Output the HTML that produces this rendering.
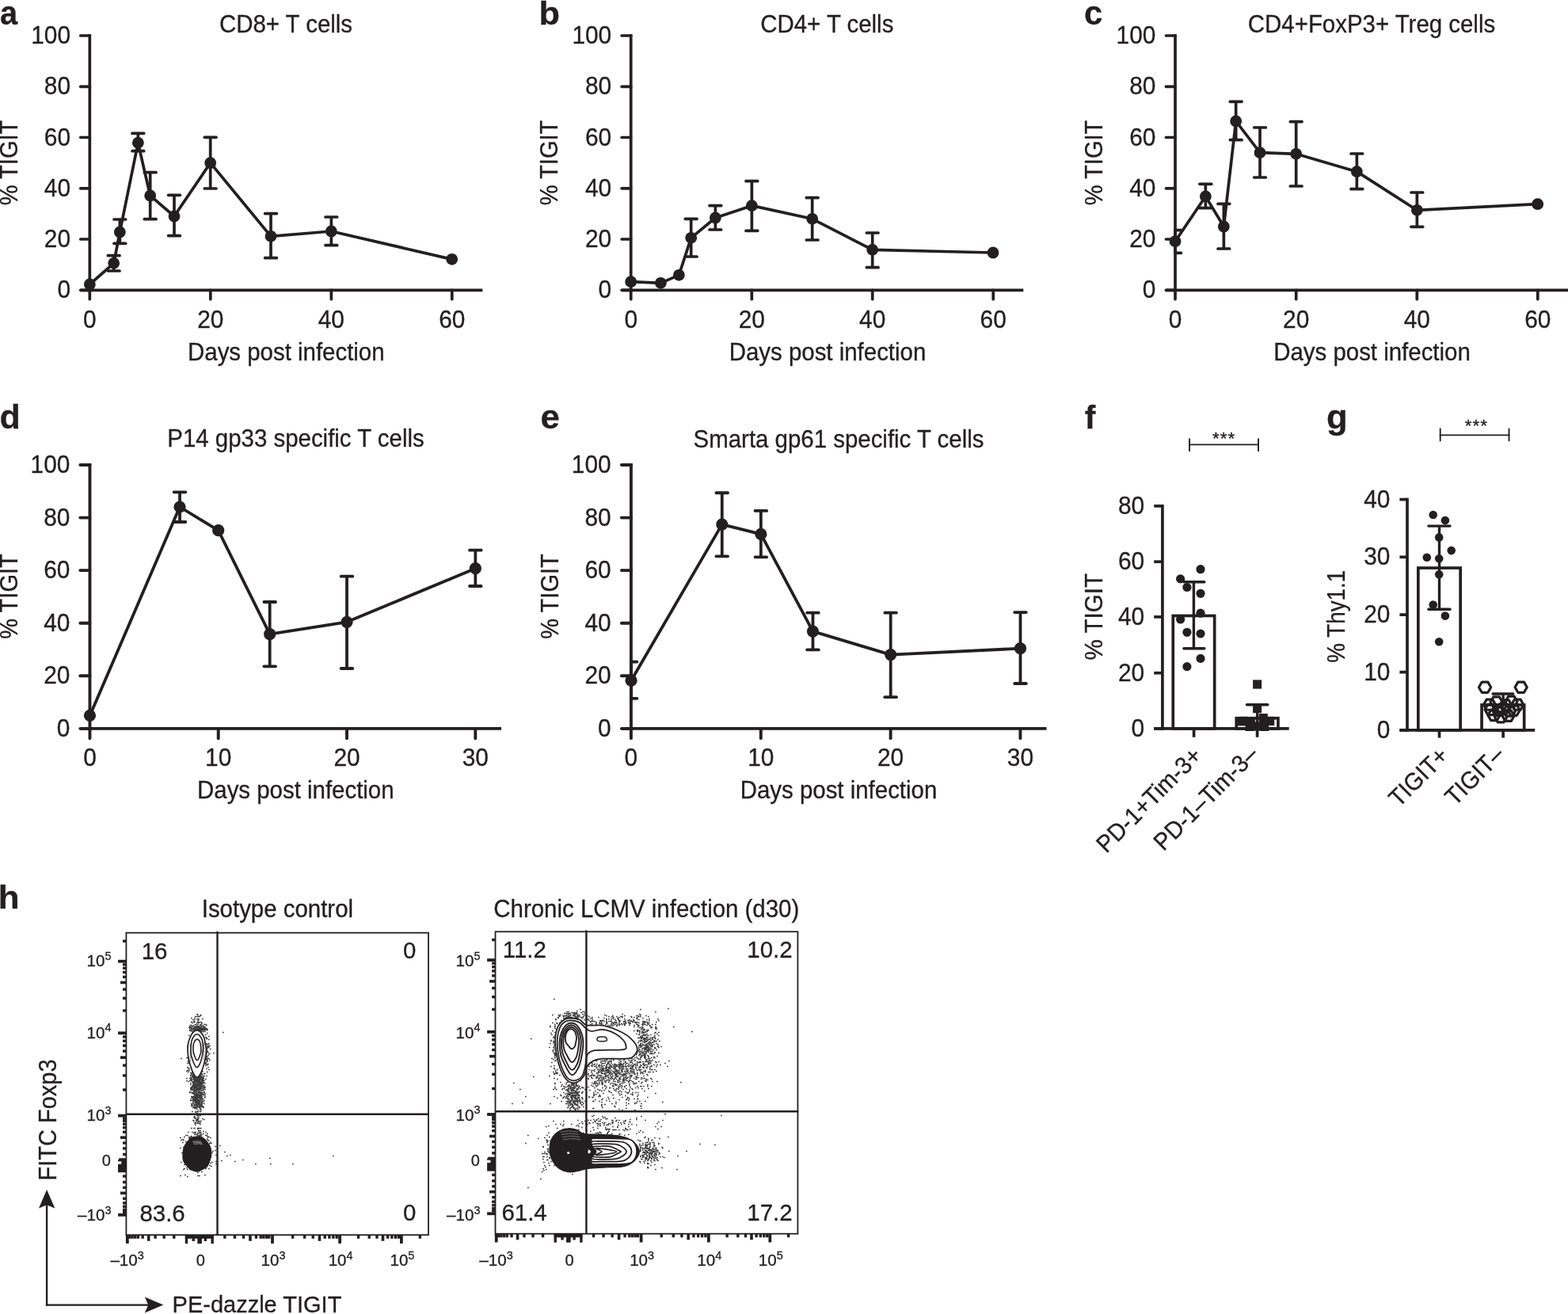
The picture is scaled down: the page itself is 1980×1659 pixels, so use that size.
<!DOCTYPE html>
<html lang="en"><head><meta charset="utf-8"><title>Figure</title>
<style>
html,body{margin:0;padding:0;background:#fff;}
svg{display:block;}
text{font-family:'Liberation Sans', Arial, Helvetica, sans-serif;fill:#231f20;stroke:#231f20;stroke-width:0.3px;}
</style></head><body>
<svg width="1980" height="1659" viewBox="0 0 1980 1659">
<rect width="1980" height="1659" fill="#fff"/>
<line x1="113.30" y1="43.15" x2="113.30" y2="368.15" stroke="#231f20" stroke-width="3.7" stroke-linecap="butt"/>
<line x1="101.75" y1="366.30" x2="609.30" y2="366.30" stroke="#231f20" stroke-width="3.7" stroke-linecap="butt"/>
<line x1="101.75" y1="45.00" x2="113.30" y2="45.00" stroke="#231f20" stroke-width="3.7" stroke-linecap="round"/>
<text font-size="29" text-anchor="end" transform="translate(89.00 55.00) scale(1.03 1.055)">100</text>
<line x1="101.75" y1="109.30" x2="113.30" y2="109.30" stroke="#231f20" stroke-width="3.7" stroke-linecap="round"/>
<text font-size="29" text-anchor="end" transform="translate(89.00 119.30) scale(1.03 1.055)">80</text>
<line x1="101.75" y1="173.50" x2="113.30" y2="173.50" stroke="#231f20" stroke-width="3.7" stroke-linecap="round"/>
<text font-size="29" text-anchor="end" transform="translate(89.00 183.50) scale(1.03 1.055)">60</text>
<line x1="101.75" y1="237.80" x2="113.30" y2="237.80" stroke="#231f20" stroke-width="3.7" stroke-linecap="round"/>
<text font-size="29" text-anchor="end" transform="translate(89.00 247.80) scale(1.03 1.055)">40</text>
<line x1="101.75" y1="302.00" x2="113.30" y2="302.00" stroke="#231f20" stroke-width="3.7" stroke-linecap="round"/>
<text font-size="29" text-anchor="end" transform="translate(89.00 312.00) scale(1.03 1.055)">20</text>
<line x1="101.75" y1="366.30" x2="113.30" y2="366.30" stroke="#231f20" stroke-width="3.7" stroke-linecap="round"/>
<text font-size="29" text-anchor="end" transform="translate(89.00 376.30) scale(1.03 1.055)">0</text>
<line x1="113.30" y1="366.30" x2="113.30" y2="377.75" stroke="#231f20" stroke-width="3.7" stroke-linecap="round"/>
<text font-size="29" text-anchor="middle" transform="translate(113.30 413.50) scale(1.03 1.055)">0</text>
<line x1="265.80" y1="366.30" x2="265.80" y2="377.75" stroke="#231f20" stroke-width="3.7" stroke-linecap="round"/>
<text font-size="29" text-anchor="middle" transform="translate(265.80 413.50) scale(1.03 1.055)">20</text>
<line x1="418.30" y1="366.30" x2="418.30" y2="377.75" stroke="#231f20" stroke-width="3.7" stroke-linecap="round"/>
<text font-size="29" text-anchor="middle" transform="translate(418.30 413.50) scale(1.03 1.055)">40</text>
<line x1="570.80" y1="366.30" x2="570.80" y2="377.75" stroke="#231f20" stroke-width="3.7" stroke-linecap="round"/>
<text font-size="29" text-anchor="middle" transform="translate(570.80 413.50) scale(1.03 1.055)">60</text>
<line x1="143.67" y1="322.67" x2="143.67" y2="342.00" stroke="#231f20" stroke-width="3.7" stroke-linecap="butt"/>
<line x1="136.32" y1="322.67" x2="151.02" y2="322.67" stroke="#231f20" stroke-width="3.7" stroke-linecap="round"/>
<line x1="136.32" y1="342.00" x2="151.02" y2="342.00" stroke="#231f20" stroke-width="3.7" stroke-linecap="round"/>
<line x1="151.33" y1="277.00" x2="151.33" y2="307.33" stroke="#231f20" stroke-width="3.7" stroke-linecap="butt"/>
<line x1="143.98" y1="277.00" x2="158.68" y2="277.00" stroke="#231f20" stroke-width="3.7" stroke-linecap="round"/>
<line x1="143.98" y1="307.33" x2="158.68" y2="307.33" stroke="#231f20" stroke-width="3.7" stroke-linecap="round"/>
<line x1="174.33" y1="168.33" x2="174.33" y2="190.67" stroke="#231f20" stroke-width="3.7" stroke-linecap="butt"/>
<line x1="166.98" y1="168.33" x2="181.68" y2="168.33" stroke="#231f20" stroke-width="3.7" stroke-linecap="round"/>
<line x1="166.98" y1="190.67" x2="181.68" y2="190.67" stroke="#231f20" stroke-width="3.7" stroke-linecap="round"/>
<line x1="189.67" y1="217.67" x2="189.67" y2="276.67" stroke="#231f20" stroke-width="3.7" stroke-linecap="butt"/>
<line x1="182.32" y1="217.67" x2="197.02" y2="217.67" stroke="#231f20" stroke-width="3.7" stroke-linecap="round"/>
<line x1="182.32" y1="276.67" x2="197.02" y2="276.67" stroke="#231f20" stroke-width="3.7" stroke-linecap="round"/>
<line x1="220.00" y1="246.33" x2="220.00" y2="297.67" stroke="#231f20" stroke-width="3.7" stroke-linecap="butt"/>
<line x1="212.65" y1="246.33" x2="227.35" y2="246.33" stroke="#231f20" stroke-width="3.7" stroke-linecap="round"/>
<line x1="212.65" y1="297.67" x2="227.35" y2="297.67" stroke="#231f20" stroke-width="3.7" stroke-linecap="round"/>
<line x1="265.67" y1="173.33" x2="265.67" y2="238.00" stroke="#231f20" stroke-width="3.7" stroke-linecap="butt"/>
<line x1="258.32" y1="173.33" x2="273.02" y2="173.33" stroke="#231f20" stroke-width="3.7" stroke-linecap="round"/>
<line x1="258.32" y1="238.00" x2="273.02" y2="238.00" stroke="#231f20" stroke-width="3.7" stroke-linecap="round"/>
<line x1="342.00" y1="269.67" x2="342.00" y2="325.67" stroke="#231f20" stroke-width="3.7" stroke-linecap="butt"/>
<line x1="334.65" y1="269.67" x2="349.35" y2="269.67" stroke="#231f20" stroke-width="3.7" stroke-linecap="round"/>
<line x1="334.65" y1="325.67" x2="349.35" y2="325.67" stroke="#231f20" stroke-width="3.7" stroke-linecap="round"/>
<line x1="418.33" y1="274.00" x2="418.33" y2="309.67" stroke="#231f20" stroke-width="3.7" stroke-linecap="butt"/>
<line x1="410.98" y1="274.00" x2="425.68" y2="274.00" stroke="#231f20" stroke-width="3.7" stroke-linecap="round"/>
<line x1="410.98" y1="309.67" x2="425.68" y2="309.67" stroke="#231f20" stroke-width="3.7" stroke-linecap="round"/>
<polyline points="113.33,359.00 143.67,332.33 151.33,293.00 174.33,180.33 189.67,247.00 220.00,273.00 265.67,205.67 342.00,298.33 418.33,292.00 570.67,327.33" fill="none" stroke="#231f20" stroke-width="3.7" stroke-linejoin="round"/>
<circle cx="113.33" cy="359.00" r="7.4" fill="#231f20"/>
<circle cx="143.67" cy="332.33" r="7.4" fill="#231f20"/>
<circle cx="151.33" cy="293.00" r="7.4" fill="#231f20"/>
<circle cx="174.33" cy="180.33" r="7.4" fill="#231f20"/>
<circle cx="189.67" cy="247.00" r="7.4" fill="#231f20"/>
<circle cx="220.00" cy="273.00" r="7.4" fill="#231f20"/>
<circle cx="265.67" cy="205.67" r="7.4" fill="#231f20"/>
<circle cx="342.00" cy="298.33" r="7.4" fill="#231f20"/>
<circle cx="418.33" cy="292.00" r="7.4" fill="#231f20"/>
<circle cx="570.67" cy="327.33" r="7.4" fill="#231f20"/>
<text font-size="29" text-anchor="middle" transform="translate(361.00 41.30) scale(1.015 1.06)">CD8+ T cells</text>
<text font-size="29" text-anchor="middle" transform="translate(361.30 455.20) scale(1.015 1.06)">Days post infection</text>
<text font-size="29" text-anchor="middle" transform="translate(22.30 205.50) rotate(-90) scale(1.0 1.06)">% TIGIT</text>
<text font-size="42.5" text-anchor="start" font-weight="bold" transform="translate(-0.10 31.00) scale(0.936 1.0)">a</text>
<line x1="796.70" y1="43.15" x2="796.70" y2="368.15" stroke="#231f20" stroke-width="3.7" stroke-linecap="butt"/>
<line x1="785.15" y1="366.30" x2="1292.30" y2="366.30" stroke="#231f20" stroke-width="3.7" stroke-linecap="butt"/>
<line x1="785.15" y1="45.00" x2="796.70" y2="45.00" stroke="#231f20" stroke-width="3.7" stroke-linecap="round"/>
<text font-size="29" text-anchor="end" transform="translate(772.20 55.00) scale(1.03 1.055)">100</text>
<line x1="785.15" y1="109.30" x2="796.70" y2="109.30" stroke="#231f20" stroke-width="3.7" stroke-linecap="round"/>
<text font-size="29" text-anchor="end" transform="translate(772.20 119.30) scale(1.03 1.055)">80</text>
<line x1="785.15" y1="173.50" x2="796.70" y2="173.50" stroke="#231f20" stroke-width="3.7" stroke-linecap="round"/>
<text font-size="29" text-anchor="end" transform="translate(772.20 183.50) scale(1.03 1.055)">60</text>
<line x1="785.15" y1="237.80" x2="796.70" y2="237.80" stroke="#231f20" stroke-width="3.7" stroke-linecap="round"/>
<text font-size="29" text-anchor="end" transform="translate(772.20 247.80) scale(1.03 1.055)">40</text>
<line x1="785.15" y1="302.00" x2="796.70" y2="302.00" stroke="#231f20" stroke-width="3.7" stroke-linecap="round"/>
<text font-size="29" text-anchor="end" transform="translate(772.20 312.00) scale(1.03 1.055)">20</text>
<line x1="785.15" y1="366.30" x2="796.70" y2="366.30" stroke="#231f20" stroke-width="3.7" stroke-linecap="round"/>
<text font-size="29" text-anchor="end" transform="translate(772.20 376.30) scale(1.03 1.055)">0</text>
<line x1="796.70" y1="366.30" x2="796.70" y2="377.75" stroke="#231f20" stroke-width="3.7" stroke-linecap="round"/>
<text font-size="29" text-anchor="middle" transform="translate(796.70 413.50) scale(1.03 1.055)">0</text>
<line x1="949.30" y1="366.30" x2="949.30" y2="377.75" stroke="#231f20" stroke-width="3.7" stroke-linecap="round"/>
<text font-size="29" text-anchor="middle" transform="translate(949.30 413.50) scale(1.03 1.055)">20</text>
<line x1="1101.70" y1="366.30" x2="1101.70" y2="377.75" stroke="#231f20" stroke-width="3.7" stroke-linecap="round"/>
<text font-size="29" text-anchor="middle" transform="translate(1101.70 413.50) scale(1.03 1.055)">40</text>
<line x1="1254.20" y1="366.30" x2="1254.20" y2="377.75" stroke="#231f20" stroke-width="3.7" stroke-linecap="round"/>
<text font-size="29" text-anchor="middle" transform="translate(1254.20 413.50) scale(1.03 1.055)">60</text>
<line x1="872.67" y1="276.33" x2="872.67" y2="324.00" stroke="#231f20" stroke-width="3.7" stroke-linecap="butt"/>
<line x1="865.32" y1="276.33" x2="880.02" y2="276.33" stroke="#231f20" stroke-width="3.7" stroke-linecap="round"/>
<line x1="865.32" y1="324.00" x2="880.02" y2="324.00" stroke="#231f20" stroke-width="3.7" stroke-linecap="round"/>
<line x1="903.33" y1="259.67" x2="903.33" y2="290.00" stroke="#231f20" stroke-width="3.7" stroke-linecap="butt"/>
<line x1="895.98" y1="259.67" x2="910.68" y2="259.67" stroke="#231f20" stroke-width="3.7" stroke-linecap="round"/>
<line x1="895.98" y1="290.00" x2="910.68" y2="290.00" stroke="#231f20" stroke-width="3.7" stroke-linecap="round"/>
<line x1="949.33" y1="228.67" x2="949.33" y2="291.33" stroke="#231f20" stroke-width="3.7" stroke-linecap="butt"/>
<line x1="941.98" y1="228.67" x2="956.68" y2="228.67" stroke="#231f20" stroke-width="3.7" stroke-linecap="round"/>
<line x1="941.98" y1="291.33" x2="956.68" y2="291.33" stroke="#231f20" stroke-width="3.7" stroke-linecap="round"/>
<line x1="1025.67" y1="249.67" x2="1025.67" y2="303.00" stroke="#231f20" stroke-width="3.7" stroke-linecap="butt"/>
<line x1="1018.32" y1="249.67" x2="1033.02" y2="249.67" stroke="#231f20" stroke-width="3.7" stroke-linecap="round"/>
<line x1="1018.32" y1="303.00" x2="1033.02" y2="303.00" stroke="#231f20" stroke-width="3.7" stroke-linecap="round"/>
<line x1="1101.67" y1="294.00" x2="1101.67" y2="337.67" stroke="#231f20" stroke-width="3.7" stroke-linecap="butt"/>
<line x1="1094.32" y1="294.00" x2="1109.02" y2="294.00" stroke="#231f20" stroke-width="3.7" stroke-linecap="round"/>
<line x1="1094.32" y1="337.67" x2="1109.02" y2="337.67" stroke="#231f20" stroke-width="3.7" stroke-linecap="round"/>
<polyline points="796.67,355.67 834.33,357.33 857.33,347.33 872.67,300.33 903.33,275.00 949.33,259.67 1025.67,276.33 1101.67,315.33 1254.00,319.00" fill="none" stroke="#231f20" stroke-width="3.7" stroke-linejoin="round"/>
<circle cx="796.67" cy="355.67" r="7.4" fill="#231f20"/>
<circle cx="834.33" cy="357.33" r="7.4" fill="#231f20"/>
<circle cx="857.33" cy="347.33" r="7.4" fill="#231f20"/>
<circle cx="872.67" cy="300.33" r="7.4" fill="#231f20"/>
<circle cx="903.33" cy="275.00" r="7.4" fill="#231f20"/>
<circle cx="949.33" cy="259.67" r="7.4" fill="#231f20"/>
<circle cx="1025.67" cy="276.33" r="7.4" fill="#231f20"/>
<circle cx="1101.67" cy="315.33" r="7.4" fill="#231f20"/>
<circle cx="1254.00" cy="319.00" r="7.4" fill="#231f20"/>
<text font-size="29" text-anchor="middle" transform="translate(1044.30 41.30) scale(1.015 1.06)">CD4+ T cells</text>
<text font-size="29" text-anchor="middle" transform="translate(1045.00 455.20) scale(1.015 1.06)">Days post infection</text>
<text font-size="29" text-anchor="middle" transform="translate(704.30 205.50) rotate(-90) scale(1.0 1.06)">% TIGIT</text>
<text font-size="41.3" text-anchor="start" font-weight="bold" transform="translate(680.50 30.80) scale(1.05 1.0)">b</text>
<line x1="1484.00" y1="43.15" x2="1484.00" y2="368.15" stroke="#231f20" stroke-width="3.7" stroke-linecap="butt"/>
<line x1="1472.45" y1="366.30" x2="1980.00" y2="366.30" stroke="#231f20" stroke-width="3.7" stroke-linecap="butt"/>
<line x1="1472.45" y1="45.00" x2="1484.00" y2="45.00" stroke="#231f20" stroke-width="3.7" stroke-linecap="round"/>
<text font-size="29" text-anchor="end" transform="translate(1459.40 55.00) scale(1.03 1.055)">100</text>
<line x1="1472.45" y1="109.30" x2="1484.00" y2="109.30" stroke="#231f20" stroke-width="3.7" stroke-linecap="round"/>
<text font-size="29" text-anchor="end" transform="translate(1459.40 119.30) scale(1.03 1.055)">80</text>
<line x1="1472.45" y1="173.50" x2="1484.00" y2="173.50" stroke="#231f20" stroke-width="3.7" stroke-linecap="round"/>
<text font-size="29" text-anchor="end" transform="translate(1459.40 183.50) scale(1.03 1.055)">60</text>
<line x1="1472.45" y1="237.80" x2="1484.00" y2="237.80" stroke="#231f20" stroke-width="3.7" stroke-linecap="round"/>
<text font-size="29" text-anchor="end" transform="translate(1459.40 247.80) scale(1.03 1.055)">40</text>
<line x1="1472.45" y1="302.00" x2="1484.00" y2="302.00" stroke="#231f20" stroke-width="3.7" stroke-linecap="round"/>
<text font-size="29" text-anchor="end" transform="translate(1459.40 312.00) scale(1.03 1.055)">20</text>
<line x1="1472.45" y1="366.30" x2="1484.00" y2="366.30" stroke="#231f20" stroke-width="3.7" stroke-linecap="round"/>
<text font-size="29" text-anchor="end" transform="translate(1459.40 376.30) scale(1.03 1.055)">0</text>
<line x1="1484.00" y1="366.30" x2="1484.00" y2="377.75" stroke="#231f20" stroke-width="3.7" stroke-linecap="round"/>
<text font-size="29" text-anchor="middle" transform="translate(1484.00 413.50) scale(1.03 1.055)">0</text>
<line x1="1636.70" y1="366.30" x2="1636.70" y2="377.75" stroke="#231f20" stroke-width="3.7" stroke-linecap="round"/>
<text font-size="29" text-anchor="middle" transform="translate(1636.70 413.50) scale(1.03 1.055)">20</text>
<line x1="1789.30" y1="366.30" x2="1789.30" y2="377.75" stroke="#231f20" stroke-width="3.7" stroke-linecap="round"/>
<text font-size="29" text-anchor="middle" transform="translate(1789.30 413.50) scale(1.03 1.055)">40</text>
<line x1="1941.80" y1="366.30" x2="1941.80" y2="377.75" stroke="#231f20" stroke-width="3.7" stroke-linecap="round"/>
<text font-size="29" text-anchor="middle" transform="translate(1941.80 413.50) scale(1.03 1.055)">60</text>
<line x1="1484.00" y1="290.67" x2="1484.00" y2="319.33" stroke="#231f20" stroke-width="3.7" stroke-linecap="butt"/>
<line x1="1484.00" y1="290.67" x2="1491.35" y2="290.67" stroke="#231f20" stroke-width="3.7" stroke-linecap="round"/>
<line x1="1484.00" y1="319.33" x2="1491.35" y2="319.33" stroke="#231f20" stroke-width="3.7" stroke-linecap="round"/>
<line x1="1522.33" y1="232.33" x2="1522.33" y2="262.67" stroke="#231f20" stroke-width="3.7" stroke-linecap="butt"/>
<line x1="1514.98" y1="232.33" x2="1529.68" y2="232.33" stroke="#231f20" stroke-width="3.7" stroke-linecap="round"/>
<line x1="1514.98" y1="262.67" x2="1529.68" y2="262.67" stroke="#231f20" stroke-width="3.7" stroke-linecap="round"/>
<line x1="1545.33" y1="257.33" x2="1545.33" y2="314.00" stroke="#231f20" stroke-width="3.7" stroke-linecap="butt"/>
<line x1="1537.98" y1="257.33" x2="1552.68" y2="257.33" stroke="#231f20" stroke-width="3.7" stroke-linecap="round"/>
<line x1="1537.98" y1="314.00" x2="1552.68" y2="314.00" stroke="#231f20" stroke-width="3.7" stroke-linecap="round"/>
<line x1="1560.67" y1="128.33" x2="1560.67" y2="176.67" stroke="#231f20" stroke-width="3.7" stroke-linecap="butt"/>
<line x1="1553.32" y1="128.33" x2="1568.02" y2="128.33" stroke="#231f20" stroke-width="3.7" stroke-linecap="round"/>
<line x1="1553.32" y1="176.67" x2="1568.02" y2="176.67" stroke="#231f20" stroke-width="3.7" stroke-linecap="round"/>
<line x1="1591.00" y1="161.00" x2="1591.00" y2="224.00" stroke="#231f20" stroke-width="3.7" stroke-linecap="butt"/>
<line x1="1583.65" y1="161.00" x2="1598.35" y2="161.00" stroke="#231f20" stroke-width="3.7" stroke-linecap="round"/>
<line x1="1583.65" y1="224.00" x2="1598.35" y2="224.00" stroke="#231f20" stroke-width="3.7" stroke-linecap="round"/>
<line x1="1636.67" y1="153.67" x2="1636.67" y2="235.00" stroke="#231f20" stroke-width="3.7" stroke-linecap="butt"/>
<line x1="1629.32" y1="153.67" x2="1644.02" y2="153.67" stroke="#231f20" stroke-width="3.7" stroke-linecap="round"/>
<line x1="1629.32" y1="235.00" x2="1644.02" y2="235.00" stroke="#231f20" stroke-width="3.7" stroke-linecap="round"/>
<line x1="1713.33" y1="194.00" x2="1713.33" y2="238.67" stroke="#231f20" stroke-width="3.7" stroke-linecap="butt"/>
<line x1="1705.98" y1="194.00" x2="1720.68" y2="194.00" stroke="#231f20" stroke-width="3.7" stroke-linecap="round"/>
<line x1="1705.98" y1="238.67" x2="1720.68" y2="238.67" stroke="#231f20" stroke-width="3.7" stroke-linecap="round"/>
<line x1="1789.33" y1="243.00" x2="1789.33" y2="286.33" stroke="#231f20" stroke-width="3.7" stroke-linecap="butt"/>
<line x1="1781.98" y1="243.00" x2="1796.68" y2="243.00" stroke="#231f20" stroke-width="3.7" stroke-linecap="round"/>
<line x1="1781.98" y1="286.33" x2="1796.68" y2="286.33" stroke="#231f20" stroke-width="3.7" stroke-linecap="round"/>
<polyline points="1484.00,304.67 1522.33,248.00 1545.33,286.00 1560.67,153.00 1591.00,192.67 1636.67,194.33 1713.33,216.67 1789.33,265.33 1941.67,257.67" fill="none" stroke="#231f20" stroke-width="3.7" stroke-linejoin="round"/>
<circle cx="1484.00" cy="304.67" r="7.4" fill="#231f20"/>
<circle cx="1522.33" cy="248.00" r="7.4" fill="#231f20"/>
<circle cx="1545.33" cy="286.00" r="7.4" fill="#231f20"/>
<circle cx="1560.67" cy="153.00" r="7.4" fill="#231f20"/>
<circle cx="1591.00" cy="192.67" r="7.4" fill="#231f20"/>
<circle cx="1636.67" cy="194.33" r="7.4" fill="#231f20"/>
<circle cx="1713.33" cy="216.67" r="7.4" fill="#231f20"/>
<circle cx="1789.33" cy="265.33" r="7.4" fill="#231f20"/>
<circle cx="1941.67" cy="257.67" r="7.4" fill="#231f20"/>
<text font-size="29" text-anchor="middle" transform="translate(1732.00 41.30) scale(1.015 1.06)">CD4+FoxP3+ Treg cells</text>
<text font-size="29" text-anchor="middle" transform="translate(1732.50 455.20) scale(1.015 1.06)">Days post infection</text>
<text font-size="29" text-anchor="middle" transform="translate(1392.00 205.50) rotate(-90) scale(1.0 1.06)">% TIGIT</text>
<text font-size="42.5" text-anchor="start" font-weight="bold" transform="translate(1369.00 31.00) scale(0.988 1.0)">c</text>
<line x1="113.45" y1="585.05" x2="113.45" y2="921.80" stroke="#231f20" stroke-width="3.9" stroke-linecap="butt"/>
<line x1="101.30" y1="919.85" x2="633.00" y2="919.85" stroke="#231f20" stroke-width="3.9" stroke-linecap="butt"/>
<line x1="101.30" y1="587.00" x2="113.45" y2="587.00" stroke="#231f20" stroke-width="3.9" stroke-linecap="round"/>
<text font-size="29" text-anchor="end" transform="translate(88.40 597.10) scale(1.03 1.09)">100</text>
<line x1="101.30" y1="653.60" x2="113.45" y2="653.60" stroke="#231f20" stroke-width="3.9" stroke-linecap="round"/>
<text font-size="29" text-anchor="end" transform="translate(88.40 663.70) scale(1.03 1.09)">80</text>
<line x1="101.30" y1="720.10" x2="113.45" y2="720.10" stroke="#231f20" stroke-width="3.9" stroke-linecap="round"/>
<text font-size="29" text-anchor="end" transform="translate(88.40 730.20) scale(1.03 1.09)">60</text>
<line x1="101.30" y1="786.70" x2="113.45" y2="786.70" stroke="#231f20" stroke-width="3.9" stroke-linecap="round"/>
<text font-size="29" text-anchor="end" transform="translate(88.40 796.80) scale(1.03 1.09)">40</text>
<line x1="101.30" y1="853.30" x2="113.45" y2="853.30" stroke="#231f20" stroke-width="3.9" stroke-linecap="round"/>
<text font-size="29" text-anchor="end" transform="translate(88.40 863.40) scale(1.03 1.09)">20</text>
<line x1="101.30" y1="919.85" x2="113.45" y2="919.85" stroke="#231f20" stroke-width="3.9" stroke-linecap="round"/>
<text font-size="29" text-anchor="end" transform="translate(88.40 929.95) scale(1.03 1.09)">0</text>
<line x1="113.45" y1="919.85" x2="113.45" y2="932.25" stroke="#231f20" stroke-width="3.9" stroke-linecap="round"/>
<text font-size="29" text-anchor="middle" transform="translate(113.45 966.70) scale(1.03 1.09)">0</text>
<line x1="275.70" y1="919.85" x2="275.70" y2="932.25" stroke="#231f20" stroke-width="3.9" stroke-linecap="round"/>
<text font-size="29" text-anchor="middle" transform="translate(275.70 966.70) scale(1.03 1.09)">10</text>
<line x1="438.00" y1="919.85" x2="438.00" y2="932.25" stroke="#231f20" stroke-width="3.9" stroke-linecap="round"/>
<text font-size="29" text-anchor="middle" transform="translate(438.00 966.70) scale(1.03 1.09)">20</text>
<line x1="600.30" y1="919.85" x2="600.30" y2="932.25" stroke="#231f20" stroke-width="3.9" stroke-linecap="round"/>
<text font-size="29" text-anchor="middle" transform="translate(600.30 966.70) scale(1.03 1.09)">30</text>
<line x1="227.00" y1="621.33" x2="227.00" y2="659.00" stroke="#231f20" stroke-width="3.8" stroke-linecap="butt"/>
<line x1="219.70" y1="621.33" x2="234.30" y2="621.33" stroke="#231f20" stroke-width="3.8" stroke-linecap="round"/>
<line x1="219.70" y1="659.00" x2="234.30" y2="659.00" stroke="#231f20" stroke-width="3.8" stroke-linecap="round"/>
<line x1="340.67" y1="760.00" x2="340.67" y2="841.33" stroke="#231f20" stroke-width="3.8" stroke-linecap="butt"/>
<line x1="333.37" y1="760.00" x2="347.97" y2="760.00" stroke="#231f20" stroke-width="3.8" stroke-linecap="round"/>
<line x1="333.37" y1="841.33" x2="347.97" y2="841.33" stroke="#231f20" stroke-width="3.8" stroke-linecap="round"/>
<line x1="438.00" y1="727.67" x2="438.00" y2="844.00" stroke="#231f20" stroke-width="3.8" stroke-linecap="butt"/>
<line x1="430.70" y1="727.67" x2="445.30" y2="727.67" stroke="#231f20" stroke-width="3.8" stroke-linecap="round"/>
<line x1="430.70" y1="844.00" x2="445.30" y2="844.00" stroke="#231f20" stroke-width="3.8" stroke-linecap="round"/>
<line x1="600.33" y1="694.67" x2="600.33" y2="740.00" stroke="#231f20" stroke-width="3.8" stroke-linecap="butt"/>
<line x1="593.03" y1="694.67" x2="607.63" y2="694.67" stroke="#231f20" stroke-width="3.8" stroke-linecap="round"/>
<line x1="593.03" y1="740.00" x2="607.63" y2="740.00" stroke="#231f20" stroke-width="3.8" stroke-linecap="round"/>
<polyline points="113.47,903.47 227.00,640.00 275.67,669.67 340.67,800.67 438.00,785.33 600.33,717.67" fill="none" stroke="#231f20" stroke-width="3.8" stroke-linejoin="round"/>
<circle cx="113.47" cy="903.47" r="7.6" fill="#231f20"/>
<circle cx="227.00" cy="640.00" r="7.6" fill="#231f20"/>
<circle cx="275.67" cy="669.67" r="7.6" fill="#231f20"/>
<circle cx="340.67" cy="800.67" r="7.6" fill="#231f20"/>
<circle cx="438.00" cy="785.33" r="7.6" fill="#231f20"/>
<circle cx="600.33" cy="717.67" r="7.6" fill="#231f20"/>
<text font-size="29" text-anchor="middle" transform="translate(373.50 564.00) scale(1.015 1.06)">P14 gp33 specific T cells</text>
<text font-size="29" text-anchor="middle" transform="translate(373.30 1008.00) scale(1.015 1.06)">Days post infection</text>
<text font-size="29" text-anchor="middle" transform="translate(22.30 753.00) rotate(-90) scale(1.0 1.06)">% TIGIT</text>
<text font-size="41.8" text-anchor="start" font-weight="bold" transform="translate(-0.60 541.40) scale(1.03 1.0)">d</text>
<line x1="796.90" y1="585.05" x2="796.90" y2="921.80" stroke="#231f20" stroke-width="3.9" stroke-linecap="butt"/>
<line x1="784.85" y1="919.85" x2="1321.50" y2="919.85" stroke="#231f20" stroke-width="3.9" stroke-linecap="butt"/>
<line x1="784.85" y1="587.00" x2="796.90" y2="587.00" stroke="#231f20" stroke-width="3.9" stroke-linecap="round"/>
<text font-size="29" text-anchor="end" transform="translate(771.70 597.10) scale(1.03 1.09)">100</text>
<line x1="784.85" y1="653.60" x2="796.90" y2="653.60" stroke="#231f20" stroke-width="3.9" stroke-linecap="round"/>
<text font-size="29" text-anchor="end" transform="translate(771.70 663.70) scale(1.03 1.09)">80</text>
<line x1="784.85" y1="720.10" x2="796.90" y2="720.10" stroke="#231f20" stroke-width="3.9" stroke-linecap="round"/>
<text font-size="29" text-anchor="end" transform="translate(771.70 730.20) scale(1.03 1.09)">60</text>
<line x1="784.85" y1="786.70" x2="796.90" y2="786.70" stroke="#231f20" stroke-width="3.9" stroke-linecap="round"/>
<text font-size="29" text-anchor="end" transform="translate(771.70 796.80) scale(1.03 1.09)">40</text>
<line x1="784.85" y1="853.30" x2="796.90" y2="853.30" stroke="#231f20" stroke-width="3.9" stroke-linecap="round"/>
<text font-size="29" text-anchor="end" transform="translate(771.70 863.40) scale(1.03 1.09)">20</text>
<line x1="784.85" y1="919.85" x2="796.90" y2="919.85" stroke="#231f20" stroke-width="3.9" stroke-linecap="round"/>
<text font-size="29" text-anchor="end" transform="translate(771.70 929.95) scale(1.03 1.09)">0</text>
<line x1="796.90" y1="919.85" x2="796.90" y2="932.15" stroke="#231f20" stroke-width="3.9" stroke-linecap="round"/>
<text font-size="29" text-anchor="middle" transform="translate(796.90 966.70) scale(1.03 1.09)">0</text>
<line x1="960.80" y1="919.85" x2="960.80" y2="932.15" stroke="#231f20" stroke-width="3.9" stroke-linecap="round"/>
<text font-size="29" text-anchor="middle" transform="translate(960.80 966.70) scale(1.03 1.09)">10</text>
<line x1="1124.60" y1="919.85" x2="1124.60" y2="932.15" stroke="#231f20" stroke-width="3.9" stroke-linecap="round"/>
<text font-size="29" text-anchor="middle" transform="translate(1124.60 966.70) scale(1.03 1.09)">20</text>
<line x1="1288.40" y1="919.85" x2="1288.40" y2="932.15" stroke="#231f20" stroke-width="3.9" stroke-linecap="round"/>
<text font-size="29" text-anchor="middle" transform="translate(1288.40 966.70) scale(1.03 1.09)">30</text>
<line x1="797.03" y1="835.54" x2="797.03" y2="881.90" stroke="#231f20" stroke-width="3.8" stroke-linecap="butt"/>
<line x1="796.90" y1="835.54" x2="804.33" y2="835.54" stroke="#231f20" stroke-width="3.8" stroke-linecap="round"/>
<line x1="796.90" y1="881.90" x2="804.33" y2="881.90" stroke="#231f20" stroke-width="3.8" stroke-linecap="round"/>
<line x1="911.74" y1="622.26" x2="911.74" y2="702.28" stroke="#231f20" stroke-width="3.8" stroke-linecap="butt"/>
<line x1="904.44" y1="622.26" x2="919.04" y2="622.26" stroke="#231f20" stroke-width="3.8" stroke-linecap="round"/>
<line x1="904.44" y1="702.28" x2="919.04" y2="702.28" stroke="#231f20" stroke-width="3.8" stroke-linecap="round"/>
<line x1="960.85" y1="644.93" x2="960.85" y2="703.31" stroke="#231f20" stroke-width="3.8" stroke-linecap="butt"/>
<line x1="953.55" y1="644.93" x2="968.15" y2="644.93" stroke="#231f20" stroke-width="3.8" stroke-linecap="round"/>
<line x1="953.55" y1="703.31" x2="968.15" y2="703.31" stroke="#231f20" stroke-width="3.8" stroke-linecap="round"/>
<line x1="1026.44" y1="773.72" x2="1026.44" y2="820.42" stroke="#231f20" stroke-width="3.8" stroke-linecap="butt"/>
<line x1="1019.14" y1="773.72" x2="1033.74" y2="773.72" stroke="#231f20" stroke-width="3.8" stroke-linecap="round"/>
<line x1="1019.14" y1="820.42" x2="1033.74" y2="820.42" stroke="#231f20" stroke-width="3.8" stroke-linecap="round"/>
<line x1="1124.67" y1="773.72" x2="1124.67" y2="880.18" stroke="#231f20" stroke-width="3.8" stroke-linecap="butt"/>
<line x1="1117.37" y1="773.72" x2="1131.97" y2="773.72" stroke="#231f20" stroke-width="3.8" stroke-linecap="round"/>
<line x1="1117.37" y1="880.18" x2="1131.97" y2="880.18" stroke="#231f20" stroke-width="3.8" stroke-linecap="round"/>
<line x1="1288.48" y1="773.03" x2="1288.48" y2="863.01" stroke="#231f20" stroke-width="3.8" stroke-linecap="butt"/>
<line x1="1281.18" y1="773.03" x2="1295.78" y2="773.03" stroke="#231f20" stroke-width="3.8" stroke-linecap="round"/>
<line x1="1281.18" y1="863.01" x2="1295.78" y2="863.01" stroke="#231f20" stroke-width="3.8" stroke-linecap="round"/>
<polyline points="797.03,859.23 911.74,662.10 960.85,674.46 1026.44,797.07 1124.67,826.61 1288.48,818.71" fill="none" stroke="#231f20" stroke-width="3.8" stroke-linejoin="round"/>
<circle cx="797.03" cy="859.23" r="7.6" fill="#231f20"/>
<circle cx="911.74" cy="662.10" r="7.6" fill="#231f20"/>
<circle cx="960.85" cy="674.46" r="7.6" fill="#231f20"/>
<circle cx="1026.44" cy="797.07" r="7.6" fill="#231f20"/>
<circle cx="1124.67" cy="826.61" r="7.6" fill="#231f20"/>
<circle cx="1288.48" cy="818.71" r="7.6" fill="#231f20"/>
<text font-size="29" text-anchor="middle" transform="translate(1059.00 565.00) scale(1.015 1.06)">Smarta gp61 specific T cells</text>
<text font-size="29" text-anchor="middle" transform="translate(1059.00 1008.00) scale(1.015 1.06)">Days post infection</text>
<text font-size="29" text-anchor="middle" transform="translate(704.60 753.00) rotate(-90) scale(1.0 1.06)">% TIGIT</text>
<text font-size="42.7" text-anchor="start" font-weight="bold" transform="translate(682.50 541.40) scale(1.023 1.0)">e</text>
<line x1="1467.90" y1="637.05" x2="1467.90" y2="921.75" stroke="#231f20" stroke-width="3.7" stroke-linecap="butt"/>
<line x1="1457.20" y1="919.90" x2="1627.70" y2="919.90" stroke="#231f20" stroke-width="3.7" stroke-linecap="butt"/>
<line x1="1457.20" y1="638.90" x2="1467.90" y2="638.90" stroke="#231f20" stroke-width="3.7" stroke-linecap="butt"/>
<text font-size="29" text-anchor="end" transform="translate(1445.20 648.90) scale(1.03 1.09)">80</text>
<line x1="1457.20" y1="709.20" x2="1467.90" y2="709.20" stroke="#231f20" stroke-width="3.7" stroke-linecap="butt"/>
<text font-size="29" text-anchor="end" transform="translate(1445.20 719.20) scale(1.03 1.09)">60</text>
<line x1="1457.20" y1="778.90" x2="1467.90" y2="778.90" stroke="#231f20" stroke-width="3.7" stroke-linecap="butt"/>
<text font-size="29" text-anchor="end" transform="translate(1445.20 788.90) scale(1.03 1.09)">40</text>
<line x1="1457.20" y1="849.70" x2="1467.90" y2="849.70" stroke="#231f20" stroke-width="3.7" stroke-linecap="butt"/>
<text font-size="29" text-anchor="end" transform="translate(1445.20 859.70) scale(1.03 1.09)">20</text>
<line x1="1457.20" y1="919.90" x2="1467.90" y2="919.90" stroke="#231f20" stroke-width="3.7" stroke-linecap="butt"/>
<text font-size="29" text-anchor="end" transform="translate(1445.20 929.90) scale(1.03 1.09)">0</text>
<line x1="1507.60" y1="919.90" x2="1507.60" y2="930.80" stroke="#231f20" stroke-width="3.7" stroke-linecap="butt"/>
<line x1="1587.60" y1="919.90" x2="1587.60" y2="930.80" stroke="#231f20" stroke-width="3.7" stroke-linecap="butt"/>
<rect x="1481.25" y="777.45" width="52.40" height="142.45" fill="none" stroke="#231f20" stroke-width="3.7"/>
<rect x="1561.25" y="906.75" width="52.70" height="13.15" fill="none" stroke="#231f20" stroke-width="3.7"/>
<line x1="1507.40" y1="734.80" x2="1507.40" y2="818.70" stroke="#231f20" stroke-width="3.4" stroke-linecap="butt"/>
<line x1="1494.90" y1="734.80" x2="1520.80" y2="734.80" stroke="#231f20" stroke-width="3.4" stroke-linecap="round"/>
<line x1="1494.90" y1="818.70" x2="1520.80" y2="818.70" stroke="#231f20" stroke-width="3.4" stroke-linecap="round"/>
<line x1="1587.60" y1="889.70" x2="1587.60" y2="919.00" stroke="#231f20" stroke-width="3.4" stroke-linecap="butt"/>
<line x1="1574.40" y1="889.70" x2="1600.80" y2="889.70" stroke="#231f20" stroke-width="3.4" stroke-linecap="round"/>
<circle cx="1516.00" cy="718.70" r="5.6" fill="#231f20"/>
<circle cx="1490.60" cy="730.90" r="5.6" fill="#231f20"/>
<circle cx="1498.90" cy="741.50" r="5.6" fill="#231f20"/>
<circle cx="1516.00" cy="749.30" r="5.6" fill="#231f20"/>
<circle cx="1516.00" cy="774.20" r="5.6" fill="#231f20"/>
<circle cx="1490.60" cy="782.00" r="5.6" fill="#231f20"/>
<circle cx="1498.90" cy="798.30" r="5.6" fill="#231f20"/>
<circle cx="1516.00" cy="800.00" r="5.6" fill="#231f20"/>
<circle cx="1516.00" cy="831.40" r="5.6" fill="#231f20"/>
<circle cx="1498.90" cy="841.60" r="5.6" fill="#231f20"/>
<rect x="1582.10" y="858.40" width="11" height="11.2" fill="#231f20"/>
<rect x="1582.10" y="889.00" width="11" height="11.2" fill="#231f20"/>
<rect x="1564.50" y="904.80" width="11" height="11.2" fill="#231f20"/>
<rect x="1598.20" y="904.80" width="11" height="11.2" fill="#231f20"/>
<rect x="1589.80" y="901.00" width="11" height="11.2" fill="#231f20"/>
<rect x="1573.90" y="907.60" width="11" height="11.2" fill="#231f20"/>
<rect x="1582.10" y="911.40" width="11" height="11.2" fill="#231f20"/>
<rect x="1572.50" y="911.80" width="11" height="11.2" fill="#231f20"/>
<rect x="1591.20" y="911.80" width="11" height="11.2" fill="#231f20"/>
<rect x="1561.30" y="905.20" width="11" height="11.2" fill="#231f20"/>
<line x1="1501.10" y1="561.40" x2="1589.90" y2="561.40" stroke="#231f20" stroke-width="1.9" stroke-linecap="butt"/>
<line x1="1502.00" y1="554.20" x2="1502.00" y2="569.20" stroke="#231f20" stroke-width="1.9" stroke-linecap="round"/>
<line x1="1589.00" y1="554.20" x2="1589.00" y2="569.20" stroke="#231f20" stroke-width="1.9" stroke-linecap="round"/>
<text font-size="22.5" text-anchor="middle" transform="translate(1545.60 561.00) scale(1.0 1.0)" stroke="none" letter-spacing="1">***</text>
<text font-size="29" text-anchor="middle" transform="translate(1392.10 778.70) rotate(-90) scale(1.02 1.06)">% TIGIT</text>
<text font-size="41.5" text-anchor="start" font-weight="bold" transform="translate(1369.80 541.10) scale(0.985 1.0)">f</text>
<text font-size="29" text-anchor="end" transform="translate(1519.40 956.00) rotate(-45) scale(1.0 1.06)">PD-1+Tim-3+</text>
<text font-size="29" text-anchor="end" transform="translate(1590.40 954.40) rotate(-45) scale(1.0 1.06)">PD-1–Tim-3–</text>
<line x1="1777.00" y1="628.75" x2="1777.00" y2="923.65" stroke="#231f20" stroke-width="3.7" stroke-linecap="butt"/>
<line x1="1767.40" y1="921.80" x2="1938.20" y2="921.80" stroke="#231f20" stroke-width="3.7" stroke-linecap="butt"/>
<line x1="1767.40" y1="630.60" x2="1777.00" y2="630.60" stroke="#231f20" stroke-width="3.7" stroke-linecap="butt"/>
<text font-size="29" text-anchor="end" transform="translate(1755.40 640.60) scale(1.03 1.09)">40</text>
<line x1="1767.40" y1="703.30" x2="1777.00" y2="703.30" stroke="#231f20" stroke-width="3.7" stroke-linecap="butt"/>
<text font-size="29" text-anchor="end" transform="translate(1755.40 713.30) scale(1.03 1.09)">30</text>
<line x1="1767.40" y1="776.10" x2="1777.00" y2="776.10" stroke="#231f20" stroke-width="3.7" stroke-linecap="butt"/>
<text font-size="29" text-anchor="end" transform="translate(1755.40 786.10) scale(1.03 1.09)">20</text>
<line x1="1767.40" y1="848.60" x2="1777.00" y2="848.60" stroke="#231f20" stroke-width="3.7" stroke-linecap="butt"/>
<text font-size="29" text-anchor="end" transform="translate(1755.40 858.60) scale(1.03 1.09)">10</text>
<line x1="1767.40" y1="921.80" x2="1777.00" y2="921.80" stroke="#231f20" stroke-width="3.7" stroke-linecap="butt"/>
<text font-size="29" text-anchor="end" transform="translate(1755.40 931.80) scale(1.03 1.09)">0</text>
<line x1="1817.50" y1="921.80" x2="1817.50" y2="931.50" stroke="#231f20" stroke-width="3.7" stroke-linecap="butt"/>
<line x1="1898.10" y1="921.80" x2="1898.10" y2="931.50" stroke="#231f20" stroke-width="3.7" stroke-linecap="butt"/>
<rect x="1790.85" y="717.05" width="53.30" height="204.75" fill="none" stroke="#231f20" stroke-width="3.7"/>
<rect x="1871.05" y="889.95" width="53.60" height="31.85" fill="none" stroke="#231f20" stroke-width="3.7"/>
<line x1="1817.50" y1="664.10" x2="1817.50" y2="769.30" stroke="#231f20" stroke-width="3.4" stroke-linecap="butt"/>
<line x1="1803.90" y1="664.10" x2="1831.00" y2="664.10" stroke="#231f20" stroke-width="3.4" stroke-linecap="round"/>
<line x1="1803.90" y1="769.30" x2="1831.00" y2="769.30" stroke="#231f20" stroke-width="3.4" stroke-linecap="round"/>
<line x1="1898.10" y1="876.00" x2="1898.10" y2="889.00" stroke="#231f20" stroke-width="3.4" stroke-linecap="butt"/>
<line x1="1885.10" y1="876.00" x2="1910.70" y2="876.00" stroke="#231f20" stroke-width="3.4" stroke-linecap="round"/>
<circle cx="1809.70" cy="650.00" r="5.3" fill="#231f20"/>
<circle cx="1824.90" cy="657.10" r="5.3" fill="#231f20"/>
<circle cx="1817.20" cy="678.40" r="5.3" fill="#231f20"/>
<circle cx="1832.70" cy="695.10" r="5.3" fill="#231f20"/>
<circle cx="1801.80" cy="703.80" r="5.3" fill="#231f20"/>
<circle cx="1817.20" cy="705.30" r="5.3" fill="#231f20"/>
<circle cx="1817.20" cy="725.20" r="5.3" fill="#231f20"/>
<circle cx="1809.70" cy="763.50" r="5.3" fill="#231f20"/>
<circle cx="1824.90" cy="777.60" r="5.3" fill="#231f20"/>
<circle cx="1817.20" cy="810.20" r="5.3" fill="#231f20"/>
<polygon points="1882.65,867.74 1878.85,874.32 1871.25,874.32 1867.45,867.74 1871.25,861.16 1878.85,861.16" fill="none" stroke="#231f20" stroke-width="3.2" stroke-linejoin="round"/>
<polygon points="1928.26,867.74 1924.46,874.32 1916.86,874.32 1913.06,867.74 1916.86,861.16 1924.46,861.16" fill="none" stroke="#231f20" stroke-width="3.2" stroke-linejoin="round"/>
<polygon points="1888.60,889.69 1884.80,896.27 1877.20,896.27 1873.40,889.69 1877.20,883.10 1884.80,883.10" fill="none" stroke="#231f20" stroke-width="3.2" stroke-linejoin="round"/>
<polygon points="1897.22,886.55 1893.42,893.13 1885.82,893.13 1882.02,886.55 1885.82,879.97 1893.42,879.97" fill="none" stroke="#231f20" stroke-width="3.2" stroke-linejoin="round"/>
<polygon points="1916.03,885.77 1912.23,892.35 1904.63,892.35 1900.83,885.77 1904.63,879.19 1912.23,879.19" fill="none" stroke="#231f20" stroke-width="3.2" stroke-linejoin="round"/>
<polygon points="1923.87,889.69 1920.07,896.27 1912.47,896.27 1908.67,889.69 1912.47,883.10 1920.07,883.10" fill="none" stroke="#231f20" stroke-width="3.2" stroke-linejoin="round"/>
<polygon points="1894.09,903.01 1890.29,909.59 1882.69,909.59 1878.89,903.01 1882.69,896.43 1890.29,896.43" fill="none" stroke="#231f20" stroke-width="3.2" stroke-linejoin="round"/>
<polygon points="1902.71,905.36 1898.91,911.94 1891.31,911.94 1887.51,905.36 1891.31,898.78 1898.91,898.78" fill="none" stroke="#231f20" stroke-width="3.2" stroke-linejoin="round"/>
<polygon points="1912.11,903.79 1908.31,910.37 1900.71,910.37 1896.91,903.79 1900.71,897.21 1908.31,897.21" fill="none" stroke="#231f20" stroke-width="3.2" stroke-linejoin="round"/>
<polygon points="1919.17,896.74 1915.37,903.32 1907.77,903.32 1903.97,896.74 1907.77,890.16 1915.37,890.16" fill="none" stroke="#231f20" stroke-width="3.2" stroke-linejoin="round"/>
<polygon points="1905.84,895.17 1902.04,901.75 1894.44,901.75 1890.64,895.17 1894.44,888.59 1902.04,888.59" fill="none" stroke="#231f20" stroke-width="3.2" stroke-linejoin="round"/>
<polygon points="1890.17,895.96 1886.37,902.54 1878.77,902.54 1874.97,895.96 1878.77,889.37 1886.37,889.37" fill="none" stroke="#231f20" stroke-width="3.2" stroke-linejoin="round"/>
<polygon points="1908.98,890.47 1905.18,897.05 1897.58,897.05 1893.78,890.47 1897.58,883.89 1905.18,883.89" fill="none" stroke="#231f20" stroke-width="3.2" stroke-linejoin="round"/>
<polygon points="1899.57,896.74 1895.77,903.32 1888.17,903.32 1884.37,896.74 1888.17,890.16 1895.77,890.16" fill="none" stroke="#231f20" stroke-width="3.2" stroke-linejoin="round"/>
<polygon points="1913.68,897.52 1909.88,904.11 1902.28,904.11 1898.48,897.52 1902.28,890.94 1909.88,890.94" fill="none" stroke="#231f20" stroke-width="3.2" stroke-linejoin="round"/>
<line x1="1817.80" y1="549.40" x2="1906.40" y2="549.40" stroke="#231f20" stroke-width="1.9" stroke-linecap="butt"/>
<line x1="1818.70" y1="541.40" x2="1818.70" y2="556.40" stroke="#231f20" stroke-width="1.9" stroke-linecap="round"/>
<line x1="1905.50" y1="541.40" x2="1905.50" y2="556.40" stroke="#231f20" stroke-width="1.9" stroke-linecap="round"/>
<text font-size="22.5" text-anchor="middle" transform="translate(1864.40 545.40) scale(1.0 1.0)" stroke="none" letter-spacing="1">***</text>
<text font-size="29" text-anchor="middle" transform="translate(1697.90 778.30) rotate(-90) scale(0.96 1.06)">% Thy1.1</text>
<text font-size="42.0" text-anchor="start" font-weight="bold" transform="translate(1675.10 541.10) scale(1.04 1.0)">g</text>
<text font-size="29" text-anchor="end" transform="translate(1830.70 955.90) rotate(-45) scale(1.0 1.06)">TIGIT+</text>
<text font-size="29" text-anchor="end" transform="translate(1901.00 954.70) rotate(-45) scale(1.0 1.06)">TIGIT–</text>
<text font-size="40.7" text-anchor="start" font-weight="bold" transform="translate(-2.30 1146.70) scale(1.08 1.0)">h</text>
<text font-size="29" text-anchor="middle" transform="translate(350.40 1158.00) scale(1.015 1.06)">Isotype control</text>
<text font-size="29" text-anchor="middle" transform="translate(816.30 1158.00) scale(1.015 1.06)">Chronic LCMV infection (d30)</text>
<text font-size="29" text-anchor="middle" transform="translate(71.20 1414.00) rotate(-90) scale(1.0 1.06)">FITC Foxp3</text>
<text font-size="29" text-anchor="start" transform="translate(217.60 1657.00) scale(1.0 1.04)">PE-dazzle TIGIT</text>
<line x1="59.10" y1="1518.00" x2="59.10" y2="1648.80" stroke="#231f20" stroke-width="2.4" stroke-linecap="butt"/>
<line x1="57.90" y1="1647.60" x2="190.00" y2="1647.60" stroke="#231f20" stroke-width="2.4" stroke-linecap="butt"/>
<polygon points="59.1,1502 49,1525.6 59.1,1521.3 69.3,1525.6" fill="#231f20"/>
<polygon points="206.3,1647.6 182.8,1637.6 187.2,1647.6 182.8,1657.6" fill="#231f20"/>
<path d="M248.0,1299.5h1.7M248.0,1297.5h1.7M244.0,1297.5h1.7M256.0,1299.5h1.7M255.0,1299.5h1.7M252.0,1298.5h1.7M240.0,1300.5h1.7M252.0,1299.5h1.7M240.0,1294.5h1.7M245.0,1297.5h1.7M251.0,1298.5h1.7M252.0,1296.5h1.7M251.0,1299.5h1.7M246.0,1302.5h1.7M253.0,1301.5h1.7M246.0,1296.5h1.7M248.0,1298.5h1.7M253.0,1299.5h1.7M247.0,1296.5h1.7M247.0,1301.5h1.7M245.0,1299.5h1.7M252.0,1294.5h1.7M250.0,1301.5h1.7M238.0,1297.5h1.7M249.0,1296.5h1.7M252.0,1298.5h1.7M241.0,1300.5h1.7M253.0,1300.5h1.7M257.0,1299.5h1.7M250.0,1295.5h1.7M253.0,1297.5h1.7M247.0,1295.5h1.7M244.0,1297.5h1.7M257.0,1293.5h1.7M241.0,1299.5h1.7M257.0,1299.5h1.7M251.0,1296.5h1.7M243.0,1300.5h1.7M256.0,1298.5h1.7M251.0,1299.5h1.7M258.0,1299.5h1.7M252.0,1299.5h1.7M241.0,1301.5h1.7M255.0,1299.5h1.7M239.0,1296.5h1.7M254.0,1294.5h1.7M248.0,1300.5h1.7M242.0,1302.5h1.7M253.0,1298.5h1.7M251.0,1300.5h1.7M250.0,1301.5h1.7M246.0,1297.5h1.7M255.0,1298.5h1.7M245.0,1300.5h1.7M258.0,1297.5h1.7M242.0,1298.5h1.7M249.0,1297.5h1.7M257.0,1296.5h1.7M256.0,1295.5h1.7M245.0,1300.5h1.7M256.0,1300.5h1.7M251.0,1298.5h1.7M250.0,1299.5h1.7M249.0,1299.5h1.7M253.0,1298.5h1.7M254.0,1299.5h1.7M261.0,1299.5h1.7M247.0,1297.5h1.7M249.0,1300.5h1.7M248.0,1299.5h1.7M243.0,1299.5h1.7M252.0,1299.5h1.7M247.0,1300.5h1.7M251.0,1297.5h1.7M246.0,1298.5h1.7M248.0,1298.5h1.7M255.0,1295.5h1.7M249.0,1300.5h1.7M254.0,1302.5h1.7M240.0,1297.5h1.7M248.0,1299.5h1.7M255.0,1295.5h1.7M253.0,1294.5h1.7M250.0,1301.5h1.7M249.0,1298.5h1.7M254.0,1298.5h1.7M249.0,1302.5h1.7M255.0,1297.5h1.7M255.0,1297.5h1.7M250.0,1300.5h1.7M251.0,1300.5h1.7M241.0,1294.5h1.7M253.0,1296.5h1.7M244.0,1294.5h1.7M256.0,1300.5h1.7M258.0,1296.5h1.7M250.0,1295.5h1.7M254.0,1302.5h1.7M245.0,1302.5h1.7M255.0,1298.5h1.7M239.0,1301.5h1.7M249.0,1297.5h1.7M252.0,1299.5h1.7M258.0,1296.5h1.7M256.0,1302.5h1.7M257.0,1298.5h1.7M245.0,1300.5h1.7M250.0,1298.5h1.7M257.0,1297.5h1.7M239.0,1300.5h1.7M251.0,1297.5h1.7M249.0,1300.5h1.7M250.0,1301.5h1.7M249.0,1300.5h1.7M258.0,1302.5h1.7M246.0,1300.5h1.7M239.0,1295.5h1.7M239.0,1301.5h1.7M243.0,1298.5h1.7M248.0,1298.5h1.7M246.0,1299.5h1.7M259.0,1298.5h1.7M252.0,1300.5h1.7M248.0,1295.5h1.7M246.0,1301.5h1.7M240.0,1297.5h1.7M255.0,1300.5h1.7M250.0,1300.5h1.7M250.0,1295.5h1.7M241.0,1296.5h1.7M255.0,1297.5h1.7M245.0,1296.5h1.7M241.0,1298.5h1.7M243.0,1299.5h1.7M246.0,1293.5h1.7M253.0,1297.5h1.7M251.0,1297.5h1.7M254.0,1300.5h1.7M253.0,1299.5h1.7M257.0,1300.5h1.7M254.0,1301.5h1.7M248.0,1297.5h1.7M260.0,1294.5h1.7M252.0,1304.5h1.7M244.0,1300.5h1.7M260.0,1298.5h1.7M253.0,1300.5h1.7M245.0,1298.5h1.7M251.0,1300.5h1.7M249.0,1298.5h1.7M244.0,1297.5h1.7M254.0,1298.5h1.7M245.0,1296.5h1.7M253.0,1299.5h1.7M259.0,1299.5h1.7M249.0,1299.5h1.7M239.0,1300.5h1.7M251.0,1296.5h1.7M257.0,1302.5h1.7M242.0,1296.5h1.7M251.0,1298.5h1.7M247.0,1296.5h1.7M261.0,1300.5h1.7M243.0,1295.5h1.7M259.0,1300.5h1.7M260.0,1300.5h1.7M245.0,1299.5h1.7M249.0,1299.5h1.7M245.0,1298.5h1.7M252.0,1299.5h1.7M253.0,1299.5h1.7M248.0,1300.5h1.7M250.0,1296.5h1.7M246.0,1298.5h1.7M249.0,1298.5h1.7M249.0,1298.5h1.7M249.0,1295.5h1.7M252.0,1301.5h1.7M252.0,1298.5h1.7M252.0,1296.5h1.7M239.0,1298.5h1.7M244.0,1300.5h1.7M244.0,1302.5h1.7M247.0,1295.5h1.7M245.0,1299.5h1.7M252.0,1298.5h1.7M258.0,1300.5h1.7M249.0,1299.5h1.7M259.0,1300.5h1.7M255.0,1295.5h1.7M249.0,1300.5h1.7M248.0,1301.5h1.7M253.0,1300.5h1.7M256.0,1297.5h1.7M248.0,1300.5h1.7M255.0,1298.5h1.7M243.0,1298.5h1.7M251.0,1301.5h1.7M254.0,1298.5h1.7M254.0,1299.5h1.7M251.0,1290.5h1.7M249.0,1293.5h1.7M245.0,1287.5h1.7M250.0,1283.5h1.7M248.0,1280.5h1.7M247.0,1293.5h1.7M253.0,1290.5h1.7M249.0,1283.5h1.7M259.0,1293.5h1.7M255.0,1286.5h1.7M249.0,1281.5h1.7M254.0,1295.5h1.7M241.0,1290.5h1.7M253.0,1281.5h1.7M241.0,1285.5h1.7M247.0,1283.5h1.7M250.0,1291.5h1.7M253.0,1294.5h1.7M258.0,1296.5h1.7M243.0,1287.5h1.7M245.0,1285.5h1.7M250.0,1290.5h1.7M252.0,1282.5h1.7M244.0,1290.5h1.7M249.0,1288.5h1.7M250.0,1286.5h1.7M254.0,1292.5h1.7M250.0,1287.5h1.7M245.0,1290.5h1.7M242.0,1291.5h1.7M251.0,1283.5h1.7M249.0,1288.5h1.7M252.0,1293.5h1.7M250.0,1286.5h1.7M249.0,1290.5h1.7M254.0,1291.5h1.7M246.0,1283.5h1.7M248.0,1286.5h1.7M244.0,1289.5h1.7M248.0,1291.5h1.7M261.0,1323.5h1.7M265.0,1324.5h1.7M262.0,1332.5h1.7M259.0,1334.5h1.7M261.0,1353.5h1.7M262.0,1347.5h1.7M261.0,1327.5h1.7M261.0,1311.5h1.7M263.0,1312.5h1.7M260.0,1330.5h1.7M263.0,1330.5h1.7M259.0,1335.5h1.7M262.0,1343.5h1.7M259.0,1362.5h1.7M264.0,1330.5h1.7M261.0,1322.5h1.7M263.0,1317.5h1.7M262.0,1321.5h1.7M259.0,1343.5h1.7M263.0,1330.5h1.7M259.0,1345.5h1.7M260.0,1336.5h1.7M263.0,1350.5h1.7M261.0,1344.5h1.7M259.0,1329.5h1.7M263.0,1308.5h1.7M263.0,1322.5h1.7M260.0,1324.5h1.7M260.0,1310.5h1.7M261.0,1304.5h1.7M260.0,1336.5h1.7M261.0,1326.5h1.7M259.0,1333.5h1.7M260.0,1358.5h1.7M262.0,1328.5h1.7M260.0,1317.5h1.7M259.0,1324.5h1.7M261.0,1339.5h1.7M259.0,1330.5h1.7M260.0,1333.5h1.7M261.0,1337.5h1.7M260.0,1337.5h1.7M261.0,1344.5h1.7M260.0,1311.5h1.7M259.0,1341.5h1.7M259.0,1341.5h1.7M262.0,1336.5h1.7M261.0,1328.5h1.7M261.0,1320.5h1.7M260.0,1343.5h1.7M259.0,1342.5h1.7M264.0,1320.5h1.7M261.0,1327.5h1.7M263.0,1336.5h1.7M262.0,1318.5h1.7M260.0,1330.5h1.7M262.0,1328.5h1.7M261.0,1337.5h1.7M263.0,1320.5h1.7M259.0,1306.5h1.7M258.0,1336.5h1.7M264.0,1338.5h1.7M260.0,1318.5h1.7M261.0,1340.5h1.7M259.0,1309.5h1.7M261.0,1334.5h1.7M258.0,1326.5h1.7M260.0,1338.5h1.7M260.0,1328.5h1.7M260.0,1349.5h1.7M239.0,1328.5h1.7M238.0,1321.5h1.7M237.0,1348.5h1.7M239.0,1328.5h1.7M237.0,1339.5h1.7M235.0,1335.5h1.7M236.0,1342.5h1.7M237.0,1340.5h1.7M236.0,1351.5h1.7M237.0,1324.5h1.7M238.0,1307.5h1.7M236.0,1335.5h1.7M238.0,1332.5h1.7M237.0,1323.5h1.7M237.0,1365.5h1.7M236.0,1335.5h1.7M237.0,1353.5h1.7M238.0,1349.5h1.7M237.0,1340.5h1.7M238.0,1342.5h1.7M239.0,1313.5h1.7M238.0,1328.5h1.7M237.0,1330.5h1.7M236.0,1320.5h1.7M236.0,1347.5h1.7M237.0,1336.5h1.7M237.0,1351.5h1.7M238.0,1332.5h1.7M238.0,1332.5h1.7M235.0,1361.5h1.7M238.0,1318.5h1.7M239.0,1341.5h1.7M235.0,1364.5h1.7M238.0,1351.5h1.7M237.0,1332.5h1.7M235.0,1352.5h1.7M237.0,1330.5h1.7M238.0,1336.5h1.7M238.0,1328.5h1.7M236.0,1347.5h1.7M255.0,1363.5h1.7M248.0,1380.5h1.7M247.0,1373.5h1.7M256.0,1366.5h1.7M254.0,1360.5h1.7M250.0,1365.5h1.7M249.0,1376.5h1.7M246.0,1370.5h1.7M244.0,1370.5h1.7M251.0,1364.5h1.7M251.0,1352.5h1.7M252.0,1352.5h1.7M245.0,1361.5h1.7M247.0,1374.5h1.7M249.0,1362.5h1.7M251.0,1380.5h1.7M249.0,1369.5h1.7M254.0,1368.5h1.7M248.0,1370.5h1.7M253.0,1372.5h1.7M247.0,1357.5h1.7M249.0,1375.5h1.7M244.0,1357.5h1.7M248.0,1349.5h1.7M247.0,1362.5h1.7M251.0,1360.5h1.7M245.0,1362.5h1.7M248.0,1360.5h1.7M249.0,1373.5h1.7M254.0,1381.5h1.7M245.0,1362.5h1.7M245.0,1366.5h1.7M251.0,1354.5h1.7M251.0,1366.5h1.7M240.0,1369.5h1.7M254.0,1349.5h1.7M252.0,1368.5h1.7M251.0,1370.5h1.7M255.0,1364.5h1.7M253.0,1362.5h1.7M252.0,1359.5h1.7M248.0,1382.5h1.7M251.0,1365.5h1.7M243.0,1359.5h1.7M249.0,1374.5h1.7M251.0,1371.5h1.7M248.0,1378.5h1.7M247.0,1361.5h1.7M253.0,1367.5h1.7M247.0,1361.5h1.7M247.0,1372.5h1.7M250.0,1355.5h1.7M251.0,1368.5h1.7M244.0,1373.5h1.7M247.0,1363.5h1.7M252.0,1378.5h1.7M245.0,1370.5h1.7M246.0,1377.5h1.7M246.0,1373.5h1.7M247.0,1371.5h1.7M248.0,1360.5h1.7M258.0,1367.5h1.7M241.0,1374.5h1.7M241.0,1376.5h1.7M246.0,1367.5h1.7M254.0,1367.5h1.7M242.0,1351.5h1.7M254.0,1373.5h1.7M245.0,1374.5h1.7M251.0,1372.5h1.7M253.0,1373.5h1.7M249.0,1370.5h1.7M247.0,1366.5h1.7M253.0,1362.5h1.7M254.0,1359.5h1.7M250.0,1361.5h1.7M249.0,1360.5h1.7M241.0,1376.5h1.7M250.0,1361.5h1.7M250.0,1375.5h1.7M244.0,1365.5h1.7M251.0,1371.5h1.7M254.0,1369.5h1.7M249.0,1363.5h1.7M250.0,1362.5h1.7M244.0,1359.5h1.7M246.0,1360.5h1.7M243.0,1372.5h1.7M243.0,1372.5h1.7M244.0,1369.5h1.7M255.0,1368.5h1.7M245.0,1366.5h1.7M249.0,1350.5h1.7M246.0,1367.5h1.7M246.0,1367.5h1.7M252.0,1373.5h1.7M253.0,1371.5h1.7M247.0,1366.5h1.7M247.0,1363.5h1.7M248.0,1350.5h1.7M247.0,1366.5h1.7M244.0,1366.5h1.7M251.0,1365.5h1.7M248.0,1350.5h1.7M251.0,1363.5h1.7M253.0,1369.5h1.7M249.0,1361.5h1.7M252.0,1362.5h1.7M250.0,1361.5h1.7M250.0,1373.5h1.7M245.0,1366.5h1.7M251.0,1367.5h1.7M254.0,1384.5h1.7M244.0,1349.5h1.7M253.0,1380.5h1.7M253.0,1373.5h1.7M246.0,1360.5h1.7M253.0,1358.5h1.7M240.0,1357.5h1.7M245.0,1359.5h1.7M250.0,1359.5h1.7M255.0,1365.5h1.7M244.0,1378.5h1.7M246.0,1368.5h1.7M249.0,1363.5h1.7M250.0,1360.5h1.7M243.0,1359.5h1.7M248.0,1366.5h1.7M251.0,1367.5h1.7M245.0,1360.5h1.7M239.0,1364.5h1.7M251.0,1371.5h1.7M248.0,1364.5h1.7M253.0,1366.5h1.7M252.0,1371.5h1.7M250.0,1378.5h1.7M246.0,1363.5h1.7M245.0,1359.5h1.7M256.0,1382.5h1.7M249.0,1371.5h1.7M254.0,1373.5h1.7M254.0,1355.5h1.7M246.0,1370.5h1.7M255.0,1367.5h1.7M245.0,1363.5h1.7M246.0,1358.5h1.7M256.0,1360.5h1.7M249.0,1385.5h1.7M254.0,1369.5h1.7M246.0,1370.5h1.7M256.0,1372.5h1.7M254.0,1367.5h1.7M251.0,1364.5h1.7M251.0,1378.5h1.7M242.0,1365.5h1.7M250.0,1361.5h1.7M247.0,1373.5h1.7M258.0,1372.5h1.7M250.0,1352.5h1.7M257.0,1367.5h1.7M248.0,1356.5h1.7M248.0,1356.5h1.7M249.0,1370.5h1.7M249.0,1369.5h1.7M245.0,1379.5h1.7M246.0,1350.5h1.7M248.0,1359.5h1.7M244.0,1363.5h1.7M250.0,1355.5h1.7M248.0,1379.5h1.7M252.0,1365.5h1.7M249.0,1365.5h1.7M248.0,1373.5h1.7M249.0,1358.5h1.7M252.0,1361.5h1.7M249.0,1386.5h1.7M244.0,1356.5h1.7M240.0,1369.5h1.7M246.0,1349.5h1.7M242.0,1372.5h1.7M245.0,1363.5h1.7M250.0,1378.5h1.7M258.0,1375.5h1.7M249.0,1368.5h1.7M257.0,1379.5h1.7M247.0,1370.5h1.7M250.0,1366.5h1.7M246.0,1354.5h1.7M246.0,1352.5h1.7M254.0,1371.5h1.7M243.0,1379.5h1.7M253.0,1349.5h1.7M257.0,1373.5h1.7M258.0,1355.5h1.7M251.0,1370.5h1.7M250.0,1368.5h1.7M253.0,1353.5h1.7M243.0,1353.5h1.7M246.0,1361.5h1.7M250.0,1368.5h1.7M249.0,1360.5h1.7M247.0,1375.5h1.7M252.0,1367.5h1.7M247.0,1380.5h1.7M246.0,1372.5h1.7M254.0,1364.5h1.7M252.0,1356.5h1.7M253.0,1368.5h1.7M241.0,1372.5h1.7M244.0,1378.5h1.7M245.0,1365.5h1.7M250.0,1363.5h1.7M250.0,1361.5h1.7M252.0,1366.5h1.7M254.0,1366.5h1.7M240.0,1367.5h1.7M251.0,1376.5h1.7M244.0,1380.5h1.7M248.0,1372.5h1.7M247.0,1356.5h1.7M254.0,1374.5h1.7M256.0,1374.5h1.7M246.0,1351.5h1.7M246.0,1360.5h1.7M245.0,1371.5h1.7M250.0,1364.5h1.7M249.0,1365.5h1.7M250.0,1373.5h1.7M253.0,1360.5h1.7M242.0,1379.5h1.7M249.0,1376.5h1.7M241.0,1363.5h1.7M249.0,1353.5h1.7M246.0,1373.5h1.7M254.0,1380.5h1.7M245.0,1353.5h1.7M251.0,1374.5h1.7M249.0,1354.5h1.7M252.0,1373.5h1.7M251.0,1362.5h1.7M250.0,1373.5h1.7M246.0,1349.5h1.7M250.0,1370.5h1.7M249.0,1374.5h1.7M246.0,1365.5h1.7M247.0,1371.5h1.7M256.0,1364.5h1.7M258.0,1380.5h1.7M252.0,1371.5h1.7M257.0,1364.5h1.7M248.0,1356.5h1.7M251.0,1378.5h1.7M251.0,1370.5h1.7M248.0,1368.5h1.7M242.0,1375.5h1.7M247.0,1356.5h1.7M245.0,1359.5h1.7M253.0,1376.5h1.7M242.0,1374.5h1.7M253.0,1361.5h1.7M242.0,1359.5h1.7M246.0,1369.5h1.7M250.0,1352.5h1.7M253.0,1355.5h1.7M245.0,1358.5h1.7M246.0,1378.5h1.7M253.0,1371.5h1.7M250.0,1352.5h1.7M246.0,1361.5h1.7M244.0,1371.5h1.7M245.0,1360.5h1.7M251.0,1378.5h1.7M249.0,1357.5h1.7M254.0,1369.5h1.7M253.0,1379.5h1.7M254.0,1362.5h1.7M253.0,1373.5h1.7M242.0,1362.5h1.7M242.0,1365.5h1.7M251.0,1356.5h1.7M239.0,1378.5h1.7M250.0,1379.5h1.7M243.0,1376.5h1.7M258.0,1384.5h1.7M248.0,1368.5h1.7M248.0,1375.5h1.7M253.0,1367.5h1.7M242.0,1373.5h1.7M246.0,1372.5h1.7M250.0,1381.5h1.7M254.0,1362.5h1.7M250.0,1382.5h1.7M246.0,1370.5h1.7M254.0,1377.5h1.7M251.0,1354.5h1.7M243.0,1368.5h1.7M245.0,1376.5h1.7M252.0,1351.5h1.7M245.0,1367.5h1.7M246.0,1365.5h1.7M251.0,1359.5h1.7M251.0,1360.5h1.7M246.0,1371.5h1.7M246.0,1369.5h1.7M256.0,1366.5h1.7M248.0,1373.5h1.7M247.0,1376.5h1.7M243.0,1372.5h1.7M246.0,1359.5h1.7M257.0,1358.5h1.7M257.0,1372.5h1.7M255.0,1357.5h1.7M254.0,1379.5h1.7M248.0,1365.5h1.7M247.0,1360.5h1.7M251.0,1369.5h1.7M249.0,1381.5h1.7M247.0,1370.5h1.7M255.0,1357.5h1.7M253.0,1382.5h1.7M242.0,1356.5h1.7M244.0,1349.5h1.7M251.0,1349.5h1.7M251.0,1379.5h1.7M241.0,1363.5h1.7M240.0,1373.5h1.7M245.0,1364.5h1.7M249.0,1371.5h1.7M247.0,1366.5h1.7M246.0,1367.5h1.7M243.0,1367.5h1.7M240.0,1362.5h1.7M257.0,1367.5h1.7M243.0,1368.5h1.7M244.0,1351.5h1.7M245.0,1373.5h1.7M250.0,1365.5h1.7M244.0,1356.5h1.7M255.0,1368.5h1.7M243.0,1365.5h1.7M250.0,1365.5h1.7M247.0,1354.5h1.7M244.0,1381.5h1.7M245.0,1374.5h1.7M241.0,1364.5h1.7M250.0,1375.5h1.7M243.0,1371.5h1.7M250.0,1359.5h1.7M251.0,1358.5h1.7M245.0,1366.5h1.7M244.0,1353.5h1.7M247.0,1373.5h1.7M247.0,1377.5h1.7M243.0,1354.5h1.7M256.0,1370.5h1.7M253.0,1359.5h1.7M252.0,1368.5h1.7M252.0,1366.5h1.7M254.0,1360.5h1.7M244.0,1353.5h1.7M254.0,1359.5h1.7M244.0,1358.5h1.7M247.0,1355.5h1.7M247.0,1360.5h1.7M246.0,1357.5h1.7M249.0,1362.5h1.7M249.0,1368.5h1.7M246.0,1359.5h1.7M252.0,1352.5h1.7M245.0,1363.5h1.7M247.0,1375.5h1.7M247.0,1375.5h1.7M242.0,1350.5h1.7M254.0,1370.5h1.7M251.0,1367.5h1.7M251.0,1355.5h1.7M253.0,1361.5h1.7M253.0,1367.5h1.7M240.0,1354.5h1.7M254.0,1365.5h1.7M247.0,1368.5h1.7M247.0,1361.5h1.7M249.0,1367.5h1.7M256.0,1366.5h1.7M257.0,1382.5h1.7M256.0,1376.5h1.7M249.0,1367.5h1.7M248.0,1359.5h1.7M248.0,1360.5h1.7M256.0,1371.5h1.7M247.0,1349.5h1.7M248.0,1362.5h1.7M244.0,1356.5h1.7M248.0,1365.5h1.7M255.0,1367.5h1.7M249.0,1363.5h1.7M246.0,1379.5h1.7M253.0,1381.5h1.7M247.0,1366.5h1.7M245.0,1375.5h1.7M242.0,1371.5h1.7M254.0,1379.5h1.7M244.0,1376.5h1.7M245.0,1359.5h1.7M243.0,1376.5h1.7M256.0,1361.5h1.7M245.0,1363.5h1.7M246.0,1350.5h1.7M246.0,1377.5h1.7M257.0,1364.5h1.7M245.0,1361.5h1.7M240.0,1374.5h1.7M244.0,1376.5h1.7M241.0,1355.5h1.7M250.0,1359.5h1.7M252.0,1366.5h1.7M243.0,1372.5h1.7M252.0,1349.5h1.7M257.0,1370.5h1.7M252.0,1349.5h1.7M245.0,1363.5h1.7M254.0,1353.5h1.7M247.0,1369.5h1.7M241.0,1361.5h1.7M251.0,1380.5h1.7M252.0,1363.5h1.7M243.0,1358.5h1.7M246.0,1367.5h1.7M248.0,1381.5h1.7M250.0,1356.5h1.7M256.0,1375.5h1.7M249.0,1360.5h1.7M240.0,1357.5h1.7M253.0,1359.5h1.7M243.0,1368.5h1.7M250.0,1371.5h1.7M252.0,1379.5h1.7M245.0,1375.5h1.7M244.0,1372.5h1.7M249.0,1368.5h1.7M253.0,1366.5h1.7M254.0,1374.5h1.7M249.0,1361.5h1.7M245.0,1361.5h1.7M248.0,1366.5h1.7M252.0,1358.5h1.7M245.0,1363.5h1.7M249.0,1357.5h1.7M256.0,1361.5h1.7M249.0,1369.5h1.7M249.0,1371.5h1.7M250.0,1367.5h1.7M240.0,1360.5h1.7M250.0,1364.5h1.7M245.0,1361.5h1.7M257.0,1382.5h1.7M248.0,1378.5h1.7M241.0,1349.5h1.7M246.0,1358.5h1.7M246.0,1368.5h1.7M249.0,1368.5h1.7M248.0,1374.5h1.7M257.0,1355.5h1.7M249.0,1364.5h1.7M250.0,1352.5h1.7M251.0,1368.5h1.7M247.0,1359.5h1.7M242.0,1358.5h1.7M252.0,1371.5h1.7M248.0,1371.5h1.7M246.0,1367.5h1.7M249.0,1371.5h1.7M248.0,1365.5h1.7M248.0,1360.5h1.7M255.0,1352.5h1.7M252.0,1374.5h1.7M257.0,1378.5h1.7M252.0,1355.5h1.7M245.0,1368.5h1.7M251.0,1357.5h1.7M247.0,1362.5h1.7M249.0,1369.5h1.7M247.0,1355.5h1.7M254.0,1380.5h1.7M248.0,1375.5h1.7M251.0,1372.5h1.7M251.0,1359.5h1.7M251.0,1375.5h1.7M244.0,1384.5h1.7M258.0,1382.5h1.7M258.0,1373.5h1.7M247.0,1361.5h1.7M245.0,1367.5h1.7M248.0,1372.5h1.7M252.0,1370.5h1.7M250.0,1364.5h1.7M248.0,1359.5h1.7M249.0,1366.5h1.7M250.0,1358.5h1.7M249.0,1366.5h1.7M251.0,1356.5h1.7M251.0,1375.5h1.7M251.0,1363.5h1.7M246.0,1364.5h1.7M252.0,1380.5h1.7M248.0,1360.5h1.7M250.0,1368.5h1.7M244.0,1359.5h1.7M248.0,1372.5h1.7M243.0,1357.5h1.7M251.0,1355.5h1.7M249.0,1369.5h1.7M248.0,1357.5h1.7M248.0,1363.5h1.7M250.0,1358.5h1.7M254.0,1351.5h1.7M248.0,1366.5h1.7M253.0,1361.5h1.7M251.0,1361.5h1.7M252.0,1382.5h1.7M247.0,1370.5h1.7M244.0,1375.5h1.7M254.0,1366.5h1.7M243.0,1370.5h1.7M254.0,1376.5h1.7M252.0,1350.5h1.7M245.0,1379.5h1.7M243.0,1376.5h1.7M257.0,1373.5h1.7M254.0,1363.5h1.7M243.0,1365.5h1.7M248.0,1366.5h1.7M252.0,1365.5h1.7M249.0,1370.5h1.7M249.0,1383.5h1.7M251.0,1367.5h1.7M248.0,1360.5h1.7M255.0,1367.5h1.7M244.0,1361.5h1.7M248.0,1362.5h1.7M254.0,1356.5h1.7M251.0,1367.5h1.7M243.0,1366.5h1.7M248.0,1371.5h1.7M247.0,1369.5h1.7M241.0,1356.5h1.7M252.0,1375.5h1.7M249.0,1361.5h1.7M245.0,1372.5h1.7M252.0,1357.5h1.7M240.0,1379.5h1.7M249.0,1358.5h1.7M249.0,1374.5h1.7M252.0,1350.5h1.7M254.0,1370.5h1.7M249.0,1375.5h1.7M246.0,1360.5h1.7M247.0,1365.5h1.7M244.0,1370.5h1.7M251.0,1367.5h1.7M256.0,1363.5h1.7M255.0,1361.5h1.7M252.0,1349.5h1.7M250.0,1364.5h1.7M246.0,1361.5h1.7M247.0,1360.5h1.7M239.0,1361.5h1.7M246.0,1361.5h1.7M244.0,1365.5h1.7M252.0,1364.5h1.7M246.0,1378.5h1.7M253.0,1374.5h1.7M254.0,1363.5h1.7M248.0,1376.5h1.7M246.0,1365.5h1.7M250.0,1369.5h1.7M247.0,1375.5h1.7M248.0,1373.5h1.7M254.0,1372.5h1.7M252.0,1356.5h1.7M243.0,1360.5h1.7M251.0,1380.5h1.7M243.0,1369.5h1.7M245.0,1359.5h1.7M247.0,1372.5h1.7M250.0,1377.5h1.7M244.0,1374.5h1.7M253.0,1367.5h1.7M251.0,1361.5h1.7M244.0,1362.5h1.7M246.0,1381.5h1.7M250.0,1369.5h1.7M252.0,1359.5h1.7M253.0,1369.5h1.7M242.0,1371.5h1.7M251.0,1370.5h1.7M256.0,1362.5h1.7M251.0,1373.5h1.7M244.0,1377.5h1.7M242.0,1354.5h1.7M251.0,1356.5h1.7M248.0,1351.5h1.7M249.0,1356.5h1.7M250.0,1352.5h1.7M251.0,1364.5h1.7M249.0,1365.5h1.7M249.0,1354.5h1.7M244.0,1362.5h1.7M251.0,1348.5h1.7M245.0,1361.5h1.7M244.0,1369.5h1.7M248.0,1359.5h1.7M244.0,1373.5h1.7M246.0,1371.5h1.7M251.0,1349.5h1.7M244.0,1366.5h1.7M250.0,1373.5h1.7M252.0,1375.5h1.7M247.0,1364.5h1.7M252.0,1362.5h1.7M253.0,1352.5h1.7M252.0,1364.5h1.7M240.0,1375.5h1.7M250.0,1366.5h1.7M244.0,1362.5h1.7M256.0,1359.5h1.7M243.0,1365.5h1.7M247.0,1358.5h1.7M245.0,1375.5h1.7M242.0,1384.5h1.7M246.0,1356.5h1.7M252.0,1371.5h1.7M244.0,1373.5h1.7M240.0,1358.5h1.7M254.0,1364.5h1.7M243.0,1371.5h1.7M253.0,1366.5h1.7M240.0,1363.5h1.7M251.0,1373.5h1.7M257.0,1364.5h1.7M247.0,1388.5h1.7M254.0,1381.5h1.7M252.0,1383.5h1.7M251.0,1393.5h1.7M244.0,1387.5h1.7M250.0,1392.5h1.7M245.0,1381.5h1.7M248.0,1386.5h1.7M242.0,1395.5h1.7M246.0,1398.5h1.7M252.0,1388.5h1.7M252.0,1380.5h1.7M247.0,1384.5h1.7M243.0,1388.5h1.7M248.0,1398.5h1.7M245.0,1385.5h1.7M250.0,1391.5h1.7M249.0,1385.5h1.7M251.0,1391.5h1.7M241.0,1386.5h1.7M243.0,1380.5h1.7M249.0,1388.5h1.7M249.0,1382.5h1.7M248.0,1382.5h1.7M250.0,1393.5h1.7M256.0,1397.5h1.7M245.0,1385.5h1.7M245.0,1390.5h1.7M257.0,1393.5h1.7M239.0,1379.5h1.7M243.0,1392.5h1.7M249.0,1390.5h1.7M256.0,1382.5h1.7M250.0,1383.5h1.7M249.0,1395.5h1.7M248.0,1383.5h1.7M241.0,1389.5h1.7M249.0,1392.5h1.7M247.0,1391.5h1.7M252.0,1387.5h1.7M247.0,1387.5h1.7M245.0,1387.5h1.7M247.0,1389.5h1.7M254.0,1397.5h1.7M247.0,1392.5h1.7M250.0,1393.5h1.7M249.0,1390.5h1.7M247.0,1383.5h1.7M252.0,1397.5h1.7M251.0,1391.5h1.7M250.0,1385.5h1.7M241.0,1393.5h1.7M249.0,1384.5h1.7M245.0,1397.5h1.7M246.0,1388.5h1.7M246.0,1389.5h1.7M248.0,1383.5h1.7M253.0,1383.5h1.7M246.0,1392.5h1.7M246.0,1385.5h1.7M250.0,1385.5h1.7M243.0,1387.5h1.7M248.0,1400.5h1.7M244.0,1395.5h1.7M245.0,1386.5h1.7M247.0,1390.5h1.7M246.0,1397.5h1.7M253.0,1394.5h1.7M245.0,1394.5h1.7M248.0,1390.5h1.7M247.0,1393.5h1.7M253.0,1396.5h1.7M248.0,1395.5h1.7M255.0,1381.5h1.7M255.0,1379.5h1.7M251.0,1392.5h1.7M255.0,1390.5h1.7M247.0,1382.5h1.7M243.0,1393.5h1.7M248.0,1383.5h1.7M251.0,1383.5h1.7M247.0,1385.5h1.7M256.0,1398.5h1.7M250.0,1389.5h1.7M250.0,1392.5h1.7M247.0,1394.5h1.7M252.0,1389.5h1.7M247.0,1385.5h1.7M252.0,1380.5h1.7M248.0,1383.5h1.7M243.0,1392.5h1.7M248.0,1388.5h1.7M248.0,1390.5h1.7M252.0,1380.5h1.7M252.0,1390.5h1.7M254.0,1396.5h1.7M249.0,1385.5h1.7M247.0,1381.5h1.7M248.0,1391.5h1.7M253.0,1386.5h1.7M254.0,1383.5h1.7M245.0,1382.5h1.7M255.0,1392.5h1.7M244.0,1392.5h1.7M251.0,1386.5h1.7M249.0,1386.5h1.7M248.0,1397.5h1.7M254.0,1386.5h1.7M246.0,1387.5h1.7M252.0,1390.5h1.7M246.0,1390.5h1.7M248.0,1392.5h1.7M249.0,1393.5h1.7M244.0,1387.5h1.7M252.0,1385.5h1.7M252.0,1395.5h1.7M245.0,1399.5h1.7M242.0,1384.5h1.7M252.0,1397.5h1.7M245.0,1383.5h1.7M251.0,1392.5h1.7M247.0,1392.5h1.7M252.0,1390.5h1.7M251.0,1398.5h1.7M247.0,1389.5h1.7M246.0,1395.5h1.7M247.0,1391.5h1.7M249.0,1388.5h1.7M256.0,1387.5h1.7M254.0,1394.5h1.7M254.0,1387.5h1.7M252.0,1393.5h1.7M246.0,1390.5h1.7M248.0,1388.5h1.7M254.0,1383.5h1.7M247.0,1384.5h1.7M249.0,1392.5h1.7M256.0,1390.5h1.7M250.0,1383.5h1.7M251.0,1397.5h1.7M252.0,1399.5h1.7M247.0,1392.5h1.7M250.0,1383.5h1.7M245.0,1395.5h1.7M243.0,1398.5h1.7M249.0,1390.5h1.7M243.0,1384.5h1.7M251.0,1378.5h1.7M257.0,1379.5h1.7M244.0,1388.5h1.7M251.0,1393.5h1.7M247.0,1387.5h1.7M248.0,1384.5h1.7M250.0,1389.5h1.7M246.0,1390.5h1.7M249.0,1387.5h1.7M250.0,1381.5h1.7M247.0,1398.5h1.7M244.0,1387.5h1.7M246.0,1394.5h1.7M251.0,1386.5h1.7M247.0,1395.5h1.7M245.0,1385.5h1.7M249.0,1391.5h1.7M247.0,1395.5h1.7M258.0,1385.5h1.7M254.0,1386.5h1.7M249.0,1386.5h1.7M246.0,1379.5h1.7M247.0,1397.5h1.7M253.0,1386.5h1.7M246.0,1383.5h1.7M251.0,1389.5h1.7M247.0,1381.5h1.7M254.0,1393.5h1.7M245.0,1395.5h1.7M244.0,1392.5h1.7M245.0,1385.5h1.7M251.0,1391.5h1.7M253.0,1382.5h1.7M255.0,1397.5h1.7M249.0,1391.5h1.7M245.0,1387.5h1.7M243.0,1389.5h1.7M249.0,1397.5h1.7M252.0,1393.5h1.7M247.0,1386.5h1.7M247.0,1389.5h1.7M241.0,1393.5h1.7M242.0,1385.5h1.7M249.0,1385.5h1.7M255.0,1387.5h1.7M255.0,1396.5h1.7M247.0,1391.5h1.7M254.0,1386.5h1.7M249.0,1384.5h1.7M249.0,1386.5h1.7M249.0,1395.5h1.7M254.0,1389.5h1.7M249.0,1394.5h1.7M247.0,1381.5h1.7M253.0,1382.5h1.7M252.0,1382.5h1.7M256.0,1381.5h1.7M252.0,1398.5h1.7M245.0,1398.5h1.7M252.0,1393.5h1.7M248.0,1386.5h1.7M247.0,1386.5h1.7M241.0,1384.5h1.7M256.0,1398.5h1.7M247.0,1383.5h1.7M250.0,1395.5h1.7M252.0,1380.5h1.7M249.0,1389.5h1.7M254.0,1396.5h1.7M251.0,1396.5h1.7M247.0,1398.5h1.7M247.0,1391.5h1.7M252.0,1382.5h1.7M249.0,1388.5h1.7M247.0,1391.5h1.7M240.0,1388.5h1.7M249.0,1386.5h1.7M252.0,1400.5h1.7M247.0,1382.5h1.7M246.0,1389.5h1.7M251.0,1382.5h1.7M253.0,1381.5h1.7M252.0,1391.5h1.7M248.0,1387.5h1.7M251.0,1394.5h1.7M243.0,1390.5h1.7M246.0,1392.5h1.7M254.0,1388.5h1.7M248.0,1389.5h1.7M251.0,1389.5h1.7M247.0,1383.5h1.7M248.0,1396.5h1.7M248.0,1397.5h1.7M250.0,1388.5h1.7M242.0,1384.5h1.7M254.0,1379.5h1.7M245.0,1381.5h1.7M246.0,1392.5h1.7M254.0,1384.5h1.7M246.0,1399.5h1.7M248.0,1380.5h1.7M246.0,1383.5h1.7M245.0,1386.5h1.7M252.0,1390.5h1.7M245.0,1389.5h1.7M249.0,1393.5h1.7M247.0,1391.5h1.7M257.0,1389.5h1.7M244.0,1390.5h1.7M245.0,1386.5h1.7M249.0,1390.5h1.7M247.0,1394.5h1.7M248.0,1379.5h1.7M252.0,1386.5h1.7M253.0,1384.5h1.7M251.0,1390.5h1.7M244.0,1397.5h1.7M241.0,1394.5h1.7M253.0,1391.5h1.7M251.0,1385.5h1.7M249.0,1390.5h1.7M250.0,1393.5h1.7M248.0,1383.5h1.7M246.0,1391.5h1.7M242.0,1380.5h1.7M247.0,1384.5h1.7M247.0,1386.5h1.7M247.0,1391.5h1.7M251.0,1396.5h1.7M253.0,1381.5h1.7M251.0,1386.5h1.7M245.0,1398.5h1.7M246.0,1382.5h1.7M247.0,1382.5h1.7M253.0,1391.5h1.7M254.0,1391.5h1.7M246.0,1395.5h1.7M246.0,1385.5h1.7M248.0,1388.5h1.7M253.0,1384.5h1.7M250.0,1388.5h1.7M244.0,1381.5h1.7M248.0,1391.5h1.7M250.0,1391.5h1.7M249.0,1385.5h1.7M250.0,1381.5h1.7M243.0,1386.5h1.7M243.0,1385.5h1.7M246.0,1384.5h1.7M248.0,1383.5h1.7M249.0,1382.5h1.7M245.0,1390.5h1.7M249.0,1389.5h1.7M243.0,1390.5h1.7M249.0,1381.5h1.7M252.0,1388.5h1.7M249.0,1385.5h1.7M251.0,1389.5h1.7M253.0,1391.5h1.7M246.0,1386.5h1.7M252.0,1386.5h1.7M250.0,1392.5h1.7M249.0,1389.5h1.7M249.0,1383.5h1.7M254.0,1387.5h1.7M246.0,1383.5h1.7M250.0,1381.5h1.7M254.0,1395.5h1.7M254.0,1392.5h1.7M242.0,1396.5h1.7M254.0,1391.5h1.7M241.0,1396.5h1.7M254.0,1385.5h1.7M249.0,1393.5h1.7M248.0,1395.5h1.7M249.0,1393.5h1.7M250.0,1397.5h1.7M253.0,1400.5h1.7M251.0,1384.5h1.7M248.0,1394.5h1.7M240.0,1389.5h1.7M252.0,1397.5h1.7M245.0,1384.5h1.7M242.0,1403.5h1.7M251.0,1430.5h1.7M245.0,1424.5h1.7M250.0,1408.5h1.7M249.0,1414.5h1.7M256.0,1428.5h1.7M257.0,1413.5h1.7M252.0,1424.5h1.7M251.0,1415.5h1.7M248.0,1408.5h1.7M245.0,1429.5h1.7M250.0,1412.5h1.7M250.0,1428.5h1.7M249.0,1410.5h1.7M246.0,1412.5h1.7M247.0,1414.5h1.7M246.0,1429.5h1.7M252.0,1419.5h1.7M252.0,1419.5h1.7M251.0,1424.5h1.7M253.0,1424.5h1.7M247.0,1412.5h1.7M246.0,1420.5h1.7M252.0,1408.5h1.7M253.0,1402.5h1.7M249.0,1418.5h1.7M249.0,1415.5h1.7M253.0,1415.5h1.7M245.0,1418.5h1.7M249.0,1413.5h1.7M245.0,1409.5h1.7M253.0,1402.5h1.7M246.0,1417.5h1.7M241.0,1424.5h1.7M246.0,1418.5h1.7M247.0,1415.5h1.7M249.0,1412.5h1.7M249.0,1424.5h1.7M247.0,1417.5h1.7M250.0,1416.5h1.7M250.0,1410.5h1.7M248.0,1405.5h1.7M246.0,1403.5h1.7M255.0,1412.5h1.7M252.0,1403.5h1.7M249.0,1425.5h1.7M249.0,1403.5h1.7M248.0,1403.5h1.7M244.0,1410.5h1.7M248.0,1405.5h1.7M246.0,1404.5h1.7M250.0,1424.5h1.7M248.0,1432.5h1.7M243.0,1414.5h1.7M245.0,1411.5h1.7M249.0,1417.5h1.7M253.0,1407.5h1.7M245.0,1410.5h1.7M250.0,1406.5h1.7M252.0,1427.5h1.7M244.0,1415.5h1.7M250.0,1410.5h1.7M244.0,1424.5h1.7M250.0,1408.5h1.7M251.0,1418.5h1.7M252.0,1417.5h1.7M250.0,1402.5h1.7M248.0,1413.5h1.7M248.0,1403.5h1.7M243.0,1414.5h1.7M249.0,1433.5h1.7M245.0,1432.5h1.7M242.0,1436.5h1.7M243.0,1439.5h1.7M247.0,1437.5h1.7M252.0,1442.5h1.7M254.0,1437.5h1.7M247.0,1432.5h1.7M246.0,1439.5h1.7M251.0,1434.5h1.7M237.0,1429.5h1.7M251.0,1441.5h1.7M252.0,1429.5h1.7M247.0,1437.5h1.7M241.0,1438.5h1.7M247.0,1432.5h1.7M238.0,1440.5h1.7M252.0,1432.5h1.7M240.0,1440.5h1.7M254.0,1435.5h1.7M263.0,1435.5h1.7M239.0,1441.5h1.7M247.0,1438.5h1.7M249.0,1431.5h1.7M238.0,1435.5h1.7M261.0,1431.5h1.7M261.0,1437.5h1.7M239.0,1437.5h1.7M254.0,1432.5h1.7M230.0,1438.5h1.7M239.0,1438.5h1.7M232.0,1435.5h1.7M242.0,1429.5h1.7M246.0,1437.5h1.7M244.0,1430.5h1.7M250.0,1427.5h1.7M253.0,1438.5h1.7M263.0,1440.5h1.7M252.0,1437.5h1.7M249.0,1430.5h1.7M261.0,1439.5h1.7M246.0,1430.5h1.7M262.0,1439.5h1.7M238.0,1439.5h1.7M265.0,1436.5h1.7M252.0,1434.5h1.7M243.0,1441.5h1.7M248.0,1440.5h1.7M246.0,1440.5h1.7M256.0,1431.5h1.7M239.0,1436.5h1.7M256.0,1437.5h1.7M259.0,1429.5h1.7M253.0,1433.5h1.7M249.0,1438.5h1.7M240.0,1435.5h1.7M238.0,1437.5h1.7M241.0,1434.5h1.7M251.0,1433.5h1.7M259.0,1433.5h1.7M256.0,1437.5h1.7M240.0,1435.5h1.7M241.0,1434.5h1.7M246.0,1445.5h1.7M245.0,1444.5h1.7M253.0,1430.5h1.7M228.0,1439.5h1.7M231.0,1439.5h1.7M258.0,1438.5h1.7M247.0,1435.5h1.7M240.0,1437.5h1.7M232.0,1470.5h1.7M267.0,1467.5h1.7M235.0,1474.5h1.7M251.0,1478.5h1.7M249.0,1484.5h1.7M258.0,1483.5h1.7M227.0,1449.5h1.7M264.0,1471.5h1.7M260.0,1473.5h1.7M236.0,1485.5h1.7M231.0,1448.5h1.7M251.0,1484.5h1.7M230.0,1442.5h1.7M249.0,1480.5h1.7M234.0,1441.5h1.7M249.0,1484.5h1.7M272.0,1458.5h1.7M249.0,1435.5h1.7M254.0,1479.5h1.7M262.0,1435.5h1.7M266.0,1472.5h1.7M268.0,1453.5h1.7M266.0,1443.5h1.7M260.0,1433.5h1.7M259.0,1433.5h1.7M271.0,1452.5h1.7M241.0,1435.5h1.7M231.0,1476.5h1.7M254.0,1435.5h1.7M271.0,1447.5h1.7M234.0,1433.5h1.7M239.0,1476.5h1.7M261.0,1434.5h1.7M233.0,1483.5h1.7M236.0,1433.5h1.7M263.0,1475.5h1.7M272.0,1466.5h1.7M227.0,1436.5h1.7M227.0,1484.5h1.7M264.0,1443.5h1.7M265.0,1468.5h1.7M236.0,1476.5h1.7M229.0,1455.5h1.7M272.0,1469.5h1.7M228.0,1467.5h1.7M265.0,1442.5h1.7M259.0,1475.5h1.7M232.0,1475.5h1.7M267.0,1455.5h1.7M281.0,1303.5h1.7M283.0,1454.5h1.7M286.0,1459.5h1.7M290.0,1458.5h1.7M296.0,1466.5h1.7M306.0,1464.5h1.7M322.0,1469.5h1.7M340.0,1462.5h1.7M341.0,1469.5h1.7M369.0,1469.5h1.7M420.0,1459.5h1.7M279.0,1465.5h1.7M277.0,1446.5h1.7M228.0,1336.5h1.7M269.0,1329.5h1.7" stroke="#3a3a3a" stroke-width="1.7" fill="none"/>
<path d="M260.4,1325.7C260.4,1329.1 259.9,1333.8 259.2,1337.5C258.5,1341.2 257.2,1344.9 256.2,1347.9C255.2,1350.9 254.2,1353.6 253.2,1355.6C252.2,1357.5 251.1,1359.0 250.1,1359.7C249.1,1360.4 248.3,1360.4 247.3,1359.7C246.4,1359.0 245.4,1357.5 244.4,1355.6C243.4,1353.6 242.3,1350.9 241.3,1347.9C240.3,1344.9 239.0,1341.2 238.3,1337.5C237.6,1333.8 237.1,1329.1 237.0,1325.7C236.9,1322.4 237.2,1319.9 237.7,1317.2C238.2,1314.5 239.2,1311.9 240.1,1309.7C241.0,1307.5 242.1,1305.6 243.2,1304.1C244.3,1302.7 245.5,1301.7 246.7,1301.2C248.0,1300.7 249.5,1300.7 250.7,1301.2C252.0,1301.7 253.1,1302.7 254.2,1304.1C255.4,1305.6 256.8,1307.5 257.6,1309.7C258.4,1311.9 258.7,1314.5 259.1,1317.2C259.6,1319.9 260.4,1322.4 260.4,1325.7Z" fill="#fff" stroke="#231f20" stroke-width="1.7" stroke-linejoin="round"/>
<path d="M240.4,1318v22M257.6,1316v24" stroke="#8a8a8a" stroke-width="0.9" fill="none"/>
<path d="M256.5,1323.4C256.4,1325.7 256.0,1329.1 255.6,1331.6C255.2,1334.2 254.6,1336.8 253.9,1338.9C253.3,1341.1 252.4,1343.0 251.7,1344.4C251.0,1345.7 250.4,1346.8 249.7,1347.2C249.0,1347.7 248.4,1347.7 247.7,1347.2C247.0,1346.8 246.4,1345.7 245.7,1344.4C245.0,1343.0 244.2,1341.1 243.5,1338.9C242.7,1336.8 241.7,1334.2 241.3,1331.6C240.9,1329.1 241.0,1325.7 241.0,1323.4C241.0,1321.0 241.1,1319.2 241.4,1317.4C241.7,1315.5 242.1,1313.6 242.7,1312.1C243.3,1310.5 244.1,1309.2 244.9,1308.2C245.7,1307.2 246.5,1306.4 247.4,1306.1C248.2,1305.7 249.2,1305.7 250.1,1306.1C250.9,1306.4 251.8,1307.2 252.6,1308.2C253.4,1309.2 254.4,1310.5 255.0,1312.1C255.5,1313.6 255.7,1315.5 256.0,1317.4C256.2,1319.2 256.5,1321.0 256.5,1323.4Z" fill="none" stroke="#231f20" stroke-width="1.6" stroke-linejoin="round"/>
<path d="M253.7,1323.3C253.7,1324.8 254.0,1326.9 253.7,1328.5C253.5,1330.2 252.7,1331.8 252.2,1333.1C251.8,1334.5 251.4,1335.7 250.9,1336.5C250.5,1337.4 250.0,1338.1 249.5,1338.4C249.1,1338.7 248.7,1338.7 248.3,1338.4C247.8,1338.1 247.4,1337.4 247.0,1336.5C246.6,1335.7 246.2,1334.5 245.7,1333.1C245.3,1331.8 244.5,1330.2 244.2,1328.5C243.9,1326.9 243.9,1324.8 243.9,1323.3C243.9,1321.8 244.0,1320.7 244.2,1319.5C244.3,1318.3 244.6,1317.1 245.0,1316.2C245.3,1315.2 245.8,1314.3 246.3,1313.7C246.8,1313.1 247.5,1312.6 248.1,1312.4C248.6,1312.1 249.2,1312.1 249.7,1312.4C250.3,1312.6 251.1,1313.1 251.6,1313.7C252.1,1314.3 252.4,1315.2 252.7,1316.2C253.1,1317.1 253.3,1318.3 253.4,1319.5C253.6,1320.7 253.6,1321.8 253.7,1323.3Z" fill="none" stroke="#231f20" stroke-width="1.6" stroke-linejoin="round"/>
<path d="M266.8,1456.9C266.7,1459.7 266.0,1462.5 265.1,1465.1C264.2,1467.7 263.3,1470.7 261.6,1472.6C260.0,1474.5 257.6,1475.4 255.4,1476.5C253.2,1477.6 251.0,1479.0 248.7,1479.1C246.4,1479.2 243.9,1478.3 241.8,1477.1C239.7,1476.0 237.8,1474.1 236.1,1472.2C234.4,1470.2 232.5,1468.0 231.6,1465.5C230.8,1462.9 230.8,1459.7 231.0,1456.9C231.1,1454.1 231.4,1451.2 232.3,1448.7C233.2,1446.2 234.7,1443.9 236.3,1441.9C237.9,1439.9 239.7,1437.9 241.8,1436.7C243.9,1435.5 246.4,1434.8 248.7,1434.8C251.0,1434.7 253.6,1435.4 255.7,1436.5C257.8,1437.7 259.7,1439.6 261.4,1441.6C263.0,1443.5 264.7,1445.8 265.6,1448.4C266.6,1451.0 266.9,1454.1 266.8,1456.9Z" fill="#231f20" stroke="#231f20" stroke-width="1.2" stroke-linejoin="round"/>
<path d="M243.0,1441.5q6,-1.6 11,0" stroke="#bbb" stroke-width="0.7" fill="none"/>
<path d="M244.0,1443.1q6,-1.6 11,0" stroke="#bbb" stroke-width="0.7" fill="none"/>
<path d="M245.0,1444.7q6,-1.6 11,0" stroke="#bbb" stroke-width="0.7" fill="none"/>
<line x1="155.00" y1="1275.95" x2="159.40" y2="1275.95" stroke="#231f20" stroke-width="3.4" stroke-linecap="butt"/>
<line x1="155.00" y1="1260.27" x2="159.40" y2="1260.27" stroke="#231f20" stroke-width="3.4" stroke-linecap="butt"/>
<line x1="155.00" y1="1249.14" x2="159.40" y2="1249.14" stroke="#231f20" stroke-width="3.4" stroke-linecap="butt"/>
<line x1="152.00" y1="1240.51" x2="159.40" y2="1240.51" stroke="#231f20" stroke-width="3.6" stroke-linecap="butt"/>
<line x1="155.00" y1="1233.46" x2="159.40" y2="1233.46" stroke="#231f20" stroke-width="3.4" stroke-linecap="butt"/>
<line x1="155.00" y1="1227.50" x2="159.40" y2="1227.50" stroke="#231f20" stroke-width="3.4" stroke-linecap="butt"/>
<line x1="155.00" y1="1222.33" x2="159.40" y2="1222.33" stroke="#231f20" stroke-width="3.4" stroke-linecap="butt"/>
<line x1="155.00" y1="1217.78" x2="159.40" y2="1217.78" stroke="#231f20" stroke-width="3.4" stroke-linecap="butt"/>
<line x1="155.00" y1="1375.96" x2="159.40" y2="1375.96" stroke="#231f20" stroke-width="3.4" stroke-linecap="butt"/>
<line x1="155.00" y1="1357.91" x2="159.40" y2="1357.91" stroke="#231f20" stroke-width="3.4" stroke-linecap="butt"/>
<line x1="155.00" y1="1345.10" x2="159.40" y2="1345.10" stroke="#231f20" stroke-width="3.4" stroke-linecap="butt"/>
<line x1="152.00" y1="1335.16" x2="159.40" y2="1335.16" stroke="#231f20" stroke-width="3.6" stroke-linecap="butt"/>
<line x1="155.00" y1="1327.05" x2="159.40" y2="1327.05" stroke="#231f20" stroke-width="3.4" stroke-linecap="butt"/>
<line x1="155.00" y1="1320.18" x2="159.40" y2="1320.18" stroke="#231f20" stroke-width="3.4" stroke-linecap="butt"/>
<line x1="155.00" y1="1314.24" x2="159.40" y2="1314.24" stroke="#231f20" stroke-width="3.4" stroke-linecap="butt"/>
<line x1="155.00" y1="1308.99" x2="159.40" y2="1308.99" stroke="#231f20" stroke-width="3.4" stroke-linecap="butt"/>
<line x1="155.00" y1="1188.20" x2="159.40" y2="1188.20" stroke="#231f20" stroke-width="3.4" stroke-linecap="butt"/>
<line x1="149.00" y1="1213.70" x2="159.40" y2="1213.70" stroke="#231f20" stroke-width="3.8" stroke-linecap="butt"/>
<line x1="149.00" y1="1304.30" x2="159.40" y2="1304.30" stroke="#231f20" stroke-width="3.8" stroke-linecap="butt"/>
<line x1="149.00" y1="1408.60" x2="159.40" y2="1408.60" stroke="#231f20" stroke-width="3.8" stroke-linecap="butt"/>
<line x1="149.00" y1="1533.90" x2="159.40" y2="1533.90" stroke="#231f20" stroke-width="3.8" stroke-linecap="butt"/>
<line x1="155.00" y1="1457.47" x2="159.40" y2="1457.47" stroke="#231f20" stroke-width="3.4" stroke-linecap="butt"/>
<line x1="155.00" y1="1449.95" x2="159.40" y2="1449.95" stroke="#231f20" stroke-width="3.4" stroke-linecap="butt"/>
<line x1="155.00" y1="1443.06" x2="159.40" y2="1443.06" stroke="#231f20" stroke-width="3.4" stroke-linecap="butt"/>
<line x1="152.00" y1="1436.17" x2="159.40" y2="1436.17" stroke="#231f20" stroke-width="3.6" stroke-linecap="butt"/>
<line x1="155.00" y1="1429.27" x2="159.40" y2="1429.27" stroke="#231f20" stroke-width="3.4" stroke-linecap="butt"/>
<line x1="155.00" y1="1423.64" x2="159.40" y2="1423.64" stroke="#231f20" stroke-width="3.4" stroke-linecap="butt"/>
<line x1="155.00" y1="1419.25" x2="159.40" y2="1419.25" stroke="#231f20" stroke-width="3.4" stroke-linecap="butt"/>
<line x1="155.00" y1="1415.18" x2="159.40" y2="1415.18" stroke="#231f20" stroke-width="3.4" stroke-linecap="butt"/>
<line x1="155.00" y1="1412.05" x2="159.40" y2="1412.05" stroke="#231f20" stroke-width="3.4" stroke-linecap="butt"/>
<line x1="155.00" y1="1485.03" x2="159.40" y2="1485.03" stroke="#231f20" stroke-width="3.4" stroke-linecap="butt"/>
<line x1="155.00" y1="1492.55" x2="159.40" y2="1492.55" stroke="#231f20" stroke-width="3.4" stroke-linecap="butt"/>
<line x1="155.00" y1="1499.44" x2="159.40" y2="1499.44" stroke="#231f20" stroke-width="3.4" stroke-linecap="butt"/>
<line x1="152.00" y1="1506.33" x2="159.40" y2="1506.33" stroke="#231f20" stroke-width="3.6" stroke-linecap="butt"/>
<line x1="155.00" y1="1513.23" x2="159.40" y2="1513.23" stroke="#231f20" stroke-width="3.4" stroke-linecap="butt"/>
<line x1="155.00" y1="1518.86" x2="159.40" y2="1518.86" stroke="#231f20" stroke-width="3.4" stroke-linecap="butt"/>
<line x1="155.00" y1="1523.25" x2="159.40" y2="1523.25" stroke="#231f20" stroke-width="3.4" stroke-linecap="butt"/>
<line x1="155.00" y1="1527.32" x2="159.40" y2="1527.32" stroke="#231f20" stroke-width="3.4" stroke-linecap="butt"/>
<line x1="155.00" y1="1530.45" x2="159.40" y2="1530.45" stroke="#231f20" stroke-width="3.4" stroke-linecap="butt"/>
<rect x="149.00" y="1462.29" width="10.40" height="17.92" fill="#231f20"/>
<rect x="148.70" y="1466.29" width="4.6" height="3.4" fill="#fff"/>
<rect x="148.70" y="1461.99" width="1.4" height="2" fill="#fff"/>
<line x1="369.62" y1="1559.20" x2="369.62" y2="1563.80" stroke="#231f20" stroke-width="3.4" stroke-linecap="butt"/>
<line x1="384.60" y1="1559.20" x2="384.60" y2="1563.80" stroke="#231f20" stroke-width="3.4" stroke-linecap="butt"/>
<line x1="395.24" y1="1559.20" x2="395.24" y2="1563.80" stroke="#231f20" stroke-width="3.4" stroke-linecap="butt"/>
<line x1="403.48" y1="1559.20" x2="403.48" y2="1566.80" stroke="#231f20" stroke-width="3.6" stroke-linecap="butt"/>
<line x1="410.22" y1="1559.20" x2="410.22" y2="1563.80" stroke="#231f20" stroke-width="3.4" stroke-linecap="butt"/>
<line x1="415.92" y1="1559.20" x2="415.92" y2="1563.80" stroke="#231f20" stroke-width="3.4" stroke-linecap="butt"/>
<line x1="420.85" y1="1559.20" x2="420.85" y2="1563.80" stroke="#231f20" stroke-width="3.4" stroke-linecap="butt"/>
<line x1="425.21" y1="1559.20" x2="425.21" y2="1563.80" stroke="#231f20" stroke-width="3.4" stroke-linecap="butt"/>
<line x1="452.52" y1="1559.20" x2="452.52" y2="1563.80" stroke="#231f20" stroke-width="3.4" stroke-linecap="butt"/>
<line x1="466.22" y1="1559.20" x2="466.22" y2="1563.80" stroke="#231f20" stroke-width="3.4" stroke-linecap="butt"/>
<line x1="475.94" y1="1559.20" x2="475.94" y2="1563.80" stroke="#231f20" stroke-width="3.4" stroke-linecap="butt"/>
<line x1="483.48" y1="1559.20" x2="483.48" y2="1566.80" stroke="#231f20" stroke-width="3.6" stroke-linecap="butt"/>
<line x1="489.64" y1="1559.20" x2="489.64" y2="1563.80" stroke="#231f20" stroke-width="3.4" stroke-linecap="butt"/>
<line x1="494.85" y1="1559.20" x2="494.85" y2="1563.80" stroke="#231f20" stroke-width="3.4" stroke-linecap="butt"/>
<line x1="499.36" y1="1559.20" x2="499.36" y2="1563.80" stroke="#231f20" stroke-width="3.4" stroke-linecap="butt"/>
<line x1="503.34" y1="1559.20" x2="503.34" y2="1563.80" stroke="#231f20" stroke-width="3.4" stroke-linecap="butt"/>
<line x1="530.32" y1="1559.20" x2="530.32" y2="1563.80" stroke="#231f20" stroke-width="3.4" stroke-linecap="butt"/>
<line x1="506.90" y1="1559.20" x2="506.90" y2="1570.00" stroke="#231f20" stroke-width="3.8" stroke-linecap="butt"/>
<line x1="429.10" y1="1559.20" x2="429.10" y2="1570.00" stroke="#231f20" stroke-width="3.8" stroke-linecap="butt"/>
<line x1="344.00" y1="1559.20" x2="344.00" y2="1570.00" stroke="#231f20" stroke-width="3.8" stroke-linecap="butt"/>
<line x1="160.80" y1="1559.20" x2="160.80" y2="1570.00" stroke="#231f20" stroke-width="3.8" stroke-linecap="butt"/>
<line x1="219.74" y1="1559.20" x2="219.74" y2="1563.80" stroke="#231f20" stroke-width="3.4" stroke-linecap="butt"/>
<line x1="207.19" y1="1559.20" x2="207.19" y2="1563.80" stroke="#231f20" stroke-width="3.4" stroke-linecap="butt"/>
<line x1="196.11" y1="1559.20" x2="196.11" y2="1563.80" stroke="#231f20" stroke-width="3.4" stroke-linecap="butt"/>
<line x1="187.68" y1="1559.20" x2="187.68" y2="1566.80" stroke="#231f20" stroke-width="3.6" stroke-linecap="butt"/>
<line x1="180.17" y1="1559.20" x2="180.17" y2="1563.80" stroke="#231f20" stroke-width="3.4" stroke-linecap="butt"/>
<line x1="174.40" y1="1559.20" x2="174.40" y2="1563.80" stroke="#231f20" stroke-width="3.4" stroke-linecap="butt"/>
<line x1="170.73" y1="1559.20" x2="170.73" y2="1563.80" stroke="#231f20" stroke-width="3.4" stroke-linecap="butt"/>
<line x1="167.07" y1="1559.20" x2="167.07" y2="1563.80" stroke="#231f20" stroke-width="3.4" stroke-linecap="butt"/>
<line x1="163.86" y1="1559.20" x2="163.86" y2="1563.80" stroke="#231f20" stroke-width="3.4" stroke-linecap="butt"/>
<line x1="283.86" y1="1559.20" x2="283.86" y2="1563.80" stroke="#231f20" stroke-width="3.4" stroke-linecap="butt"/>
<line x1="296.41" y1="1559.20" x2="296.41" y2="1563.80" stroke="#231f20" stroke-width="3.4" stroke-linecap="butt"/>
<line x1="307.49" y1="1559.20" x2="307.49" y2="1563.80" stroke="#231f20" stroke-width="3.4" stroke-linecap="butt"/>
<line x1="315.92" y1="1559.20" x2="315.92" y2="1566.80" stroke="#231f20" stroke-width="3.6" stroke-linecap="butt"/>
<line x1="323.43" y1="1559.20" x2="323.43" y2="1563.80" stroke="#231f20" stroke-width="3.4" stroke-linecap="butt"/>
<line x1="329.20" y1="1559.20" x2="329.20" y2="1563.80" stroke="#231f20" stroke-width="3.4" stroke-linecap="butt"/>
<line x1="332.87" y1="1559.20" x2="332.87" y2="1563.80" stroke="#231f20" stroke-width="3.4" stroke-linecap="butt"/>
<line x1="336.53" y1="1559.20" x2="336.53" y2="1563.80" stroke="#231f20" stroke-width="3.4" stroke-linecap="butt"/>
<line x1="339.74" y1="1559.20" x2="339.74" y2="1563.80" stroke="#231f20" stroke-width="3.4" stroke-linecap="butt"/>
<rect x="233.85" y="1559.20" width="35.91" height="4.6" fill="#231f20"/>
<rect x="233.75" y="1559.20" width="3.4" height="11.00" fill="#231f20"/>
<rect x="266.45" y="1559.20" width="3.4" height="11.00" fill="#231f20"/>
<rect x="249.30" y="1559.20" width="5.6" height="11.00" fill="#231f20"/>
<rect x="242.56" y="1559.20" width="3.4" height="7.80" fill="#231f20"/>
<rect x="257.64" y="1559.20" width="3.4" height="7.80" fill="#231f20"/>
<rect x="159.40" y="1177.70" width="381.60" height="381.50" fill="none" stroke="#231f20" stroke-width="1.8"/>
<line x1="274.50" y1="1175.90" x2="274.50" y2="1559.20" stroke="#231f20" stroke-width="2.4" stroke-linecap="butt"/>
<line x1="159.40" y1="1406.80" x2="541.90" y2="1406.80" stroke="#231f20" stroke-width="2.4" stroke-linecap="butt"/>
<text font-size="29" text-anchor="start" transform="translate(178.70 1210.70) scale(1.015 1.045)">16</text>
<text font-size="29" text-anchor="end" transform="translate(525.30 1209.70) scale(1.015 1.045)">0</text>
<text font-size="29" text-anchor="start" transform="translate(176.40 1542.40) scale(1.015 1.045)">83.6</text>
<text font-size="29" text-anchor="end" transform="translate(525.30 1541.20) scale(1.015 1.045)">0</text>
<text transform="translate(140.40 1220.20) scale(1.03 1.02)" font-size="20" text-anchor="end">10<tspan dy="-8.4" font-size="14">5</tspan></text>
<text transform="translate(140.40 1310.80) scale(1.03 1.02)" font-size="20" text-anchor="end">10<tspan dy="-8.4" font-size="14">4</tspan></text>
<text transform="translate(140.40 1415.10) scale(1.03 1.02)" font-size="20" text-anchor="end">10<tspan dy="-8.4" font-size="14">3</tspan></text>
<text transform="translate(140.40 1541.40) scale(1.03 1.02)" font-size="20" text-anchor="end">–10<tspan dy="-8.4" font-size="14">3</tspan></text>
<text transform="translate(139.80 1471.65) scale(1 1.02)" font-size="20" text-anchor="end">0</text>
<text transform="translate(507.90 1598.20) scale(1.03 1.02)" font-size="20" text-anchor="middle">10<tspan dy="-8.4" font-size="14">5</tspan></text>
<text transform="translate(430.10 1598.20) scale(1.03 1.02)" font-size="20" text-anchor="middle">10<tspan dy="-8.4" font-size="14">4</tspan></text>
<text transform="translate(345.00 1598.20) scale(1.03 1.02)" font-size="20" text-anchor="middle">10<tspan dy="-8.4" font-size="14">3</tspan></text>
<text transform="translate(160.60 1598.20) scale(1.03 1.02)" font-size="20" text-anchor="middle">–10<tspan dy="-8.4" font-size="14">3</tspan></text>
<text transform="translate(253.20 1598.20) scale(1 1.02)" font-size="20" text-anchor="middle">0</text>
<path d="M819.0,1326.5h1.7M799.0,1287.5h1.7M804.0,1301.5h1.7M814.0,1303.5h1.7M826.0,1309.5h1.7M808.0,1331.5h1.7M816.0,1305.5h1.7M820.0,1346.5h1.7M804.0,1290.5h1.7M818.0,1328.5h1.7M821.0,1324.5h1.7M807.0,1301.5h1.7M804.0,1329.5h1.7M811.0,1347.5h1.7M817.0,1290.5h1.7M820.0,1336.5h1.7M813.0,1300.5h1.7M828.0,1299.5h1.7M812.0,1290.5h1.7M803.0,1293.5h1.7M822.0,1335.5h1.7M810.0,1298.5h1.7M813.0,1324.5h1.7M800.0,1301.5h1.7M812.0,1328.5h1.7M814.0,1325.5h1.7M803.0,1282.5h1.7M816.0,1305.5h1.7M812.0,1312.5h1.7M817.0,1307.5h1.7M825.0,1318.5h1.7M817.0,1327.5h1.7M822.0,1324.5h1.7M828.0,1325.5h1.7M818.0,1325.5h1.7M808.0,1308.5h1.7M808.0,1335.5h1.7M816.0,1344.5h1.7M817.0,1346.5h1.7M817.0,1301.5h1.7M827.0,1323.5h1.7M823.0,1321.5h1.7M810.0,1320.5h1.7M804.0,1300.5h1.7M806.0,1310.5h1.7M816.0,1348.5h1.7M828.0,1317.5h1.7M820.0,1315.5h1.7M816.0,1318.5h1.7M808.0,1319.5h1.7M811.0,1302.5h1.7M810.0,1326.5h1.7M807.0,1325.5h1.7M818.0,1341.5h1.7M817.0,1340.5h1.7M815.0,1329.5h1.7M827.0,1314.5h1.7M831.0,1307.5h1.7M811.0,1294.5h1.7M818.0,1322.5h1.7M830.0,1320.5h1.7M811.0,1297.5h1.7M812.0,1332.5h1.7M819.0,1336.5h1.7M820.0,1317.5h1.7M818.0,1321.5h1.7M802.0,1343.5h1.7M816.0,1302.5h1.7M816.0,1322.5h1.7M821.0,1339.5h1.7M826.0,1304.5h1.7M816.0,1323.5h1.7M815.0,1329.5h1.7M831.0,1322.5h1.7M808.0,1283.5h1.7M822.0,1316.5h1.7M812.0,1303.5h1.7M819.0,1291.5h1.7M814.0,1320.5h1.7M816.0,1337.5h1.7M812.0,1319.5h1.7M820.0,1295.5h1.7M811.0,1319.5h1.7M821.0,1306.5h1.7M820.0,1324.5h1.7M800.0,1296.5h1.7M815.0,1329.5h1.7M820.0,1310.5h1.7M822.0,1330.5h1.7M817.0,1325.5h1.7M804.0,1300.5h1.7M810.0,1320.5h1.7M813.0,1313.5h1.7M807.0,1297.5h1.7M814.0,1340.5h1.7M810.0,1302.5h1.7M825.0,1344.5h1.7M811.0,1315.5h1.7M815.0,1362.5h1.7M814.0,1333.5h1.7M817.0,1291.5h1.7M804.0,1300.5h1.7M817.0,1320.5h1.7M828.0,1314.5h1.7M816.0,1319.5h1.7M814.0,1353.5h1.7M815.0,1340.5h1.7M824.0,1309.5h1.7M819.0,1312.5h1.7M814.0,1320.5h1.7M813.0,1311.5h1.7M826.0,1314.5h1.7M819.0,1343.5h1.7M818.0,1333.5h1.7M825.0,1334.5h1.7M828.0,1297.5h1.7M830.0,1318.5h1.7M816.0,1320.5h1.7M806.0,1314.5h1.7M812.0,1319.5h1.7M813.0,1315.5h1.7M820.0,1294.5h1.7M809.0,1320.5h1.7M810.0,1310.5h1.7M809.0,1321.5h1.7M824.0,1315.5h1.7M811.0,1323.5h1.7M811.0,1289.5h1.7M815.0,1312.5h1.7M808.0,1327.5h1.7M813.0,1310.5h1.7M795.0,1292.5h1.7M813.0,1316.5h1.7M817.0,1321.5h1.7M809.0,1299.5h1.7M803.0,1329.5h1.7M802.0,1291.5h1.7M811.0,1291.5h1.7M827.0,1303.5h1.7M813.0,1314.5h1.7M806.0,1291.5h1.7M822.0,1350.5h1.7M813.0,1331.5h1.7M809.0,1329.5h1.7M821.0,1327.5h1.7M825.0,1315.5h1.7M826.0,1307.5h1.7M827.0,1277.5h1.7M813.0,1306.5h1.7M813.0,1333.5h1.7M819.0,1319.5h1.7M827.0,1296.5h1.7M806.0,1341.5h1.7M816.0,1287.5h1.7M816.0,1300.5h1.7M826.0,1335.5h1.7M808.0,1337.5h1.7M806.0,1332.5h1.7M818.0,1316.5h1.7M797.0,1336.5h1.7M805.0,1282.5h1.7M818.0,1324.5h1.7M809.0,1350.5h1.7M820.0,1319.5h1.7M808.0,1274.5h1.7M817.0,1332.5h1.7M808.0,1297.5h1.7M813.0,1293.5h1.7M813.0,1330.5h1.7M826.0,1322.5h1.7M815.0,1329.5h1.7M825.0,1313.5h1.7M812.0,1323.5h1.7M814.0,1319.5h1.7M810.0,1324.5h1.7M821.0,1329.5h1.7M826.0,1314.5h1.7M811.0,1343.5h1.7M815.0,1324.5h1.7M810.0,1333.5h1.7M810.0,1303.5h1.7M812.0,1311.5h1.7M820.0,1312.5h1.7M814.0,1315.5h1.7M816.0,1309.5h1.7M822.0,1297.5h1.7M810.0,1307.5h1.7M819.0,1319.5h1.7M817.0,1313.5h1.7M807.0,1301.5h1.7M810.0,1310.5h1.7M815.0,1323.5h1.7M821.0,1316.5h1.7M807.0,1302.5h1.7M814.0,1323.5h1.7M830.0,1321.5h1.7M828.0,1346.5h1.7M804.0,1336.5h1.7M823.0,1338.5h1.7M813.0,1332.5h1.7M809.0,1317.5h1.7M813.0,1345.5h1.7M811.0,1332.5h1.7M814.0,1307.5h1.7M815.0,1328.5h1.7M807.0,1328.5h1.7M807.0,1305.5h1.7M815.0,1314.5h1.7M805.0,1294.5h1.7M813.0,1322.5h1.7M809.0,1321.5h1.7M817.0,1322.5h1.7M808.0,1319.5h1.7M814.0,1334.5h1.7M815.0,1322.5h1.7M807.0,1331.5h1.7M823.0,1311.5h1.7M818.0,1323.5h1.7M813.0,1299.5h1.7M828.0,1290.5h1.7M816.0,1312.5h1.7M823.0,1312.5h1.7M813.0,1327.5h1.7M817.0,1310.5h1.7M819.0,1324.5h1.7M821.0,1310.5h1.7M813.0,1312.5h1.7M806.0,1322.5h1.7M816.0,1339.5h1.7M810.0,1324.5h1.7M823.0,1316.5h1.7M814.0,1320.5h1.7M807.0,1303.5h1.7M822.0,1321.5h1.7M812.0,1299.5h1.7M814.0,1336.5h1.7M803.0,1305.5h1.7M822.0,1339.5h1.7M826.0,1310.5h1.7M818.0,1307.5h1.7M817.0,1313.5h1.7M815.0,1338.5h1.7M816.0,1314.5h1.7M813.0,1322.5h1.7M809.0,1321.5h1.7M818.0,1341.5h1.7M803.0,1331.5h1.7M834.0,1321.5h1.7M814.0,1335.5h1.7M809.0,1311.5h1.7M816.0,1309.5h1.7M822.0,1318.5h1.7M816.0,1356.5h1.7M809.0,1332.5h1.7M806.0,1337.5h1.7M821.0,1320.5h1.7M821.0,1342.5h1.7M825.0,1318.5h1.7M813.0,1334.5h1.7M817.0,1326.5h1.7M829.0,1344.5h1.7M816.0,1325.5h1.7M815.0,1315.5h1.7M814.0,1327.5h1.7M805.0,1310.5h1.7M804.0,1293.5h1.7M819.0,1315.5h1.7M821.0,1313.5h1.7M831.0,1329.5h1.7M814.0,1320.5h1.7M811.0,1330.5h1.7M830.0,1312.5h1.7M804.0,1327.5h1.7M822.0,1296.5h1.7M807.0,1303.5h1.7M818.0,1325.5h1.7M807.0,1301.5h1.7M819.0,1288.5h1.7M818.0,1316.5h1.7M829.0,1333.5h1.7M808.0,1314.5h1.7M811.0,1307.5h1.7M814.0,1332.5h1.7M826.0,1329.5h1.7M806.0,1306.5h1.7M806.0,1294.5h1.7M823.0,1319.5h1.7M807.0,1297.5h1.7M810.0,1310.5h1.7M827.0,1311.5h1.7M814.0,1334.5h1.7M819.0,1315.5h1.7M795.0,1339.5h1.7M818.0,1312.5h1.7M812.0,1304.5h1.7M805.0,1296.5h1.7M817.0,1326.5h1.7M814.0,1330.5h1.7M817.0,1320.5h1.7M806.0,1327.5h1.7M823.0,1327.5h1.7M823.0,1311.5h1.7M805.0,1336.5h1.7M808.0,1322.5h1.7M811.0,1318.5h1.7M811.0,1310.5h1.7M798.0,1346.5h1.7M815.0,1290.5h1.7M805.0,1301.5h1.7M807.0,1280.5h1.7M818.0,1342.5h1.7M811.0,1329.5h1.7M818.0,1300.5h1.7M823.0,1293.5h1.7M808.0,1313.5h1.7M823.0,1320.5h1.7M812.0,1306.5h1.7M814.0,1319.5h1.7M819.0,1339.5h1.7M819.0,1318.5h1.7M812.0,1342.5h1.7M815.0,1318.5h1.7M828.0,1341.5h1.7M818.0,1316.5h1.7M808.0,1334.5h1.7M809.0,1332.5h1.7M806.0,1320.5h1.7M816.0,1320.5h1.7M815.0,1324.5h1.7M804.0,1302.5h1.7M812.0,1344.5h1.7M812.0,1304.5h1.7M808.0,1318.5h1.7M823.0,1310.5h1.7M818.0,1321.5h1.7M810.0,1304.5h1.7M812.0,1307.5h1.7M817.0,1292.5h1.7M822.0,1329.5h1.7M818.0,1340.5h1.7M818.0,1293.5h1.7M813.0,1325.5h1.7M807.0,1301.5h1.7M817.0,1325.5h1.7M809.0,1314.5h1.7M809.0,1310.5h1.7M813.0,1334.5h1.7M826.0,1323.5h1.7M814.0,1330.5h1.7M805.0,1300.5h1.7M815.0,1330.5h1.7M810.0,1308.5h1.7M816.0,1327.5h1.7M815.0,1290.5h1.7M808.0,1281.5h1.7M815.0,1306.5h1.7M808.0,1340.5h1.7M824.0,1325.5h1.7M815.0,1321.5h1.7M808.0,1317.5h1.7M829.0,1305.5h1.7M808.0,1320.5h1.7M820.0,1330.5h1.7M805.0,1316.5h1.7M811.0,1300.5h1.7M814.0,1311.5h1.7M821.0,1324.5h1.7M807.0,1319.5h1.7M810.0,1309.5h1.7M809.0,1334.5h1.7M810.0,1293.5h1.7M807.0,1330.5h1.7M831.0,1303.5h1.7M810.0,1313.5h1.7M813.0,1322.5h1.7M832.0,1314.5h1.7M820.0,1330.5h1.7M808.0,1309.5h1.7M826.0,1328.5h1.7M814.0,1302.5h1.7M820.0,1326.5h1.7M831.0,1340.5h1.7M820.0,1322.5h1.7M814.0,1310.5h1.7M816.0,1322.5h1.7M818.0,1334.5h1.7M816.0,1310.5h1.7M820.0,1341.5h1.7M806.0,1324.5h1.7M818.0,1326.5h1.7M817.0,1317.5h1.7M812.0,1343.5h1.7M827.0,1298.5h1.7M807.0,1310.5h1.7M813.0,1310.5h1.7M820.0,1353.5h1.7M825.0,1335.5h1.7M810.0,1328.5h1.7M813.0,1335.5h1.7M818.0,1317.5h1.7M789.0,1344.5h1.7M793.0,1366.5h1.7M771.0,1356.5h1.7M746.0,1360.5h1.7M795.0,1341.5h1.7M812.0,1352.5h1.7M744.0,1338.5h1.7M795.0,1348.5h1.7M776.0,1360.5h1.7M765.0,1358.5h1.7M771.0,1354.5h1.7M784.0,1373.5h1.7M754.0,1359.5h1.7M804.0,1340.5h1.7M780.0,1373.5h1.7M784.0,1344.5h1.7M767.0,1343.5h1.7M784.0,1346.5h1.7M760.0,1349.5h1.7M786.0,1343.5h1.7M786.0,1347.5h1.7M809.0,1345.5h1.7M765.0,1338.5h1.7M817.0,1357.5h1.7M757.0,1348.5h1.7M759.0,1366.5h1.7M782.0,1360.5h1.7M778.0,1356.5h1.7M776.0,1353.5h1.7M782.0,1344.5h1.7M785.0,1353.5h1.7M777.0,1344.5h1.7M758.0,1353.5h1.7M768.0,1364.5h1.7M796.0,1344.5h1.7M804.0,1341.5h1.7M763.0,1370.5h1.7M770.0,1349.5h1.7M746.0,1341.5h1.7M755.0,1350.5h1.7M742.0,1361.5h1.7M771.0,1345.5h1.7M766.0,1358.5h1.7M808.0,1347.5h1.7M809.0,1367.5h1.7M804.0,1354.5h1.7M749.0,1358.5h1.7M770.0,1353.5h1.7M783.0,1342.5h1.7M784.0,1367.5h1.7M782.0,1344.5h1.7M824.0,1330.5h1.7M760.0,1355.5h1.7M783.0,1359.5h1.7M763.0,1365.5h1.7M788.0,1363.5h1.7M748.0,1351.5h1.7M809.0,1371.5h1.7M804.0,1351.5h1.7M782.0,1345.5h1.7M799.0,1344.5h1.7M749.0,1368.5h1.7M779.0,1353.5h1.7M818.0,1336.5h1.7M768.0,1349.5h1.7M753.0,1338.5h1.7M754.0,1357.5h1.7M777.0,1359.5h1.7M757.0,1357.5h1.7M769.0,1352.5h1.7M796.0,1351.5h1.7M779.0,1359.5h1.7M766.0,1350.5h1.7M743.0,1338.5h1.7M786.0,1364.5h1.7M773.0,1370.5h1.7M784.0,1350.5h1.7M798.0,1347.5h1.7M785.0,1353.5h1.7M787.0,1337.5h1.7M792.0,1360.5h1.7M760.0,1366.5h1.7M778.0,1358.5h1.7M789.0,1360.5h1.7M765.0,1345.5h1.7M785.0,1357.5h1.7M789.0,1354.5h1.7M768.0,1362.5h1.7M787.0,1361.5h1.7M765.0,1352.5h1.7M769.0,1348.5h1.7M782.0,1354.5h1.7M763.0,1356.5h1.7M761.0,1355.5h1.7M771.0,1342.5h1.7M801.0,1367.5h1.7M776.0,1351.5h1.7M797.0,1338.5h1.7M761.0,1362.5h1.7M796.0,1346.5h1.7M763.0,1354.5h1.7M750.0,1346.5h1.7M790.0,1359.5h1.7M799.0,1337.5h1.7M753.0,1343.5h1.7M752.0,1371.5h1.7M759.0,1348.5h1.7M782.0,1356.5h1.7M807.0,1340.5h1.7M795.0,1352.5h1.7M755.0,1352.5h1.7M750.0,1367.5h1.7M764.0,1361.5h1.7M804.0,1345.5h1.7M760.0,1352.5h1.7M757.0,1360.5h1.7M781.0,1343.5h1.7M764.0,1358.5h1.7M749.0,1368.5h1.7M762.0,1349.5h1.7M760.0,1367.5h1.7M794.0,1364.5h1.7M791.0,1352.5h1.7M812.0,1358.5h1.7M787.0,1357.5h1.7M793.0,1354.5h1.7M819.0,1338.5h1.7M817.0,1363.5h1.7M766.0,1354.5h1.7M771.0,1354.5h1.7M801.0,1339.5h1.7M785.0,1352.5h1.7M781.0,1352.5h1.7M771.0,1337.5h1.7M787.0,1355.5h1.7M790.0,1363.5h1.7M742.0,1372.5h1.7M760.0,1355.5h1.7M778.0,1358.5h1.7M842.0,1346.5h1.7M775.0,1345.5h1.7M783.0,1356.5h1.7M759.0,1364.5h1.7M801.0,1355.5h1.7M776.0,1349.5h1.7M745.0,1358.5h1.7M759.0,1346.5h1.7M798.0,1342.5h1.7M768.0,1360.5h1.7M815.0,1344.5h1.7M800.0,1344.5h1.7M786.0,1356.5h1.7M755.0,1361.5h1.7M814.0,1352.5h1.7M783.0,1339.5h1.7M814.0,1352.5h1.7M752.0,1359.5h1.7M749.0,1344.5h1.7M822.0,1345.5h1.7M765.0,1345.5h1.7M767.0,1357.5h1.7M807.0,1341.5h1.7M808.0,1350.5h1.7M764.0,1366.5h1.7M776.0,1365.5h1.7M799.0,1368.5h1.7M762.0,1352.5h1.7M785.0,1349.5h1.7M808.0,1344.5h1.7M798.0,1365.5h1.7M760.0,1346.5h1.7M786.0,1349.5h1.7M780.0,1346.5h1.7M776.0,1356.5h1.7M793.0,1343.5h1.7M776.0,1343.5h1.7M774.0,1337.5h1.7M797.0,1358.5h1.7M776.0,1344.5h1.7M769.0,1344.5h1.7M747.0,1367.5h1.7M844.0,1339.5h1.7M755.0,1357.5h1.7M768.0,1352.5h1.7M778.0,1345.5h1.7M775.0,1348.5h1.7M803.0,1350.5h1.7M777.0,1346.5h1.7M765.0,1344.5h1.7M778.0,1369.5h1.7M800.0,1353.5h1.7M811.0,1361.5h1.7M782.0,1349.5h1.7M756.0,1353.5h1.7M752.0,1370.5h1.7M782.0,1356.5h1.7M782.0,1346.5h1.7M787.0,1362.5h1.7M772.0,1356.5h1.7M799.0,1346.5h1.7M781.0,1344.5h1.7M790.0,1347.5h1.7M801.0,1343.5h1.7M812.0,1348.5h1.7M761.0,1342.5h1.7M791.0,1342.5h1.7M814.0,1364.5h1.7M788.0,1337.5h1.7M778.0,1344.5h1.7M742.0,1355.5h1.7M822.0,1346.5h1.7M794.0,1364.5h1.7M759.0,1348.5h1.7M783.0,1356.5h1.7M755.0,1353.5h1.7M776.0,1361.5h1.7M746.0,1345.5h1.7M768.0,1348.5h1.7M792.0,1345.5h1.7M833.0,1344.5h1.7M795.0,1361.5h1.7M797.0,1349.5h1.7M761.0,1348.5h1.7M791.0,1352.5h1.7M790.0,1357.5h1.7M760.0,1342.5h1.7M807.0,1346.5h1.7M746.0,1370.5h1.7M761.0,1342.5h1.7M797.0,1340.5h1.7M761.0,1361.5h1.7M762.0,1376.5h1.7M780.0,1378.5h1.7M781.0,1352.5h1.7M765.0,1349.5h1.7M768.0,1351.5h1.7M793.0,1338.5h1.7M808.0,1350.5h1.7M778.0,1350.5h1.7M798.0,1354.5h1.7M795.0,1349.5h1.7M776.0,1350.5h1.7M746.0,1341.5h1.7M791.0,1352.5h1.7M794.0,1368.5h1.7M815.0,1365.5h1.7M773.0,1371.5h1.7M760.0,1350.5h1.7M798.0,1349.5h1.7M776.0,1347.5h1.7M805.0,1326.5h1.7M803.0,1362.5h1.7M777.0,1357.5h1.7M759.0,1362.5h1.7M839.0,1342.5h1.7M806.0,1350.5h1.7M771.0,1346.5h1.7M774.0,1338.5h1.7M751.0,1368.5h1.7M778.0,1357.5h1.7M784.0,1356.5h1.7M747.0,1342.5h1.7M791.0,1361.5h1.7M755.0,1345.5h1.7M757.0,1358.5h1.7M785.0,1351.5h1.7M765.0,1354.5h1.7M779.0,1344.5h1.7M785.0,1344.5h1.7M797.0,1357.5h1.7M764.0,1357.5h1.7M779.0,1344.5h1.7M755.0,1354.5h1.7M802.0,1345.5h1.7M781.0,1354.5h1.7M794.0,1355.5h1.7M803.0,1359.5h1.7M763.0,1355.5h1.7M778.0,1357.5h1.7M772.0,1359.5h1.7M804.0,1343.5h1.7M767.0,1354.5h1.7M788.0,1352.5h1.7M795.0,1339.5h1.7M794.0,1363.5h1.7M800.0,1355.5h1.7M773.0,1355.5h1.7M766.0,1351.5h1.7M768.0,1342.5h1.7M773.0,1347.5h1.7M779.0,1351.5h1.7M781.0,1361.5h1.7M781.0,1355.5h1.7M770.0,1358.5h1.7M771.0,1345.5h1.7M753.0,1360.5h1.7M767.0,1353.5h1.7M801.0,1356.5h1.7M823.0,1350.5h1.7M797.0,1358.5h1.7M765.0,1351.5h1.7M767.0,1341.5h1.7M784.0,1343.5h1.7M812.0,1344.5h1.7M767.0,1352.5h1.7M768.0,1352.5h1.7M766.0,1337.5h1.7M808.0,1355.5h1.7M781.0,1346.5h1.7M775.0,1354.5h1.7M750.0,1343.5h1.7M760.0,1364.5h1.7M757.0,1363.5h1.7M769.0,1378.5h1.7M776.0,1351.5h1.7M805.0,1360.5h1.7M797.0,1340.5h1.7M801.0,1368.5h1.7M776.0,1346.5h1.7M756.0,1361.5h1.7M784.0,1351.5h1.7M753.0,1367.5h1.7M796.0,1351.5h1.7M808.0,1341.5h1.7M796.0,1341.5h1.7M806.0,1348.5h1.7M802.0,1347.5h1.7M786.0,1362.5h1.7M760.0,1352.5h1.7M761.0,1360.5h1.7M766.0,1347.5h1.7M774.0,1363.5h1.7M757.0,1351.5h1.7M771.0,1346.5h1.7M762.0,1349.5h1.7M783.0,1339.5h1.7M778.0,1374.5h1.7M759.0,1350.5h1.7M773.0,1361.5h1.7M746.0,1353.5h1.7M783.0,1362.5h1.7M767.0,1358.5h1.7M757.0,1364.5h1.7M777.0,1344.5h1.7M782.0,1368.5h1.7M761.0,1339.5h1.7M758.0,1339.5h1.7M777.0,1355.5h1.7M775.0,1353.5h1.7M802.0,1348.5h1.7M783.0,1344.5h1.7M773.0,1355.5h1.7M759.0,1352.5h1.7M775.0,1362.5h1.7M801.0,1335.5h1.7M759.0,1355.5h1.7M757.0,1376.5h1.7M783.0,1356.5h1.7M769.0,1373.5h1.7M789.0,1344.5h1.7M803.0,1334.5h1.7M766.0,1354.5h1.7M781.0,1341.5h1.7M810.0,1366.5h1.7M759.0,1355.5h1.7M765.0,1347.5h1.7M798.0,1352.5h1.7M776.0,1352.5h1.7M755.0,1363.5h1.7M763.0,1364.5h1.7M769.0,1346.5h1.7M808.0,1353.5h1.7M765.0,1346.5h1.7M790.0,1370.5h1.7M790.0,1347.5h1.7M756.0,1344.5h1.7M776.0,1353.5h1.7M765.0,1364.5h1.7M759.0,1344.5h1.7M788.0,1356.5h1.7M770.0,1361.5h1.7M750.0,1367.5h1.7M822.0,1371.5h1.7M780.0,1371.5h1.7M779.0,1364.5h1.7M774.0,1353.5h1.7M774.0,1368.5h1.7M796.0,1354.5h1.7M782.0,1365.5h1.7M759.0,1348.5h1.7M781.0,1347.5h1.7M776.0,1368.5h1.7M797.0,1357.5h1.7M778.0,1352.5h1.7M785.0,1353.5h1.7M764.0,1359.5h1.7M761.0,1351.5h1.7M771.0,1339.5h1.7M790.0,1350.5h1.7M755.0,1350.5h1.7M750.0,1365.5h1.7M788.0,1371.5h1.7M767.0,1358.5h1.7M759.0,1342.5h1.7M776.0,1355.5h1.7M796.0,1348.5h1.7M800.0,1361.5h1.7M761.0,1349.5h1.7M760.0,1368.5h1.7M767.0,1360.5h1.7M796.0,1348.5h1.7M768.0,1354.5h1.7M763.0,1338.5h1.7M759.0,1354.5h1.7M782.0,1369.5h1.7M742.0,1356.5h1.7M755.0,1363.5h1.7M792.0,1352.5h1.7M807.0,1347.5h1.7M767.0,1341.5h1.7M765.0,1352.5h1.7M791.0,1364.5h1.7M773.0,1344.5h1.7M771.0,1347.5h1.7M769.0,1347.5h1.7M761.0,1350.5h1.7M768.0,1349.5h1.7M750.0,1352.5h1.7M789.0,1357.5h1.7M767.0,1340.5h1.7M752.0,1339.5h1.7M765.0,1348.5h1.7M743.0,1358.5h1.7M747.0,1344.5h1.7M764.0,1359.5h1.7M815.0,1347.5h1.7M773.0,1347.5h1.7M774.0,1349.5h1.7M827.0,1340.5h1.7M776.0,1343.5h1.7M785.0,1346.5h1.7M789.0,1340.5h1.7M820.0,1353.5h1.7M743.0,1358.5h1.7M769.0,1340.5h1.7M787.0,1346.5h1.7M793.0,1346.5h1.7M796.0,1352.5h1.7M785.0,1353.5h1.7M771.0,1347.5h1.7M787.0,1358.5h1.7M770.0,1373.5h1.7M811.0,1340.5h1.7M799.0,1350.5h1.7M783.0,1343.5h1.7M811.0,1343.5h1.7M776.0,1344.5h1.7M816.0,1363.5h1.7M752.0,1347.5h1.7M785.0,1347.5h1.7M771.0,1340.5h1.7M783.0,1340.5h1.7M794.0,1375.5h1.7M772.0,1367.5h1.7M785.0,1344.5h1.7M771.0,1342.5h1.7M780.0,1358.5h1.7M796.0,1348.5h1.7M754.0,1350.5h1.7M811.0,1354.5h1.7M769.0,1356.5h1.7M759.0,1364.5h1.7M767.0,1342.5h1.7M767.0,1350.5h1.7M798.0,1345.5h1.7M743.0,1350.5h1.7M788.0,1366.5h1.7M756.0,1366.5h1.7M791.0,1355.5h1.7M763.0,1342.5h1.7M759.0,1360.5h1.7M782.0,1362.5h1.7M814.0,1351.5h1.7M777.0,1370.5h1.7M752.0,1347.5h1.7M771.0,1347.5h1.7M781.0,1343.5h1.7M801.0,1338.5h1.7M750.0,1357.5h1.7M790.0,1349.5h1.7M795.0,1357.5h1.7M767.0,1351.5h1.7M785.0,1371.5h1.7M769.0,1355.5h1.7M789.0,1363.5h1.7M786.0,1362.5h1.7M757.0,1348.5h1.7M824.0,1353.5h1.7M780.0,1354.5h1.7M781.0,1338.5h1.7M764.0,1349.5h1.7M781.0,1343.5h1.7M776.0,1344.5h1.7M752.0,1345.5h1.7M762.0,1359.5h1.7M804.0,1357.5h1.7M774.0,1346.5h1.7M747.0,1346.5h1.7M809.0,1362.5h1.7M782.0,1349.5h1.7M778.0,1355.5h1.7M778.0,1355.5h1.7M763.0,1352.5h1.7M771.0,1362.5h1.7M754.0,1364.5h1.7M776.0,1346.5h1.7M778.0,1352.5h1.7M773.0,1355.5h1.7M792.0,1351.5h1.7M811.0,1355.5h1.7M764.0,1356.5h1.7M822.0,1362.5h1.7M757.0,1350.5h1.7M746.0,1358.5h1.7M789.0,1341.5h1.7M787.0,1360.5h1.7M794.0,1345.5h1.7M764.0,1340.5h1.7M753.0,1354.5h1.7M779.0,1364.5h1.7M783.0,1348.5h1.7M750.0,1366.5h1.7M781.0,1351.5h1.7M758.0,1341.5h1.7M790.0,1342.5h1.7M789.0,1357.5h1.7M786.0,1365.5h1.7M762.0,1339.5h1.7M799.0,1352.5h1.7M766.0,1363.5h1.7M773.0,1355.5h1.7M770.0,1344.5h1.7M782.0,1343.5h1.7M743.0,1346.5h1.7M802.0,1362.5h1.7M821.0,1361.5h1.7M810.0,1354.5h1.7M769.0,1356.5h1.7M759.0,1358.5h1.7M769.0,1354.5h1.7M761.0,1350.5h1.7M797.0,1349.5h1.7M765.0,1354.5h1.7M795.0,1349.5h1.7M752.0,1361.5h1.7M776.0,1356.5h1.7M799.0,1354.5h1.7M787.0,1346.5h1.7M746.0,1357.5h1.7M776.0,1357.5h1.7M757.0,1350.5h1.7M818.0,1343.5h1.7M780.0,1364.5h1.7M773.0,1352.5h1.7M769.0,1364.5h1.7M776.0,1348.5h1.7M787.0,1349.5h1.7M768.0,1366.5h1.7M797.0,1352.5h1.7M794.0,1359.5h1.7M789.0,1352.5h1.7M779.0,1355.5h1.7M789.0,1355.5h1.7M767.0,1350.5h1.7M787.0,1342.5h1.7M778.0,1358.5h1.7M781.0,1348.5h1.7M778.0,1346.5h1.7M797.0,1348.5h1.7M745.0,1340.5h1.7M784.0,1353.5h1.7M769.0,1339.5h1.7M775.0,1343.5h1.7M765.0,1351.5h1.7M763.0,1354.5h1.7M764.0,1347.5h1.7M774.0,1365.5h1.7M809.0,1360.5h1.7M764.0,1351.5h1.7M796.0,1359.5h1.7M746.0,1351.5h1.7M764.0,1358.5h1.7M790.0,1346.5h1.7M820.0,1348.5h1.7M826.0,1350.5h1.7M776.0,1369.5h1.7M768.0,1347.5h1.7M807.0,1351.5h1.7M787.0,1339.5h1.7M813.0,1361.5h1.7M785.0,1358.5h1.7M768.0,1347.5h1.7M747.0,1355.5h1.7M802.0,1359.5h1.7M796.0,1358.5h1.7M760.0,1339.5h1.7M791.0,1353.5h1.7M797.0,1349.5h1.7M761.0,1355.5h1.7M766.0,1343.5h1.7M756.0,1346.5h1.7M797.0,1374.5h1.7M812.0,1347.5h1.7M800.0,1350.5h1.7M786.0,1345.5h1.7M813.0,1344.5h1.7M789.0,1346.5h1.7M783.0,1340.5h1.7M771.0,1360.5h1.7M795.0,1339.5h1.7M784.0,1356.5h1.7M765.0,1348.5h1.7M773.0,1355.5h1.7M796.0,1364.5h1.7M784.0,1370.5h1.7M759.0,1368.5h1.7M773.0,1358.5h1.7M776.0,1352.5h1.7M760.0,1355.5h1.7M818.0,1353.5h1.7M778.0,1351.5h1.7M792.0,1349.5h1.7M778.0,1353.5h1.7M804.0,1360.5h1.7M757.0,1345.5h1.7M778.0,1359.5h1.7M797.0,1349.5h1.7M820.0,1350.5h1.7M806.0,1365.5h1.7M809.0,1353.5h1.7M790.0,1361.5h1.7M793.0,1393.5h1.7M772.0,1393.5h1.7M790.0,1399.5h1.7M751.0,1367.5h1.7M817.0,1369.5h1.7M754.0,1375.5h1.7M798.0,1375.5h1.7M794.0,1387.5h1.7M759.0,1351.5h1.7M752.0,1365.5h1.7M817.0,1371.5h1.7M748.0,1385.5h1.7M776.0,1369.5h1.7M803.0,1392.5h1.7M782.0,1371.5h1.7M753.0,1355.5h1.7M785.0,1385.5h1.7M752.0,1381.5h1.7M859.0,1366.5h1.7M764.0,1374.5h1.7M791.0,1379.5h1.7M800.0,1387.5h1.7M805.0,1382.5h1.7M781.0,1363.5h1.7M777.0,1391.5h1.7M749.0,1381.5h1.7M756.0,1368.5h1.7M759.0,1396.5h1.7M792.0,1380.5h1.7M773.0,1382.5h1.7M782.0,1382.5h1.7M753.0,1348.5h1.7M793.0,1365.5h1.7M771.0,1379.5h1.7M760.0,1387.5h1.7M768.0,1377.5h1.7M751.0,1377.5h1.7M749.0,1381.5h1.7M809.0,1393.5h1.7M786.0,1363.5h1.7M801.0,1392.5h1.7M828.0,1352.5h1.7M775.0,1376.5h1.7M803.0,1367.5h1.7M800.0,1355.5h1.7M776.0,1397.5h1.7M759.0,1388.5h1.7M778.0,1362.5h1.7M759.0,1394.5h1.7M805.0,1373.5h1.7M804.0,1371.5h1.7M781.0,1380.5h1.7M743.0,1384.5h1.7M765.0,1346.5h1.7M754.0,1370.5h1.7M754.0,1368.5h1.7M757.0,1350.5h1.7M798.0,1381.5h1.7M782.0,1377.5h1.7M777.0,1377.5h1.7M747.0,1361.5h1.7M777.0,1393.5h1.7M781.0,1400.5h1.7M759.0,1395.5h1.7M818.0,1374.5h1.7M794.0,1377.5h1.7M749.0,1379.5h1.7M748.0,1399.5h1.7M790.0,1395.5h1.7M784.0,1350.5h1.7M796.0,1381.5h1.7M801.0,1401.5h1.7M749.0,1390.5h1.7M784.0,1378.5h1.7M768.0,1387.5h1.7M790.0,1388.5h1.7M765.0,1364.5h1.7M809.0,1396.5h1.7M761.0,1380.5h1.7M796.0,1358.5h1.7M782.0,1371.5h1.7M827.0,1380.5h1.7M780.0,1375.5h1.7M780.0,1358.5h1.7M742.0,1362.5h1.7M798.0,1379.5h1.7M804.0,1355.5h1.7M760.0,1398.5h1.7M755.0,1357.5h1.7M756.0,1376.5h1.7M775.0,1396.5h1.7M809.0,1399.5h1.7M790.0,1374.5h1.7M762.0,1362.5h1.7M808.0,1396.5h1.7M777.0,1369.5h1.7M792.0,1386.5h1.7M779.0,1366.5h1.7M781.0,1373.5h1.7M794.0,1387.5h1.7M786.0,1375.5h1.7M814.0,1390.5h1.7M807.0,1390.5h1.7M792.0,1385.5h1.7M748.0,1357.5h1.7M751.0,1388.5h1.7M798.0,1382.5h1.7M765.0,1358.5h1.7M793.0,1389.5h1.7M769.0,1390.5h1.7M774.0,1371.5h1.7M765.0,1389.5h1.7M799.0,1366.5h1.7M750.0,1382.5h1.7M829.0,1365.5h1.7M743.0,1385.5h1.7M788.0,1372.5h1.7M774.0,1386.5h1.7M790.0,1392.5h1.7M805.0,1379.5h1.7M795.0,1372.5h1.7M801.0,1393.5h1.7M771.0,1351.5h1.7M763.0,1371.5h1.7M754.0,1379.5h1.7M747.0,1385.5h1.7M823.0,1365.5h1.7M802.0,1373.5h1.7M789.0,1378.5h1.7M808.0,1371.5h1.7M794.0,1370.5h1.7M781.0,1380.5h1.7M803.0,1360.5h1.7M785.0,1401.5h1.7M749.0,1383.5h1.7M774.0,1374.5h1.7M793.0,1379.5h1.7M756.0,1390.5h1.7M810.0,1374.5h1.7M767.0,1385.5h1.7M804.0,1387.5h1.7M750.0,1373.5h1.7M802.0,1379.5h1.7M759.0,1391.5h1.7M748.0,1371.5h1.7M757.0,1384.5h1.7M763.0,1394.5h1.7M759.0,1377.5h1.7M789.0,1383.5h1.7M749.0,1399.5h1.7M790.0,1374.5h1.7M780.0,1366.5h1.7M744.0,1376.5h1.7M784.0,1381.5h1.7M755.0,1363.5h1.7M784.0,1370.5h1.7M805.0,1387.5h1.7M765.0,1372.5h1.7M804.0,1384.5h1.7M817.0,1385.5h1.7M760.0,1373.5h1.7M757.0,1383.5h1.7M781.0,1388.5h1.7M786.0,1367.5h1.7M770.0,1368.5h1.7M787.0,1364.5h1.7M760.0,1369.5h1.7M759.0,1377.5h1.7M813.0,1377.5h1.7M747.0,1289.5h1.7M794.0,1292.5h1.7M802.0,1290.5h1.7M804.0,1284.5h1.7M774.0,1286.5h1.7M742.0,1286.5h1.7M799.0,1290.5h1.7M781.0,1290.5h1.7M782.0,1289.5h1.7M757.0,1289.5h1.7M780.0,1286.5h1.7M743.0,1288.5h1.7M772.0,1290.5h1.7M780.0,1287.5h1.7M777.0,1290.5h1.7M781.0,1284.5h1.7M745.0,1293.5h1.7M771.0,1287.5h1.7M749.0,1289.5h1.7M776.0,1287.5h1.7M770.0,1294.5h1.7M795.0,1292.5h1.7M774.0,1284.5h1.7M805.0,1295.5h1.7M784.0,1292.5h1.7M778.0,1295.5h1.7M795.0,1289.5h1.7M778.0,1283.5h1.7M762.0,1289.5h1.7M830.0,1286.5h1.7M798.0,1290.5h1.7M772.0,1293.5h1.7M819.0,1291.5h1.7M777.0,1291.5h1.7M792.0,1288.5h1.7M781.0,1292.5h1.7M771.0,1292.5h1.7M785.0,1293.5h1.7M757.0,1288.5h1.7M769.0,1295.5h1.7M783.0,1283.5h1.7M785.0,1284.5h1.7M759.0,1291.5h1.7M808.0,1297.5h1.7M770.0,1289.5h1.7M819.0,1286.5h1.7M811.0,1291.5h1.7M788.0,1286.5h1.7M745.0,1290.5h1.7M795.0,1291.5h1.7M787.0,1292.5h1.7M765.0,1290.5h1.7M781.0,1288.5h1.7M747.0,1284.5h1.7M789.0,1292.5h1.7M780.0,1285.5h1.7M796.0,1288.5h1.7M789.0,1288.5h1.7M810.0,1296.5h1.7M784.0,1283.5h1.7M770.0,1289.5h1.7M788.0,1289.5h1.7M785.0,1283.5h1.7M747.0,1294.5h1.7M827.0,1293.5h1.7M748.0,1295.5h1.7M769.0,1295.5h1.7M803.0,1291.5h1.7M816.0,1294.5h1.7M768.0,1286.5h1.7M831.0,1288.5h1.7M787.0,1289.5h1.7M768.0,1283.5h1.7M775.0,1290.5h1.7M799.0,1288.5h1.7M745.0,1285.5h1.7M777.0,1291.5h1.7M793.0,1288.5h1.7M790.0,1291.5h1.7M814.0,1290.5h1.7M781.0,1292.5h1.7M804.0,1286.5h1.7M768.0,1289.5h1.7M801.0,1290.5h1.7M850.0,1296.5h1.7M821.0,1297.5h1.7M797.0,1284.5h1.7M811.0,1292.5h1.7M752.0,1290.5h1.7M794.0,1294.5h1.7M782.0,1288.5h1.7M794.0,1287.5h1.7M776.0,1293.5h1.7M747.0,1292.5h1.7M752.0,1290.5h1.7M793.0,1290.5h1.7M798.0,1290.5h1.7M774.0,1292.5h1.7M773.0,1291.5h1.7M800.0,1288.5h1.7M803.0,1285.5h1.7M773.0,1282.5h1.7M747.0,1286.5h1.7M788.0,1294.5h1.7M796.0,1283.5h1.7M789.0,1290.5h1.7M781.0,1292.5h1.7M772.0,1283.5h1.7M755.0,1284.5h1.7M750.0,1289.5h1.7M806.0,1287.5h1.7M762.0,1285.5h1.7M768.0,1289.5h1.7M757.0,1292.5h1.7M752.0,1292.5h1.7M764.0,1293.5h1.7M759.0,1292.5h1.7M787.0,1290.5h1.7M813.0,1291.5h1.7M759.0,1293.5h1.7M760.0,1288.5h1.7M778.0,1291.5h1.7M815.0,1282.5h1.7M772.0,1295.5h1.7M775.0,1291.5h1.7M811.0,1285.5h1.7M779.0,1293.5h1.7M765.0,1282.5h1.7M757.0,1291.5h1.7M806.0,1283.5h1.7M800.0,1294.5h1.7M813.0,1289.5h1.7M766.0,1291.5h1.7M811.0,1293.5h1.7M814.0,1293.5h1.7M765.0,1286.5h1.7M818.0,1283.5h1.7M771.0,1289.5h1.7M758.0,1288.5h1.7M777.0,1288.5h1.7M781.0,1294.5h1.7M761.0,1288.5h1.7M797.0,1289.5h1.7M770.0,1289.5h1.7M752.0,1293.5h1.7M765.0,1287.5h1.7M789.0,1290.5h1.7M765.0,1289.5h1.7M799.0,1287.5h1.7M788.0,1293.5h1.7M785.0,1293.5h1.7M788.0,1292.5h1.7M767.0,1294.5h1.7M779.0,1285.5h1.7M756.0,1291.5h1.7M785.0,1280.5h1.7M745.0,1289.5h1.7M765.0,1292.5h1.7M808.0,1297.5h1.7M756.0,1295.5h1.7M752.0,1291.5h1.7M782.0,1293.5h1.7M777.0,1290.5h1.7M772.0,1285.5h1.7M793.0,1291.5h1.7M759.0,1289.5h1.7M778.0,1294.5h1.7M774.0,1294.5h1.7M788.0,1282.5h1.7M763.0,1281.5h1.7M719.0,1282.5h1.7M728.0,1284.5h1.7M728.0,1279.5h1.7M715.0,1284.5h1.7M739.0,1282.5h1.7M720.0,1284.5h1.7M730.0,1283.5h1.7M725.0,1282.5h1.7M717.0,1280.5h1.7M728.0,1281.5h1.7M727.0,1284.5h1.7M732.0,1274.5h1.7M713.0,1279.5h1.7M747.0,1288.5h1.7M735.0,1284.5h1.7M701.0,1286.5h1.7M712.0,1279.5h1.7M716.0,1283.5h1.7M725.0,1282.5h1.7M725.0,1285.5h1.7M711.0,1283.5h1.7M707.0,1281.5h1.7M731.0,1281.5h1.7M740.0,1285.5h1.7M731.0,1283.5h1.7M730.0,1287.5h1.7M723.0,1281.5h1.7M720.0,1281.5h1.7M715.0,1277.5h1.7M717.0,1284.5h1.7M717.0,1280.5h1.7M726.0,1285.5h1.7M718.0,1284.5h1.7M712.0,1286.5h1.7M712.0,1282.5h1.7M723.0,1282.5h1.7M737.0,1277.5h1.7M723.0,1279.5h1.7M725.0,1279.5h1.7M728.0,1285.5h1.7M739.0,1287.5h1.7M718.0,1283.5h1.7M717.0,1277.5h1.7M728.0,1276.5h1.7M723.0,1278.5h1.7M716.0,1285.5h1.7M733.0,1288.5h1.7M704.0,1285.5h1.7M706.0,1283.5h1.7M729.0,1281.5h1.7M718.0,1280.5h1.7M733.0,1278.5h1.7M713.0,1282.5h1.7M725.0,1280.5h1.7M728.0,1284.5h1.7M725.0,1283.5h1.7M727.0,1279.5h1.7M710.0,1282.5h1.7M711.0,1285.5h1.7M741.0,1287.5h1.7M726.0,1284.5h1.7M715.0,1279.5h1.7M727.0,1278.5h1.7M725.0,1283.5h1.7M729.0,1283.5h1.7M723.0,1281.5h1.7M705.0,1282.5h1.7M729.0,1287.5h1.7M735.0,1280.5h1.7M713.0,1285.5h1.7M725.0,1278.5h1.7M704.0,1284.5h1.7M708.0,1288.5h1.7M718.0,1279.5h1.7M705.0,1281.5h1.7M697.0,1281.5h1.7M743.0,1283.5h1.7M719.0,1279.5h1.7M725.0,1281.5h1.7M726.0,1280.5h1.7M736.0,1283.5h1.7M727.0,1284.5h1.7M734.0,1285.5h1.7M718.0,1283.5h1.7M738.0,1279.5h1.7M712.0,1282.5h1.7M706.0,1291.5h1.7M737.0,1281.5h1.7M724.0,1282.5h1.7M729.0,1285.5h1.7M729.0,1286.5h1.7M741.0,1282.5h1.7M729.0,1282.5h1.7M722.0,1284.5h1.7M721.0,1284.5h1.7M714.0,1282.5h1.7M716.0,1279.5h1.7M715.0,1281.5h1.7M721.0,1278.5h1.7M719.0,1279.5h1.7M714.0,1284.5h1.7M733.0,1284.5h1.7M717.0,1282.5h1.7M735.0,1277.5h1.7M733.0,1278.5h1.7M716.0,1283.5h1.7M727.0,1283.5h1.7M731.0,1283.5h1.7M737.0,1287.5h1.7M711.0,1290.5h1.7M699.0,1348.5h1.7M703.0,1386.5h1.7M696.0,1306.5h1.7M699.0,1261.5h1.7M694.0,1393.5h1.7M694.0,1317.5h1.7M700.0,1335.5h1.7M698.0,1322.5h1.7M695.0,1304.5h1.7M700.0,1374.5h1.7M698.0,1353.5h1.7M700.0,1368.5h1.7M699.0,1321.5h1.7M701.0,1326.5h1.7M699.0,1309.5h1.7M701.0,1338.5h1.7M696.0,1341.5h1.7M698.0,1326.5h1.7M693.0,1322.5h1.7M700.0,1295.5h1.7M701.0,1309.5h1.7M695.0,1313.5h1.7M702.0,1375.5h1.7M699.0,1324.5h1.7M701.0,1353.5h1.7M698.0,1316.5h1.7M701.0,1330.5h1.7M700.0,1318.5h1.7M700.0,1374.5h1.7M703.0,1292.5h1.7M700.0,1332.5h1.7M700.0,1298.5h1.7M700.0,1333.5h1.7M698.0,1337.5h1.7M694.0,1295.5h1.7M700.0,1339.5h1.7M700.0,1319.5h1.7M700.0,1355.5h1.7M699.0,1355.5h1.7M701.0,1351.5h1.7M699.0,1310.5h1.7M700.0,1315.5h1.7M703.0,1350.5h1.7M695.0,1346.5h1.7M703.0,1354.5h1.7M699.0,1310.5h1.7M702.0,1354.5h1.7M700.0,1303.5h1.7M696.0,1336.5h1.7M698.0,1314.5h1.7M701.0,1355.5h1.7M695.0,1314.5h1.7M699.0,1345.5h1.7M697.0,1301.5h1.7M700.0,1367.5h1.7M697.0,1291.5h1.7M701.0,1351.5h1.7M701.0,1329.5h1.7M699.0,1356.5h1.7M700.0,1296.5h1.7M701.0,1330.5h1.7M699.0,1318.5h1.7M702.0,1311.5h1.7M698.0,1309.5h1.7M700.0,1372.5h1.7M698.0,1375.5h1.7M699.0,1330.5h1.7M699.0,1361.5h1.7M700.0,1319.5h1.7M700.0,1307.5h1.7M697.0,1326.5h1.7M693.0,1358.5h1.7M700.0,1293.5h1.7M700.0,1335.5h1.7M702.0,1299.5h1.7M699.0,1315.5h1.7M699.0,1384.5h1.7M700.0,1329.5h1.7M699.0,1349.5h1.7M706.0,1357.5h1.7M703.0,1355.5h1.7M702.0,1291.5h1.7M700.0,1318.5h1.7M701.0,1331.5h1.7M703.0,1292.5h1.7M698.0,1328.5h1.7M701.0,1320.5h1.7M700.0,1331.5h1.7M701.0,1287.5h1.7M694.0,1296.5h1.7M725.0,1382.5h1.7M723.0,1374.5h1.7M721.0,1393.5h1.7M725.0,1383.5h1.7M720.0,1385.5h1.7M730.0,1383.5h1.7M721.0,1369.5h1.7M724.0,1372.5h1.7M715.0,1393.5h1.7M722.0,1367.5h1.7M716.0,1391.5h1.7M725.0,1386.5h1.7M722.0,1389.5h1.7M732.0,1389.5h1.7M722.0,1367.5h1.7M726.0,1401.5h1.7M727.0,1368.5h1.7M724.0,1398.5h1.7M719.0,1389.5h1.7M725.0,1391.5h1.7M721.0,1383.5h1.7M721.0,1397.5h1.7M710.0,1386.5h1.7M715.0,1375.5h1.7M714.0,1372.5h1.7M723.0,1383.5h1.7M734.0,1380.5h1.7M725.0,1387.5h1.7M725.0,1400.5h1.7M724.0,1385.5h1.7M722.0,1383.5h1.7M723.0,1395.5h1.7M723.0,1384.5h1.7M723.0,1392.5h1.7M720.0,1394.5h1.7M720.0,1391.5h1.7M734.0,1386.5h1.7M722.0,1369.5h1.7M727.0,1383.5h1.7M728.0,1375.5h1.7M725.0,1379.5h1.7M715.0,1383.5h1.7M727.0,1390.5h1.7M716.0,1371.5h1.7M717.0,1371.5h1.7M721.0,1386.5h1.7M734.0,1385.5h1.7M732.0,1363.5h1.7M732.0,1392.5h1.7M726.0,1393.5h1.7M723.0,1399.5h1.7M721.0,1375.5h1.7M721.0,1387.5h1.7M724.0,1376.5h1.7M726.0,1390.5h1.7M718.0,1370.5h1.7M711.0,1379.5h1.7M723.0,1375.5h1.7M719.0,1381.5h1.7M723.0,1390.5h1.7M728.0,1388.5h1.7M730.0,1372.5h1.7M727.0,1387.5h1.7M717.0,1375.5h1.7M726.0,1384.5h1.7M716.0,1376.5h1.7M732.0,1393.5h1.7M723.0,1399.5h1.7M718.0,1381.5h1.7M729.0,1379.5h1.7M716.0,1390.5h1.7M724.0,1368.5h1.7M738.0,1375.5h1.7M723.0,1375.5h1.7M717.0,1378.5h1.7M725.0,1402.5h1.7M717.0,1384.5h1.7M724.0,1374.5h1.7M720.0,1371.5h1.7M729.0,1378.5h1.7M722.0,1385.5h1.7M716.0,1386.5h1.7M722.0,1388.5h1.7M721.0,1383.5h1.7M726.0,1394.5h1.7M719.0,1395.5h1.7M717.0,1381.5h1.7M724.0,1385.5h1.7M708.0,1371.5h1.7M722.0,1394.5h1.7M719.0,1401.5h1.7M712.0,1384.5h1.7M726.0,1383.5h1.7M725.0,1394.5h1.7M718.0,1390.5h1.7M729.0,1380.5h1.7M709.0,1369.5h1.7M718.0,1370.5h1.7M726.0,1373.5h1.7M738.0,1390.5h1.7M715.0,1380.5h1.7M732.0,1391.5h1.7M717.0,1395.5h1.7M720.0,1390.5h1.7M726.0,1378.5h1.7M722.0,1397.5h1.7M726.0,1382.5h1.7M729.0,1389.5h1.7M724.0,1377.5h1.7M727.0,1376.5h1.7M726.0,1371.5h1.7M728.0,1374.5h1.7M723.0,1390.5h1.7M721.0,1383.5h1.7M712.0,1372.5h1.7M727.0,1394.5h1.7M720.0,1384.5h1.7M722.0,1369.5h1.7M714.0,1368.5h1.7M731.0,1378.5h1.7M735.0,1391.5h1.7M725.0,1391.5h1.7M728.0,1394.5h1.7M717.0,1376.5h1.7M720.0,1384.5h1.7M722.0,1368.5h1.7M736.0,1373.5h1.7M725.0,1383.5h1.7M718.0,1391.5h1.7M726.0,1379.5h1.7M707.0,1382.5h1.7M728.0,1375.5h1.7M728.0,1391.5h1.7M713.0,1381.5h1.7M725.0,1392.5h1.7M724.0,1383.5h1.7M721.0,1380.5h1.7M723.0,1370.5h1.7M727.0,1379.5h1.7M726.0,1377.5h1.7M725.0,1385.5h1.7M728.0,1388.5h1.7M729.0,1381.5h1.7M723.0,1380.5h1.7M716.0,1382.5h1.7M729.0,1392.5h1.7M718.0,1387.5h1.7M727.0,1367.5h1.7M725.0,1387.5h1.7M727.0,1386.5h1.7M735.0,1378.5h1.7M731.0,1398.5h1.7M724.0,1369.5h1.7M731.0,1383.5h1.7M726.0,1389.5h1.7M729.0,1395.5h1.7M715.0,1366.5h1.7M724.0,1383.5h1.7M728.0,1381.5h1.7M731.0,1397.5h1.7M729.0,1374.5h1.7M722.0,1382.5h1.7M717.0,1373.5h1.7M724.0,1369.5h1.7M726.0,1389.5h1.7M722.0,1379.5h1.7M727.0,1389.5h1.7M725.0,1369.5h1.7M719.0,1379.5h1.7M712.0,1374.5h1.7M719.0,1392.5h1.7M707.0,1366.5h1.7M721.0,1377.5h1.7M718.0,1378.5h1.7M714.0,1386.5h1.7M730.0,1385.5h1.7M720.0,1398.5h1.7M726.0,1371.5h1.7M720.0,1376.5h1.7M723.0,1397.5h1.7M719.0,1381.5h1.7M724.0,1369.5h1.7M720.0,1390.5h1.7M727.0,1380.5h1.7M731.0,1390.5h1.7M735.0,1387.5h1.7M721.0,1373.5h1.7M715.0,1390.5h1.7M726.0,1393.5h1.7M721.0,1380.5h1.7M724.0,1392.5h1.7M731.0,1386.5h1.7M711.0,1371.5h1.7M710.0,1374.5h1.7M716.0,1386.5h1.7M722.0,1396.5h1.7M729.0,1378.5h1.7M729.0,1383.5h1.7M726.0,1399.5h1.7M716.0,1382.5h1.7M732.0,1374.5h1.7M724.0,1385.5h1.7M721.0,1368.5h1.7M719.0,1371.5h1.7M729.0,1386.5h1.7M727.0,1369.5h1.7M726.0,1385.5h1.7M729.0,1375.5h1.7M728.0,1399.5h1.7M734.0,1372.5h1.7M716.0,1366.5h1.7M729.0,1390.5h1.7M725.0,1373.5h1.7M730.0,1402.5h1.7M723.0,1382.5h1.7M730.0,1389.5h1.7M731.0,1378.5h1.7M725.0,1379.5h1.7M720.0,1380.5h1.7M721.0,1389.5h1.7M721.0,1384.5h1.7M718.0,1369.5h1.7M731.0,1371.5h1.7M734.0,1394.5h1.7M709.0,1375.5h1.7M721.0,1383.5h1.7M722.0,1376.5h1.7M730.0,1382.5h1.7M729.0,1375.5h1.7M719.0,1399.5h1.7M721.0,1370.5h1.7M722.0,1395.5h1.7M722.0,1375.5h1.7M727.0,1395.5h1.7M722.0,1379.5h1.7M722.0,1388.5h1.7M711.0,1385.5h1.7M723.0,1379.5h1.7M721.0,1367.5h1.7M714.0,1385.5h1.7M719.0,1382.5h1.7M722.0,1377.5h1.7M716.0,1377.5h1.7M721.0,1369.5h1.7M717.0,1393.5h1.7M729.0,1385.5h1.7M730.0,1373.5h1.7M718.0,1370.5h1.7M723.0,1374.5h1.7M727.0,1370.5h1.7M723.0,1395.5h1.7M721.0,1387.5h1.7M729.0,1370.5h1.7M715.0,1384.5h1.7M725.0,1380.5h1.7M717.0,1397.5h1.7M716.0,1380.5h1.7M723.0,1392.5h1.7M720.0,1373.5h1.7M735.0,1373.5h1.7M728.0,1381.5h1.7M720.0,1382.5h1.7M722.0,1387.5h1.7M708.0,1383.5h1.7M723.0,1372.5h1.7M734.0,1391.5h1.7M724.0,1379.5h1.7M731.0,1378.5h1.7M718.0,1391.5h1.7M717.0,1374.5h1.7M732.0,1364.5h1.7M723.0,1384.5h1.7M725.0,1366.5h1.7M722.0,1379.5h1.7M734.0,1395.5h1.7M719.0,1393.5h1.7M727.0,1382.5h1.7M722.0,1380.5h1.7M714.0,1376.5h1.7M729.0,1400.5h1.7M734.0,1379.5h1.7M721.0,1368.5h1.7M728.0,1364.5h1.7M717.0,1370.5h1.7M725.0,1393.5h1.7M724.0,1373.5h1.7M725.0,1383.5h1.7M728.0,1387.5h1.7M736.0,1397.5h1.7M719.0,1392.5h1.7M728.0,1371.5h1.7M719.0,1374.5h1.7M708.0,1390.5h1.7M722.0,1397.5h1.7M720.0,1384.5h1.7M727.0,1394.5h1.7M725.0,1371.5h1.7M736.0,1393.5h1.7M731.0,1402.5h1.7M731.0,1388.5h1.7M726.0,1390.5h1.7M714.0,1393.5h1.7M717.0,1388.5h1.7M717.0,1391.5h1.7M724.0,1389.5h1.7M718.0,1380.5h1.7M723.0,1380.5h1.7M720.0,1373.5h1.7M728.0,1379.5h1.7M718.0,1387.5h1.7M718.0,1381.5h1.7M720.0,1372.5h1.7M722.0,1373.5h1.7M716.0,1387.5h1.7M721.0,1385.5h1.7M726.0,1387.5h1.7M725.0,1390.5h1.7M720.0,1374.5h1.7M727.0,1378.5h1.7M723.0,1391.5h1.7M729.0,1397.5h1.7M719.0,1379.5h1.7M726.0,1366.5h1.7M716.0,1390.5h1.7M719.0,1372.5h1.7M728.0,1389.5h1.7M728.0,1379.5h1.7M721.0,1379.5h1.7M719.0,1391.5h1.7M718.0,1382.5h1.7M766.0,1425.5h1.7M749.0,1413.5h1.7M831.0,1416.5h1.7M809.0,1409.5h1.7M765.0,1420.5h1.7M814.0,1435.5h1.7M789.0,1414.5h1.7M740.0,1416.5h1.7M748.0,1423.5h1.7M741.0,1419.5h1.7M803.0,1431.5h1.7M711.0,1415.5h1.7M752.0,1430.5h1.7M772.0,1431.5h1.7M739.0,1419.5h1.7M790.0,1425.5h1.7M711.0,1419.5h1.7M767.0,1425.5h1.7M745.0,1433.5h1.7M766.0,1431.5h1.7M773.0,1422.5h1.7M753.0,1413.5h1.7M786.0,1426.5h1.7M788.0,1418.5h1.7M735.0,1418.5h1.7M754.0,1421.5h1.7M789.0,1415.5h1.7M749.0,1426.5h1.7M777.0,1415.5h1.7M734.0,1416.5h1.7M764.0,1423.5h1.7M760.0,1417.5h1.7M757.0,1420.5h1.7M779.0,1422.5h1.7M740.0,1413.5h1.7M803.0,1420.5h1.7M757.0,1421.5h1.7M793.0,1419.5h1.7M767.0,1419.5h1.7M778.0,1414.5h1.7M768.0,1428.5h1.7M795.0,1425.5h1.7M770.0,1432.5h1.7M782.0,1431.5h1.7M729.0,1414.5h1.7M784.0,1419.5h1.7M750.0,1415.5h1.7M803.0,1413.5h1.7M765.0,1412.5h1.7M829.0,1418.5h1.7M735.0,1432.5h1.7M739.0,1409.5h1.7M772.0,1414.5h1.7M742.0,1414.5h1.7M767.0,1420.5h1.7M793.0,1422.5h1.7M806.0,1429.5h1.7M811.0,1429.5h1.7M764.0,1425.5h1.7M763.0,1410.5h1.7M730.0,1426.5h1.7M698.0,1415.5h1.7M727.0,1421.5h1.7M734.0,1423.5h1.7M757.0,1418.5h1.7M739.0,1406.5h1.7M764.0,1412.5h1.7M754.0,1424.5h1.7M791.0,1426.5h1.7M803.0,1411.5h1.7M781.0,1432.5h1.7M773.0,1414.5h1.7M773.0,1418.5h1.7M745.0,1428.5h1.7M758.0,1413.5h1.7M739.0,1426.5h1.7M767.0,1429.5h1.7M755.0,1415.5h1.7M745.0,1414.5h1.7M834.0,1422.5h1.7M754.0,1430.5h1.7M780.0,1420.5h1.7M779.0,1423.5h1.7M793.0,1432.5h1.7M754.0,1421.5h1.7M757.0,1429.5h1.7M773.0,1426.5h1.7M787.0,1417.5h1.7M766.0,1430.5h1.7M788.0,1427.5h1.7M755.0,1419.5h1.7M739.0,1419.5h1.7M761.0,1411.5h1.7M794.0,1416.5h1.7M769.0,1425.5h1.7M747.0,1409.5h1.7M789.0,1424.5h1.7M756.0,1429.5h1.7M787.0,1415.5h1.7M760.0,1409.5h1.7M755.0,1431.5h1.7M740.0,1427.5h1.7M721.0,1419.5h1.7M788.0,1433.5h1.7M775.0,1426.5h1.7M830.0,1425.5h1.7M764.0,1423.5h1.7M763.0,1417.5h1.7M762.0,1420.5h1.7M781.0,1426.5h1.7M789.0,1425.5h1.7M736.0,1430.5h1.7M689.0,1422.5h1.7M772.0,1417.5h1.7M814.0,1414.5h1.7M731.0,1418.5h1.7M774.0,1426.5h1.7M765.0,1426.5h1.7M743.0,1417.5h1.7M766.0,1412.5h1.7M768.0,1418.5h1.7M781.0,1414.5h1.7M748.0,1417.5h1.7M752.0,1414.5h1.7M755.0,1412.5h1.7M777.0,1426.5h1.7M762.0,1420.5h1.7M738.0,1415.5h1.7M757.0,1415.5h1.7M730.0,1422.5h1.7M762.0,1418.5h1.7M740.0,1421.5h1.7M744.0,1418.5h1.7M768.0,1426.5h1.7M783.0,1417.5h1.7M795.0,1413.5h1.7M758.0,1430.5h1.7M827.0,1422.5h1.7M753.0,1418.5h1.7M729.0,1420.5h1.7M751.0,1416.5h1.7M795.0,1416.5h1.7M808.0,1427.5h1.7M780.0,1417.5h1.7M749.0,1408.5h1.7M770.0,1419.5h1.7M773.0,1416.5h1.7M776.0,1411.5h1.7M703.0,1424.5h1.7M797.0,1419.5h1.7M817.0,1442.5h1.7M811.0,1460.5h1.7M813.0,1454.5h1.7M817.0,1469.5h1.7M825.0,1444.5h1.7M815.0,1445.5h1.7M808.0,1449.5h1.7M826.0,1454.5h1.7M823.0,1453.5h1.7M815.0,1455.5h1.7M818.0,1469.5h1.7M831.0,1457.5h1.7M822.0,1439.5h1.7M817.0,1473.5h1.7M812.0,1460.5h1.7M827.0,1451.5h1.7M816.0,1450.5h1.7M824.0,1454.5h1.7M829.0,1463.5h1.7M818.0,1474.5h1.7M816.0,1449.5h1.7M816.0,1447.5h1.7M815.0,1453.5h1.7M825.0,1442.5h1.7M808.0,1448.5h1.7M816.0,1458.5h1.7M812.0,1466.5h1.7M814.0,1452.5h1.7M818.0,1463.5h1.7M820.0,1454.5h1.7M814.0,1455.5h1.7M821.0,1451.5h1.7M818.0,1440.5h1.7M814.0,1463.5h1.7M828.0,1453.5h1.7M817.0,1474.5h1.7M815.0,1462.5h1.7M814.0,1465.5h1.7M826.0,1446.5h1.7M827.0,1476.5h1.7M816.0,1445.5h1.7M820.0,1451.5h1.7M807.0,1446.5h1.7M820.0,1442.5h1.7M826.0,1457.5h1.7M817.0,1465.5h1.7M811.0,1459.5h1.7M808.0,1451.5h1.7M823.0,1450.5h1.7M817.0,1459.5h1.7M829.0,1464.5h1.7M821.0,1452.5h1.7M808.0,1467.5h1.7M832.0,1437.5h1.7M824.0,1454.5h1.7M823.0,1456.5h1.7M817.0,1454.5h1.7M818.0,1463.5h1.7M816.0,1450.5h1.7M823.0,1459.5h1.7M821.0,1456.5h1.7M829.0,1463.5h1.7M820.0,1452.5h1.7M823.0,1439.5h1.7M814.0,1449.5h1.7M819.0,1451.5h1.7M836.0,1460.5h1.7M821.0,1471.5h1.7M818.0,1452.5h1.7M827.0,1460.5h1.7M825.0,1463.5h1.7M815.0,1449.5h1.7M813.0,1455.5h1.7M825.0,1446.5h1.7M814.0,1444.5h1.7M833.0,1460.5h1.7M820.0,1445.5h1.7M811.0,1449.5h1.7M818.0,1444.5h1.7M816.0,1463.5h1.7M818.0,1455.5h1.7M817.0,1449.5h1.7M808.0,1453.5h1.7M811.0,1450.5h1.7M825.0,1447.5h1.7M820.0,1442.5h1.7M822.0,1458.5h1.7M815.0,1461.5h1.7M812.0,1454.5h1.7M830.0,1454.5h1.7M810.0,1463.5h1.7M822.0,1452.5h1.7M805.0,1439.5h1.7M807.0,1466.5h1.7M820.0,1447.5h1.7M826.0,1465.5h1.7M812.0,1458.5h1.7M831.0,1443.5h1.7M818.0,1449.5h1.7M817.0,1455.5h1.7M820.0,1461.5h1.7M822.0,1462.5h1.7M825.0,1463.5h1.7M813.0,1457.5h1.7M815.0,1447.5h1.7M832.0,1456.5h1.7M818.0,1438.5h1.7M816.0,1460.5h1.7M817.0,1450.5h1.7M829.0,1452.5h1.7M816.0,1453.5h1.7M816.0,1462.5h1.7M822.0,1453.5h1.7M815.0,1452.5h1.7M830.0,1452.5h1.7M823.0,1442.5h1.7M820.0,1459.5h1.7M827.0,1456.5h1.7M822.0,1457.5h1.7M826.0,1470.5h1.7M820.0,1448.5h1.7M822.0,1453.5h1.7M823.0,1460.5h1.7M819.0,1451.5h1.7M820.0,1444.5h1.7M820.0,1447.5h1.7M821.0,1455.5h1.7M817.0,1445.5h1.7M818.0,1449.5h1.7M817.0,1459.5h1.7M825.0,1444.5h1.7M825.0,1465.5h1.7M826.0,1456.5h1.7M817.0,1468.5h1.7M816.0,1442.5h1.7M819.0,1456.5h1.7M811.0,1445.5h1.7M832.0,1455.5h1.7M824.0,1449.5h1.7M828.0,1449.5h1.7M816.0,1454.5h1.7M811.0,1452.5h1.7M814.0,1461.5h1.7M819.0,1461.5h1.7M818.0,1437.5h1.7M824.0,1461.5h1.7M818.0,1440.5h1.7M815.0,1457.5h1.7M828.0,1451.5h1.7M814.0,1448.5h1.7M825.0,1461.5h1.7M811.0,1443.5h1.7M835.0,1474.5h1.7M809.0,1449.5h1.7M819.0,1457.5h1.7M815.0,1442.5h1.7M815.0,1449.5h1.7M808.0,1440.5h1.7M829.0,1461.5h1.7M828.0,1455.5h1.7M815.0,1453.5h1.7M808.0,1460.5h1.7M820.0,1452.5h1.7M830.0,1465.5h1.7M824.0,1451.5h1.7M819.0,1458.5h1.7M819.0,1462.5h1.7M813.0,1436.5h1.7M808.0,1459.5h1.7M826.0,1454.5h1.7M822.0,1455.5h1.7M819.0,1450.5h1.7M815.0,1463.5h1.7M816.0,1454.5h1.7M827.0,1462.5h1.7M815.0,1456.5h1.7M811.0,1455.5h1.7M820.0,1454.5h1.7M819.0,1457.5h1.7M819.0,1450.5h1.7M811.0,1452.5h1.7M830.0,1452.5h1.7M813.0,1450.5h1.7M810.0,1458.5h1.7M811.0,1461.5h1.7M825.0,1458.5h1.7M826.0,1453.5h1.7M823.0,1442.5h1.7M809.0,1463.5h1.7M821.0,1465.5h1.7M823.0,1455.5h1.7M821.0,1461.5h1.7M818.0,1452.5h1.7M820.0,1452.5h1.7M835.0,1448.5h1.7M807.0,1444.5h1.7M826.0,1451.5h1.7M819.0,1452.5h1.7M820.0,1443.5h1.7M819.0,1450.5h1.7M826.0,1459.5h1.7M809.0,1446.5h1.7M822.0,1463.5h1.7M824.0,1453.5h1.7M826.0,1436.5h1.7M814.0,1446.5h1.7M811.0,1458.5h1.7M820.0,1456.5h1.7M817.0,1459.5h1.7M824.0,1450.5h1.7M825.0,1447.5h1.7M831.0,1444.5h1.7M816.0,1446.5h1.7M818.0,1464.5h1.7M813.0,1468.5h1.7M828.0,1457.5h1.7M814.0,1461.5h1.7M825.0,1454.5h1.7M836.0,1449.5h1.7M808.0,1452.5h1.7M822.0,1467.5h1.7M827.0,1449.5h1.7M815.0,1445.5h1.7M824.0,1461.5h1.7M822.0,1456.5h1.7M825.0,1453.5h1.7M823.0,1460.5h1.7M828.0,1458.5h1.7M819.0,1460.5h1.7M807.0,1440.5h1.7M685.0,1448.5h1.7M689.0,1456.5h1.7M686.0,1467.5h1.7M682.0,1488.5h1.7M685.0,1475.5h1.7M693.0,1435.5h1.7M684.0,1456.5h1.7M691.0,1450.5h1.7M690.0,1457.5h1.7M685.0,1456.5h1.7M685.0,1463.5h1.7M687.0,1454.5h1.7M691.0,1453.5h1.7M692.0,1468.5h1.7M693.0,1455.5h1.7M689.0,1476.5h1.7M684.0,1479.5h1.7M686.0,1477.5h1.7M700.0,1434.5h1.7M691.0,1451.5h1.7M687.0,1456.5h1.7M693.0,1461.5h1.7M689.0,1439.5h1.7M693.0,1462.5h1.7M690.0,1441.5h1.7M691.0,1464.5h1.7M693.0,1471.5h1.7M685.0,1447.5h1.7M691.0,1440.5h1.7M687.0,1471.5h1.7M692.0,1454.5h1.7M687.0,1456.5h1.7M690.0,1442.5h1.7M694.0,1440.5h1.7M679.0,1437.5h1.7M691.0,1445.5h1.7M699.0,1471.5h1.7M690.0,1439.5h1.7M690.0,1460.5h1.7M690.0,1442.5h1.7M695.0,1466.5h1.7M690.0,1464.5h1.7M695.0,1443.5h1.7M690.0,1433.5h1.7M685.0,1460.5h1.7M686.0,1460.5h1.7M692.0,1430.5h1.7M688.0,1473.5h1.7M690.0,1456.5h1.7M687.0,1436.5h1.7M666.0,1499.5h1.7M750.0,1350.5h1.7M844.0,1453.5h1.7M716.0,1398.5h1.7M707.0,1419.5h1.7M711.0,1379.5h1.7M839.0,1406.5h1.7M666.0,1433.5h1.7M791.0,1387.5h1.7M836.0,1391.5h1.7M717.0,1381.5h1.7M755.0,1384.5h1.7M910.0,1408.5h1.7M777.0,1375.5h1.7M648.0,1367.5h1.7M670.0,1311.5h1.7M843.0,1435.5h1.7M800.0,1284.5h1.7M762.0,1345.5h1.7M656.0,1375.5h1.7M830.0,1403.5h1.7M673.0,1359.5h1.7M755.0,1346.5h1.7M710.0,1421.5h1.7M646.0,1393.5h1.7M754.0,1418.5h1.7M692.0,1421.5h1.7M854.0,1476.5h1.7M663.0,1384.5h1.7M748.0,1390.5h1.7M701.0,1419.5h1.7M902.0,1445.5h1.7M703.0,1362.5h1.7M804.0,1390.5h1.7M792.0,1426.5h1.7M836.0,1414.5h1.7M659.0,1392.5h1.7M812.0,1371.5h1.7M786.0,1362.5h1.7M756.0,1382.5h1.7M843.0,1273.5h1.7M663.0,1443.5h1.7M855.0,1459.5h1.7M722.0,1482.5h1.7M866.0,1453.5h1.7M838.0,1461.5h1.7M873.0,1302.5h1.7M883.0,1444.5h1.7" stroke="#3a3a3a" stroke-width="1.7" fill="none"/>
<path d="M720.8,1285.3C724.2,1285.4 729.0,1286.3 732.4,1287.8C735.7,1289.3 736.2,1293.3 741.0,1294.4C745.9,1295.6 754.3,1293.4 761.3,1294.7C768.3,1296.0 777.0,1299.4 783.0,1302.3C789.0,1305.2 793.9,1308.5 797.5,1312.1C801.1,1315.7 804.4,1320.1 804.7,1323.7C805.1,1327.3 802.1,1331.6 799.7,1333.8C797.2,1336.0 796.6,1336.2 790.2,1336.7C783.9,1337.2 768.3,1336.2 761.3,1336.7C754.3,1337.2 751.6,1338.2 748.3,1339.9C744.9,1341.6 743.1,1343.7 741.3,1346.8C739.5,1349.9 739.3,1355.3 737.4,1358.4C735.6,1361.5 732.7,1363.9 730.2,1365.4C727.7,1366.8 725.0,1367.8 722.2,1367.1C719.5,1366.4 716.4,1364.7 713.8,1361.3C711.2,1357.9 708.5,1352.4 706.6,1346.8C704.7,1341.3 703.2,1334.0 702.3,1328.0C701.4,1322.0 700.9,1316.0 701.2,1310.7C701.6,1305.3 702.8,1300.0 704.6,1296.2C706.4,1292.3 709.4,1289.3 712.1,1287.5C714.8,1285.7 717.4,1285.3 720.8,1285.3Z" fill="#fff" stroke="#231f20" stroke-width="1.75" stroke-linejoin="round"/>
<path d="M720.8,1288.4C723.8,1288.5 728.5,1289.1 731.6,1290.7C734.7,1292.3 736.8,1296.0 739.3,1297.9C741.8,1299.8 743.2,1301.7 746.8,1302.0C750.5,1302.3 756.2,1299.3 761.3,1299.8C766.4,1300.3 772.9,1302.9 777.2,1305.2C781.6,1307.4 785.1,1310.9 787.4,1313.5C789.6,1316.2 790.5,1318.9 790.5,1320.8C790.5,1322.7 792.2,1324.3 787.4,1325.1C782.5,1326.0 767.8,1325.6 761.3,1325.8C754.8,1326.1 751.6,1325.8 748.3,1326.9C744.9,1327.9 742.9,1329.0 741.3,1332.4C739.8,1335.7 739.9,1342.5 738.9,1346.8C737.9,1351.2 736.9,1355.7 735.3,1358.4C733.6,1361.2 731.3,1362.4 729.2,1363.3C727.0,1364.3 724.5,1364.8 722.2,1364.2C720.0,1363.6 718.0,1363.0 715.7,1359.9C713.4,1356.7 710.3,1350.7 708.5,1345.4C706.6,1340.1 705.3,1333.8 704.6,1328.0C703.8,1322.2 703.4,1315.8 703.8,1310.7C704.3,1305.5 705.5,1300.8 707.0,1297.3C708.6,1293.9 711.0,1291.6 713.3,1290.1C715.5,1288.6 717.7,1288.3 720.8,1288.4Z" fill="none" stroke="#231f20" stroke-width="1.75" stroke-linejoin="round"/>
<path d="M736.4,1317.8C736.3,1322.0 735.4,1328.3 734.6,1332.9C733.7,1337.6 732.7,1342.1 731.4,1345.7C730.0,1349.3 728.1,1352.3 726.7,1354.2C725.2,1356.2 724.0,1357.3 722.7,1357.3C721.3,1357.3 720.1,1356.2 718.7,1354.2C717.2,1352.3 715.7,1349.3 714.0,1345.7C712.3,1342.1 709.7,1337.6 708.4,1332.9C707.2,1328.3 706.7,1322.0 706.6,1317.8C706.5,1313.6 707.0,1310.9 707.7,1307.8C708.5,1304.7 709.6,1301.6 711.0,1299.2C712.3,1296.9 714.0,1294.8 715.8,1293.5C717.6,1292.3 719.6,1291.5 721.5,1291.5C723.4,1291.5 725.5,1292.3 727.2,1293.5C729.0,1294.8 730.7,1296.9 732.0,1299.2C733.4,1301.6 734.5,1304.7 735.3,1307.8C736.0,1310.9 736.5,1313.6 736.4,1317.8Z" fill="none" stroke="#231f20" stroke-width="1.9" stroke-linejoin="round"/>
<path d="M733.8,1316.8C733.7,1320.5 732.9,1325.9 732.3,1329.9C731.6,1333.9 730.8,1337.8 729.8,1340.9C728.7,1344.0 727.1,1346.6 725.9,1348.3C724.6,1350.0 723.6,1350.9 722.5,1350.9C721.4,1350.9 720.4,1350.0 719.2,1348.3C718.0,1346.6 716.7,1344.0 715.3,1340.9C713.8,1337.8 711.5,1333.9 710.5,1329.9C709.4,1325.9 709.0,1320.5 708.9,1316.8C708.8,1313.2 709.3,1310.8 709.9,1308.2C710.5,1305.5 711.4,1302.8 712.6,1300.8C713.7,1298.8 715.1,1297.0 716.6,1295.9C718.1,1294.8 719.8,1294.2 721.4,1294.2C722.9,1294.2 724.7,1294.8 726.1,1295.9C727.6,1297.0 729.0,1298.8 730.2,1300.8C731.3,1302.8 732.3,1305.5 732.9,1308.2C733.5,1310.8 733.9,1313.2 733.8,1316.8Z" fill="none" stroke="#231f20" stroke-width="1.9" stroke-linejoin="round"/>
<path d="M731.2,1315.4C731.1,1318.2 730.5,1322.2 730.0,1325.2C729.5,1328.2 729.0,1331.2 728.2,1333.5C727.4,1335.8 726.0,1337.8 725.1,1339.1C724.1,1340.3 723.3,1341.0 722.4,1341.0C721.5,1341.0 720.7,1340.3 719.7,1339.1C718.7,1337.8 717.8,1335.8 716.5,1333.5C715.3,1331.2 713.3,1328.2 712.5,1325.2C711.6,1322.2 711.3,1318.2 711.2,1315.4C711.2,1312.5 711.5,1310.4 712.0,1308.2C712.5,1306.0 713.3,1303.9 714.2,1302.2C715.1,1300.5 716.2,1299.1 717.4,1298.2C718.6,1297.3 719.9,1296.8 721.2,1296.8C722.5,1296.8 723.9,1297.3 725.0,1298.2C726.2,1299.1 727.4,1300.5 728.3,1302.2C729.2,1303.9 730.0,1306.0 730.4,1308.2C730.9,1310.4 731.3,1312.5 731.2,1315.4Z" fill="none" stroke="#231f20" stroke-width="1.9" stroke-linejoin="round"/>
<path d="M728.0,1311.2C728.0,1312.8 727.4,1314.7 727.1,1316.3C726.8,1317.8 726.7,1319.4 726.2,1320.5C725.7,1321.7 724.7,1322.8 724.0,1323.4C723.3,1324.0 722.7,1324.4 722.1,1324.4C721.4,1324.4 720.9,1324.0 720.2,1323.4C719.5,1322.8 718.9,1321.7 717.9,1320.5C717.0,1319.4 715.4,1317.8 714.7,1316.3C714.0,1314.7 713.9,1312.8 713.8,1311.2C713.8,1309.6 714.0,1308.0 714.4,1306.6C714.7,1305.1 715.3,1303.7 715.9,1302.6C716.6,1301.5 717.4,1300.6 718.2,1300.0C719.0,1299.4 720.0,1299.1 720.9,1299.1C721.8,1299.1 722.8,1299.4 723.6,1300.0C724.5,1300.6 725.3,1301.5 725.9,1302.6C726.6,1303.7 727.1,1305.1 727.5,1306.6C727.8,1308.0 728.1,1309.6 728.0,1311.2Z" fill="none" stroke="#231f20" stroke-width="1.9" stroke-linejoin="round"/>
<path d="M755.5,1309.5C757.1,1308.7 762.8,1308.7 764.5,1309.5C766.2,1310.3 767.3,1313.4 765.6,1314.1C764.0,1314.9 756.5,1314.9 754.8,1314.1C753.1,1313.4 753.9,1310.3 755.5,1309.5Z" fill="none" stroke="#231f20" stroke-width="1.5" stroke-linejoin="round"/>
<path d="M717.6,1424.7C721.2,1424.4 724.6,1425.3 728.0,1426.4C731.4,1427.6 732.6,1430.5 738.1,1431.5C743.7,1432.5 753.8,1432.0 761.3,1432.5C768.8,1433.0 776.7,1433.0 783.0,1434.4C789.3,1435.8 794.9,1437.8 798.9,1440.9C803.0,1444.0 807.0,1449.1 807.3,1453.2C807.7,1457.3 804.4,1462.2 801.1,1465.5C797.8,1468.8 793.5,1471.3 787.4,1472.7C781.2,1474.1 771.9,1473.4 764.2,1473.9C756.5,1474.4 746.8,1474.9 741.0,1475.6C735.3,1476.4 733.4,1477.8 729.5,1478.5C725.6,1479.2 721.5,1480.2 717.6,1479.7C713.7,1479.2 709.6,1478.0 706.3,1475.6C703.0,1473.3 699.7,1469.5 697.6,1465.5C695.6,1461.5 693.9,1456.6 693.9,1451.8C693.8,1446.9 695.3,1440.5 697.3,1436.6C699.4,1432.6 702.9,1429.9 706.3,1427.9C709.7,1425.9 714.0,1424.9 717.6,1424.7Z" fill="#231f20" stroke="#231f20" stroke-width="1.2" stroke-linejoin="round"/>
<path d="M746.8,1438.3C748.3,1436.1 751.0,1437.5 758.4,1437.4C765.8,1437.4 784.1,1437.2 791.1,1438.0C798.1,1438.8 798.4,1439.9 800.5,1442.5C802.7,1445.1 804.1,1449.9 804.1,1453.6C804.1,1457.3 802.7,1462.2 800.5,1464.8C798.4,1467.4 798.1,1468.4 791.1,1469.3C784.1,1470.1 765.8,1469.9 758.4,1469.8C751.0,1469.8 748.3,1471.2 746.8,1469.0C745.3,1466.8 748.8,1459.1 749.4,1456.5C750.1,1454.0 750.9,1454.6 750.9,1453.6C750.9,1452.7 750.1,1453.3 749.4,1450.7C748.8,1448.2 745.3,1440.5 746.8,1438.3Z" fill="#fff" stroke="#231f20" stroke-width="1.75" stroke-linejoin="round"/>
<path d="M746.8,1441.8C748.3,1440.1 752.1,1440.9 758.4,1440.9C764.7,1440.8 778.5,1440.6 784.5,1441.5C790.4,1442.3 791.7,1443.9 793.9,1446.0C796.0,1448.0 797.5,1451.2 797.5,1453.8C797.5,1456.4 796.0,1459.5 793.9,1461.6C791.7,1463.6 790.4,1465.2 784.5,1466.1C778.5,1466.9 764.7,1466.7 758.4,1466.7C752.1,1466.6 748.3,1467.5 746.8,1465.8C745.3,1464.1 748.8,1458.7 749.4,1456.7C750.1,1454.7 750.9,1454.7 750.9,1453.8C750.9,1452.8 750.1,1452.9 749.4,1450.9C748.8,1448.9 745.3,1443.4 746.8,1441.8Z" fill="#fff" stroke="#231f20" stroke-width="1.75" stroke-linejoin="round"/>
<path d="M747.6,1444.9C749.0,1443.8 754.1,1444.1 759.1,1444.1C764.2,1444.0 773.2,1443.8 777.9,1444.7C782.6,1445.5 785.2,1447.6 787.4,1449.1C789.5,1450.7 791.0,1452.3 791.0,1453.9C791.0,1455.5 789.5,1457.2 787.4,1458.7C785.2,1460.2 782.6,1462.3 777.9,1463.2C773.2,1464.0 764.2,1463.8 759.1,1463.8C754.1,1463.7 749.0,1464.1 747.6,1462.9C746.1,1461.7 749.5,1458.3 750.2,1456.8C750.8,1455.3 751.6,1454.9 751.6,1453.9C751.6,1453.0 750.8,1452.5 750.2,1451.0C749.5,1449.5 746.1,1446.1 747.6,1444.9Z" fill="#fff" stroke="#231f20" stroke-width="1.75" stroke-linejoin="round"/>
<path d="M748.6,1447.8C750.1,1447.1 756.4,1447.0 760.1,1447.0C763.9,1446.9 767.7,1446.7 771.1,1447.6C774.5,1448.4 778.4,1451.0 780.5,1452.0C782.7,1453.1 784.2,1453.4 784.2,1454.1C784.2,1454.7 782.7,1455.0 780.5,1456.1C778.4,1457.2 774.5,1459.7 771.1,1460.6C767.7,1461.4 763.9,1461.2 760.1,1461.2C756.4,1461.1 750.1,1461.0 748.6,1460.3C747.1,1459.6 750.5,1458.0 751.2,1457.0C751.8,1455.9 752.6,1455.0 752.6,1454.1C752.6,1453.1 751.8,1452.2 751.2,1451.2C750.5,1450.1 747.1,1448.5 748.6,1447.8Z" fill="#fff" stroke="#231f20" stroke-width="1.75" stroke-linejoin="round"/>
<path d="M752.6,1449.9C754.3,1449.5 765.7,1451.1 770.0,1451.8C774.3,1452.4 778.4,1453.1 778.4,1453.9C778.4,1454.7 774.3,1455.8 770.0,1456.5C765.7,1457.3 754.3,1458.7 752.6,1458.3C750.9,1457.8 759.9,1455.3 759.9,1453.9C759.9,1452.5 750.9,1450.2 752.6,1449.9Z" fill="#fff" stroke="#231f20" stroke-width="1.75" stroke-linejoin="round"/>
<path d="M743.2,1450.7C744.0,1450.7 746.8,1452.9 746.8,1453.9C746.8,1455.0 744.0,1457.1 743.2,1457.1C742.4,1457.1 741.9,1455.0 741.9,1453.9C741.9,1452.9 742.4,1450.7 743.2,1450.7Z" fill="#fff" stroke="#231f20" stroke-width="1.2" stroke-linejoin="round"/>
<circle cx="717.6" cy="1455.4" r="1.5" fill="#fff"/>
<path d="M707.8,1429.3q10,-3 22,0" stroke="#aaa" stroke-width="0.6" fill="none"/>
<path d="M708.9,1432.5q10,-3 22,0" stroke="#aaa" stroke-width="0.6" fill="none"/>
<path d="M710.1,1435.7q10,-3 22,0" stroke="#aaa" stroke-width="0.6" fill="none"/>
<path d="M711.2,1438.9q10,-3 22,0" stroke="#aaa" stroke-width="0.6" fill="none"/>
<line x1="621.10" y1="1274.42" x2="625.50" y2="1274.42" stroke="#231f20" stroke-width="3.4" stroke-linecap="butt"/>
<line x1="621.10" y1="1258.72" x2="625.50" y2="1258.72" stroke="#231f20" stroke-width="3.4" stroke-linecap="butt"/>
<line x1="621.10" y1="1247.58" x2="625.50" y2="1247.58" stroke="#231f20" stroke-width="3.4" stroke-linecap="butt"/>
<line x1="618.10" y1="1238.94" x2="625.50" y2="1238.94" stroke="#231f20" stroke-width="3.6" stroke-linecap="butt"/>
<line x1="621.10" y1="1231.88" x2="625.50" y2="1231.88" stroke="#231f20" stroke-width="3.4" stroke-linecap="butt"/>
<line x1="621.10" y1="1225.91" x2="625.50" y2="1225.91" stroke="#231f20" stroke-width="3.4" stroke-linecap="butt"/>
<line x1="621.10" y1="1220.74" x2="625.50" y2="1220.74" stroke="#231f20" stroke-width="3.4" stroke-linecap="butt"/>
<line x1="621.10" y1="1216.18" x2="625.50" y2="1216.18" stroke="#231f20" stroke-width="3.4" stroke-linecap="butt"/>
<line x1="621.10" y1="1374.39" x2="625.50" y2="1374.39" stroke="#231f20" stroke-width="3.4" stroke-linecap="butt"/>
<line x1="621.10" y1="1356.36" x2="625.50" y2="1356.36" stroke="#231f20" stroke-width="3.4" stroke-linecap="butt"/>
<line x1="621.10" y1="1343.56" x2="625.50" y2="1343.56" stroke="#231f20" stroke-width="3.4" stroke-linecap="butt"/>
<line x1="618.10" y1="1333.63" x2="625.50" y2="1333.63" stroke="#231f20" stroke-width="3.6" stroke-linecap="butt"/>
<line x1="621.10" y1="1325.52" x2="625.50" y2="1325.52" stroke="#231f20" stroke-width="3.4" stroke-linecap="butt"/>
<line x1="621.10" y1="1318.67" x2="625.50" y2="1318.67" stroke="#231f20" stroke-width="3.4" stroke-linecap="butt"/>
<line x1="621.10" y1="1312.73" x2="625.50" y2="1312.73" stroke="#231f20" stroke-width="3.4" stroke-linecap="butt"/>
<line x1="621.10" y1="1307.49" x2="625.50" y2="1307.49" stroke="#231f20" stroke-width="3.4" stroke-linecap="butt"/>
<line x1="621.10" y1="1186.60" x2="625.50" y2="1186.60" stroke="#231f20" stroke-width="3.4" stroke-linecap="butt"/>
<line x1="615.10" y1="1212.10" x2="625.50" y2="1212.10" stroke="#231f20" stroke-width="3.8" stroke-linecap="butt"/>
<line x1="615.10" y1="1302.80" x2="625.50" y2="1302.80" stroke="#231f20" stroke-width="3.8" stroke-linecap="butt"/>
<line x1="615.10" y1="1407.00" x2="625.50" y2="1407.00" stroke="#231f20" stroke-width="3.8" stroke-linecap="butt"/>
<line x1="615.10" y1="1532.30" x2="625.50" y2="1532.30" stroke="#231f20" stroke-width="3.8" stroke-linecap="butt"/>
<line x1="621.10" y1="1455.87" x2="625.50" y2="1455.87" stroke="#231f20" stroke-width="3.4" stroke-linecap="butt"/>
<line x1="621.10" y1="1448.35" x2="625.50" y2="1448.35" stroke="#231f20" stroke-width="3.4" stroke-linecap="butt"/>
<line x1="621.10" y1="1441.46" x2="625.50" y2="1441.46" stroke="#231f20" stroke-width="3.4" stroke-linecap="butt"/>
<line x1="618.10" y1="1434.57" x2="625.50" y2="1434.57" stroke="#231f20" stroke-width="3.6" stroke-linecap="butt"/>
<line x1="621.10" y1="1427.67" x2="625.50" y2="1427.67" stroke="#231f20" stroke-width="3.4" stroke-linecap="butt"/>
<line x1="621.10" y1="1422.04" x2="625.50" y2="1422.04" stroke="#231f20" stroke-width="3.4" stroke-linecap="butt"/>
<line x1="621.10" y1="1417.65" x2="625.50" y2="1417.65" stroke="#231f20" stroke-width="3.4" stroke-linecap="butt"/>
<line x1="621.10" y1="1413.58" x2="625.50" y2="1413.58" stroke="#231f20" stroke-width="3.4" stroke-linecap="butt"/>
<line x1="621.10" y1="1410.45" x2="625.50" y2="1410.45" stroke="#231f20" stroke-width="3.4" stroke-linecap="butt"/>
<line x1="621.10" y1="1483.43" x2="625.50" y2="1483.43" stroke="#231f20" stroke-width="3.4" stroke-linecap="butt"/>
<line x1="621.10" y1="1490.95" x2="625.50" y2="1490.95" stroke="#231f20" stroke-width="3.4" stroke-linecap="butt"/>
<line x1="621.10" y1="1497.84" x2="625.50" y2="1497.84" stroke="#231f20" stroke-width="3.4" stroke-linecap="butt"/>
<line x1="618.10" y1="1504.73" x2="625.50" y2="1504.73" stroke="#231f20" stroke-width="3.6" stroke-linecap="butt"/>
<line x1="621.10" y1="1511.63" x2="625.50" y2="1511.63" stroke="#231f20" stroke-width="3.4" stroke-linecap="butt"/>
<line x1="621.10" y1="1517.26" x2="625.50" y2="1517.26" stroke="#231f20" stroke-width="3.4" stroke-linecap="butt"/>
<line x1="621.10" y1="1521.65" x2="625.50" y2="1521.65" stroke="#231f20" stroke-width="3.4" stroke-linecap="butt"/>
<line x1="621.10" y1="1525.72" x2="625.50" y2="1525.72" stroke="#231f20" stroke-width="3.4" stroke-linecap="butt"/>
<line x1="621.10" y1="1528.85" x2="625.50" y2="1528.85" stroke="#231f20" stroke-width="3.4" stroke-linecap="butt"/>
<rect x="615.10" y="1460.69" width="10.40" height="17.92" fill="#231f20"/>
<rect x="614.80" y="1464.69" width="4.6" height="3.4" fill="#fff"/>
<rect x="614.80" y="1460.39" width="1.4" height="2" fill="#fff"/>
<line x1="835.25" y1="1557.70" x2="835.25" y2="1562.30" stroke="#231f20" stroke-width="3.4" stroke-linecap="butt"/>
<line x1="850.25" y1="1557.70" x2="850.25" y2="1562.30" stroke="#231f20" stroke-width="3.4" stroke-linecap="butt"/>
<line x1="860.90" y1="1557.70" x2="860.90" y2="1562.30" stroke="#231f20" stroke-width="3.4" stroke-linecap="butt"/>
<line x1="869.15" y1="1557.70" x2="869.15" y2="1565.30" stroke="#231f20" stroke-width="3.6" stroke-linecap="butt"/>
<line x1="875.90" y1="1557.70" x2="875.90" y2="1562.30" stroke="#231f20" stroke-width="3.4" stroke-linecap="butt"/>
<line x1="881.60" y1="1557.70" x2="881.60" y2="1562.30" stroke="#231f20" stroke-width="3.4" stroke-linecap="butt"/>
<line x1="886.54" y1="1557.70" x2="886.54" y2="1562.30" stroke="#231f20" stroke-width="3.4" stroke-linecap="butt"/>
<line x1="890.90" y1="1557.70" x2="890.90" y2="1562.30" stroke="#231f20" stroke-width="3.4" stroke-linecap="butt"/>
<line x1="918.13" y1="1557.70" x2="918.13" y2="1562.30" stroke="#231f20" stroke-width="3.4" stroke-linecap="butt"/>
<line x1="931.78" y1="1557.70" x2="931.78" y2="1562.30" stroke="#231f20" stroke-width="3.4" stroke-linecap="butt"/>
<line x1="941.46" y1="1557.70" x2="941.46" y2="1562.30" stroke="#231f20" stroke-width="3.4" stroke-linecap="butt"/>
<line x1="948.97" y1="1557.70" x2="948.97" y2="1565.30" stroke="#231f20" stroke-width="3.6" stroke-linecap="butt"/>
<line x1="955.11" y1="1557.70" x2="955.11" y2="1562.30" stroke="#231f20" stroke-width="3.4" stroke-linecap="butt"/>
<line x1="960.30" y1="1557.70" x2="960.30" y2="1562.30" stroke="#231f20" stroke-width="3.4" stroke-linecap="butt"/>
<line x1="964.79" y1="1557.70" x2="964.79" y2="1562.30" stroke="#231f20" stroke-width="3.4" stroke-linecap="butt"/>
<line x1="968.75" y1="1557.70" x2="968.75" y2="1562.30" stroke="#231f20" stroke-width="3.4" stroke-linecap="butt"/>
<line x1="995.63" y1="1557.70" x2="995.63" y2="1562.30" stroke="#231f20" stroke-width="3.4" stroke-linecap="butt"/>
<line x1="972.30" y1="1557.70" x2="972.30" y2="1568.50" stroke="#231f20" stroke-width="3.8" stroke-linecap="butt"/>
<line x1="894.80" y1="1557.70" x2="894.80" y2="1568.50" stroke="#231f20" stroke-width="3.8" stroke-linecap="butt"/>
<line x1="809.60" y1="1557.70" x2="809.60" y2="1568.50" stroke="#231f20" stroke-width="3.8" stroke-linecap="butt"/>
<line x1="626.70" y1="1557.70" x2="626.70" y2="1568.50" stroke="#231f20" stroke-width="3.8" stroke-linecap="butt"/>
<line x1="685.54" y1="1557.70" x2="685.54" y2="1562.30" stroke="#231f20" stroke-width="3.4" stroke-linecap="butt"/>
<line x1="673.01" y1="1557.70" x2="673.01" y2="1562.30" stroke="#231f20" stroke-width="3.4" stroke-linecap="butt"/>
<line x1="661.95" y1="1557.70" x2="661.95" y2="1562.30" stroke="#231f20" stroke-width="3.4" stroke-linecap="butt"/>
<line x1="653.54" y1="1557.70" x2="653.54" y2="1565.30" stroke="#231f20" stroke-width="3.6" stroke-linecap="butt"/>
<line x1="646.04" y1="1557.70" x2="646.04" y2="1562.30" stroke="#231f20" stroke-width="3.4" stroke-linecap="butt"/>
<line x1="640.27" y1="1557.70" x2="640.27" y2="1562.30" stroke="#231f20" stroke-width="3.4" stroke-linecap="butt"/>
<line x1="636.62" y1="1557.70" x2="636.62" y2="1562.30" stroke="#231f20" stroke-width="3.4" stroke-linecap="butt"/>
<line x1="632.96" y1="1557.70" x2="632.96" y2="1562.30" stroke="#231f20" stroke-width="3.4" stroke-linecap="butt"/>
<line x1="629.76" y1="1557.70" x2="629.76" y2="1562.30" stroke="#231f20" stroke-width="3.4" stroke-linecap="butt"/>
<line x1="749.56" y1="1557.70" x2="749.56" y2="1562.30" stroke="#231f20" stroke-width="3.4" stroke-linecap="butt"/>
<line x1="762.09" y1="1557.70" x2="762.09" y2="1562.30" stroke="#231f20" stroke-width="3.4" stroke-linecap="butt"/>
<line x1="773.15" y1="1557.70" x2="773.15" y2="1562.30" stroke="#231f20" stroke-width="3.4" stroke-linecap="butt"/>
<line x1="781.57" y1="1557.70" x2="781.57" y2="1565.30" stroke="#231f20" stroke-width="3.6" stroke-linecap="butt"/>
<line x1="789.06" y1="1557.70" x2="789.06" y2="1562.30" stroke="#231f20" stroke-width="3.4" stroke-linecap="butt"/>
<line x1="794.83" y1="1557.70" x2="794.83" y2="1562.30" stroke="#231f20" stroke-width="3.4" stroke-linecap="butt"/>
<line x1="798.48" y1="1557.70" x2="798.48" y2="1562.30" stroke="#231f20" stroke-width="3.4" stroke-linecap="butt"/>
<line x1="802.14" y1="1557.70" x2="802.14" y2="1562.30" stroke="#231f20" stroke-width="3.4" stroke-linecap="butt"/>
<line x1="805.34" y1="1557.70" x2="805.34" y2="1562.30" stroke="#231f20" stroke-width="3.4" stroke-linecap="butt"/>
<rect x="699.63" y="1557.70" width="35.85" height="4.6" fill="#231f20"/>
<rect x="699.53" y="1557.70" width="3.4" height="11.00" fill="#231f20"/>
<rect x="732.17" y="1557.70" width="3.4" height="11.00" fill="#231f20"/>
<rect x="715.05" y="1557.70" width="5.6" height="11.00" fill="#231f20"/>
<rect x="708.32" y="1557.70" width="3.4" height="7.80" fill="#231f20"/>
<rect x="723.38" y="1557.70" width="3.4" height="7.80" fill="#231f20"/>
<rect x="625.50" y="1176.30" width="381.90" height="381.40" fill="none" stroke="#231f20" stroke-width="1.8"/>
<line x1="740.40" y1="1174.50" x2="740.40" y2="1557.70" stroke="#231f20" stroke-width="2.4" stroke-linecap="butt"/>
<line x1="625.50" y1="1403.20" x2="1008.30" y2="1403.20" stroke="#231f20" stroke-width="2.4" stroke-linecap="butt"/>
<text font-size="29" text-anchor="start" transform="translate(634.70 1209.30) scale(1.015 1.045)">11.2</text>
<text font-size="29" text-anchor="end" transform="translate(1000.60 1209.30) scale(1.015 1.045)">10.2</text>
<text font-size="29" text-anchor="start" transform="translate(633.40 1540.90) scale(1.015 1.045)">61.4</text>
<text font-size="29" text-anchor="end" transform="translate(1000.60 1540.90) scale(1.015 1.045)">17.2</text>
<text transform="translate(606.50 1220.10) scale(1.03 1.02)" font-size="20" text-anchor="end">10<tspan dy="-8.4" font-size="14">5</tspan></text>
<text transform="translate(606.50 1310.80) scale(1.03 1.02)" font-size="20" text-anchor="end">10<tspan dy="-8.4" font-size="14">4</tspan></text>
<text transform="translate(606.50 1415.00) scale(1.03 1.02)" font-size="20" text-anchor="end">10<tspan dy="-8.4" font-size="14">3</tspan></text>
<text transform="translate(606.50 1541.30) scale(1.03 1.02)" font-size="20" text-anchor="end">–10<tspan dy="-8.4" font-size="14">3</tspan></text>
<text transform="translate(605.90 1471.55) scale(1 1.02)" font-size="20" text-anchor="end">0</text>
<text transform="translate(973.30 1598.20) scale(1.03 1.02)" font-size="20" text-anchor="middle">10<tspan dy="-8.4" font-size="14">5</tspan></text>
<text transform="translate(895.80 1598.20) scale(1.03 1.02)" font-size="20" text-anchor="middle">10<tspan dy="-8.4" font-size="14">4</tspan></text>
<text transform="translate(810.60 1598.20) scale(1.03 1.02)" font-size="20" text-anchor="middle">10<tspan dy="-8.4" font-size="14">3</tspan></text>
<text transform="translate(626.50 1598.20) scale(1.03 1.02)" font-size="20" text-anchor="middle">–10<tspan dy="-8.4" font-size="14">3</tspan></text>
<text transform="translate(718.95 1598.20) scale(1 1.02)" font-size="20" text-anchor="middle">0</text>
</svg>
</body></html>
